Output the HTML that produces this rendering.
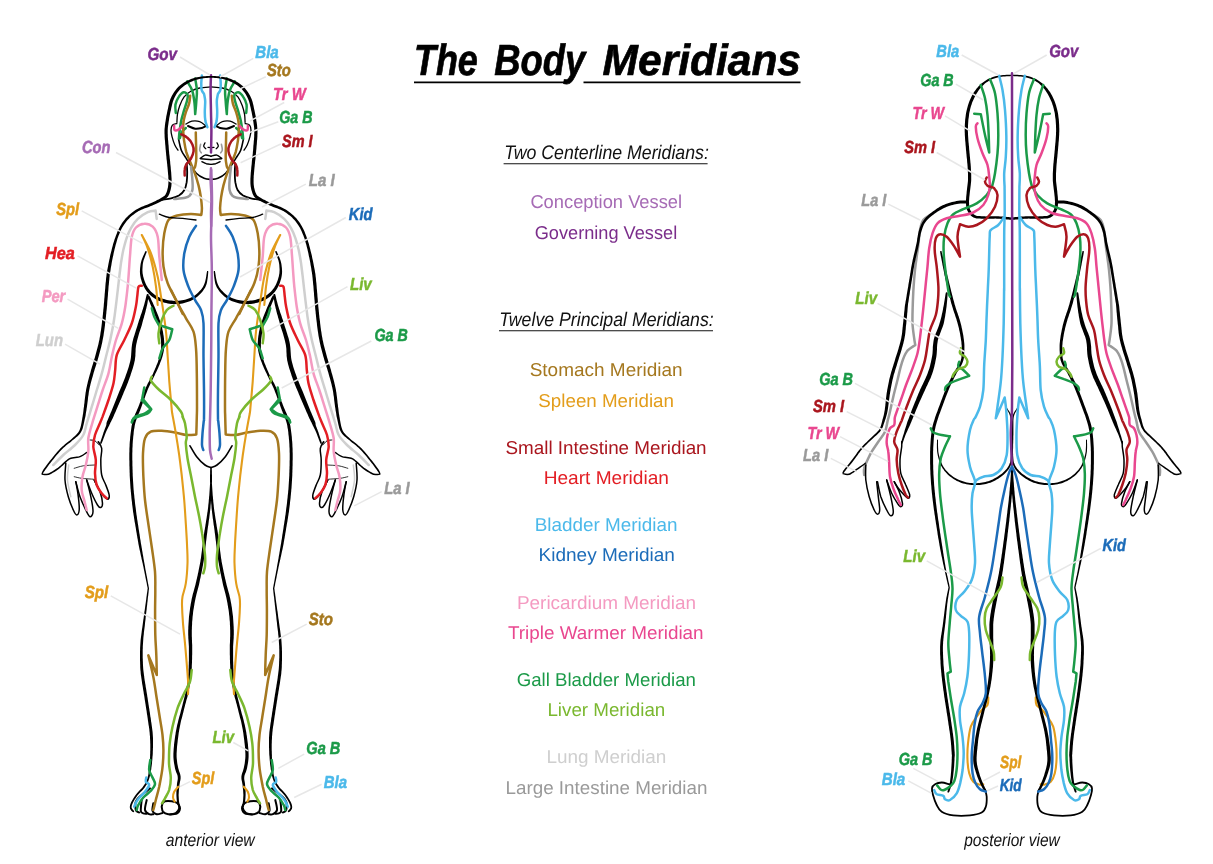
<!DOCTYPE html>
<html><head><meta charset="utf-8"><title>The Body Meridians</title>
<style>
html,body{margin:0;padding:0;background:#fff;}
svg{display:block;font-family:"Liberation Sans",sans-serif;text-rendering:geometricPrecision;will-change:transform;}
</style></head>
<body>
<svg width="1213" height="864" viewBox="0 0 1213 864">
<rect width="1213" height="864" fill="#fff"/>
<path d="M211.0 86.9C209.1 87.1 203.0 87.3 199.7 88.0C196.3 88.7 193.4 89.9 190.8 91.3C188.2 92.8 186.0 94.5 184.1 96.9C182.3 99.3 180.8 102.8 179.7 105.8C178.6 108.7 177.9 111.9 177.4 114.7C177.0 117.4 177.0 121.1 176.9 122.4" stroke="#000" stroke-width="1.3" fill="none" stroke-linecap="round" stroke-linejoin="round"/>
<path d="M211.0 86.9C212.9 87.1 219.0 87.3 222.3 88.0C225.7 88.7 228.6 89.9 231.2 91.3C233.8 92.8 236.0 94.5 237.9 96.9C239.7 99.3 241.2 102.8 242.3 105.8C243.4 108.7 244.1 111.9 244.6 114.7C245.0 117.4 245.0 121.1 245.1 122.4" stroke="#000" stroke-width="1.3" fill="none" stroke-linecap="round" stroke-linejoin="round"/>
<path d="M176.9 123.6C176.1 123.8 173.4 124.1 172.4 125.2C171.5 126.3 171.1 128.3 171.0 130.2C170.9 132.2 171.5 134.5 172.1 136.9C172.7 139.3 173.7 142.4 174.7 144.7C175.6 146.9 177.4 149.3 178.0 150.2" stroke="#000" stroke-width="1.3" fill="none" stroke-linecap="round" stroke-linejoin="round"/>
<path d="M245.1 123.6C245.9 123.8 248.6 124.1 249.6 125.2C250.5 126.3 250.9 128.3 251.0 130.2C251.1 132.2 250.5 134.5 249.9 136.9C249.3 139.3 248.3 142.4 247.3 144.7C246.4 146.9 244.6 149.3 244.0 150.2" stroke="#000" stroke-width="1.3" fill="none" stroke-linecap="round" stroke-linejoin="round"/>
<path d="M178.6 139.1C179.0 141.0 180.1 147.1 181.3 150.2C182.6 153.4 184.7 156.0 185.9 157.9C187.1 159.9 186.9 159.6 188.6 162.2C190.3 164.8 193.7 170.6 196.3 173.3C198.9 176.0 201.7 177.3 204.1 178.3C206.6 179.4 209.9 179.3 211.0 179.4" stroke="#000" stroke-width="1.6" fill="none" stroke-linecap="round" stroke-linejoin="round"/>
<path d="M243.4 139.1C243.0 141.0 241.9 147.1 240.7 150.2C239.4 153.4 237.3 156.0 236.1 157.9C234.9 159.9 235.1 159.6 233.4 162.2C231.7 164.8 228.3 170.6 225.7 173.3C223.1 176.0 220.3 177.3 217.9 178.3C215.4 179.4 212.1 179.3 211.0 179.4" stroke="#000" stroke-width="1.6" fill="none" stroke-linecap="round" stroke-linejoin="round"/>
<path d="M186.7 163.3C186.8 164.8 187.2 169.1 187.2 172.2C187.2 175.4 187.1 179.3 186.7 182.2C186.2 185.2 185.7 187.8 184.4 190.0C183.1 192.2 181.1 194.2 178.9 195.6C176.7 196.9 173.9 197.6 171.1 198.3C168.3 199.0 163.7 199.5 162.2 199.8" stroke="#000" stroke-width="1.8" fill="none" stroke-linecap="round" stroke-linejoin="round"/>
<path d="M235.3 163.3C235.2 164.8 234.8 169.1 234.8 172.2C234.8 175.4 234.9 179.3 235.3 182.2C235.8 185.2 236.3 187.8 237.6 190.0C238.9 192.2 240.9 194.2 243.1 195.6C245.3 196.9 248.1 197.6 250.9 198.3C253.7 199.0 258.3 199.5 259.8 199.8" stroke="#000" stroke-width="1.8" fill="none" stroke-linecap="round" stroke-linejoin="round"/>
<path d="M185.8 124.1C186.8 123.6 189.6 121.5 191.9 121.1C194.2 120.7 197.4 120.8 199.7 121.6C202.0 122.3 204.8 125.1 205.8 125.8" stroke="#000" stroke-width="1.2" fill="none" stroke-linecap="round" stroke-linejoin="round"/>
<path d="M236.2 124.1C235.2 123.6 232.4 121.5 230.1 121.1C227.8 120.7 224.6 120.8 222.3 121.6C220.0 122.3 217.2 125.1 216.2 125.8" stroke="#000" stroke-width="1.2" fill="none" stroke-linecap="round" stroke-linejoin="round"/>
<path d="M188.0 126.0C189.2 126.4 192.9 128.3 195.2 128.7C197.5 129.0 200.1 128.4 201.9 128.0C203.7 127.6 205.4 126.3 206.1 126.0" stroke="#000" stroke-width="2.0" fill="none" stroke-linecap="round" stroke-linejoin="round"/>
<path d="M234.0 126.0C232.8 126.4 229.1 128.3 226.8 128.7C224.5 129.0 221.9 128.4 220.1 128.0C218.3 127.6 216.6 126.3 215.9 126.0" stroke="#000" stroke-width="2.0" fill="none" stroke-linecap="round" stroke-linejoin="round"/>
<path d="M205.0 142.8C204.8 143.3 203.5 145.1 203.7 146.1C203.8 147.1 205.4 148.2 205.8 148.7" stroke="#000" stroke-width="1.3" fill="none" stroke-linecap="round" stroke-linejoin="round"/>
<path d="M217.0 142.8C217.2 143.3 218.5 145.1 218.3 146.1C218.2 147.1 216.6 148.2 216.2 148.7" stroke="#000" stroke-width="1.3" fill="none" stroke-linecap="round" stroke-linejoin="round"/>
<path d="M208.0 147.3L211.0 147.6" stroke="#000" stroke-width="1.3" fill="none" stroke-linecap="round" stroke-linejoin="round"/>
<path d="M214.0 147.3L211.0 147.6" stroke="#000" stroke-width="1.3" fill="none" stroke-linecap="round" stroke-linejoin="round"/>
<path d="M200.2 158.4C201.1 157.9 203.4 155.5 205.2 155.1C207.0 154.8 210.0 156.1 211.0 156.3" stroke="#000" stroke-width="1.4" fill="none" stroke-linecap="round" stroke-linejoin="round"/>
<path d="M221.8 158.4C220.9 157.9 218.6 155.5 216.8 155.1C215.0 154.8 212.0 156.1 211.0 156.3" stroke="#000" stroke-width="1.4" fill="none" stroke-linecap="round" stroke-linejoin="round"/>
<path d="M200.6 158.7C201.5 158.8 204.6 159.1 206.3 159.2C208.1 159.4 210.2 159.5 211.0 159.6" stroke="#000" stroke-width="1.4" fill="none" stroke-linecap="round" stroke-linejoin="round"/>
<path d="M221.4 158.7C220.5 158.8 217.4 159.1 215.7 159.2C213.9 159.4 211.8 159.5 211.0 159.6" stroke="#000" stroke-width="1.4" fill="none" stroke-linecap="round" stroke-linejoin="round"/>
<path d="M201.9 161.7C202.6 162.0 204.8 163.2 206.3 163.7C207.9 164.1 210.2 164.3 211.0 164.4" stroke="#000" stroke-width="1.4" fill="none" stroke-linecap="round" stroke-linejoin="round"/>
<path d="M220.1 161.7C219.4 162.0 217.2 163.2 215.7 163.7C214.1 164.1 211.8 164.3 211.0 164.4" stroke="#000" stroke-width="1.4" fill="none" stroke-linecap="round" stroke-linejoin="round"/>
<path d="M211.0 75.2C210.9 77.7 210.6 84.0 210.6 90.2C210.6 96.4 210.9 105.8 211.0 112.4C211.1 119.1 211.4 123.6 211.4 130.2C211.4 136.9 211.1 148.7 211.0 152.4" stroke="#7b2d8b" stroke-width="2.5" fill="none" stroke-linecap="round" stroke-linejoin="round"/>
<path d="M211.0 168.3C210.9 170.3 210.5 175.3 210.6 180.0C210.6 184.7 211.4 191.1 211.4 196.7C211.5 202.2 211.0 208.4 211.0 213.3C211.0 218.2 211.2 223.9 211.2 226.0" stroke="#a66bb5" stroke-width="2.5" fill="none" stroke-linecap="round" stroke-linejoin="round"/>
<path d="M201.9 75.6C201.8 76.7 201.4 80.1 201.3 82.4C201.3 84.8 201.1 87.7 201.6 89.7C202.0 91.6 203.7 93.4 204.1 94.1C204.3 95.3 205.1 98.3 205.2 101.3C205.3 104.4 204.7 109.1 204.8 112.4C204.8 115.7 205.0 118.7 205.4 121.1C205.9 123.6 207.1 126.2 207.4 127.2" stroke="#4bb9ea" stroke-width="2.5" fill="none" stroke-linecap="round" stroke-linejoin="round"/>
<path d="M220.1 75.6C220.2 76.7 220.6 80.1 220.7 82.4C220.7 84.8 220.9 87.7 220.4 89.7C220.0 91.6 218.3 93.4 217.9 94.1C217.7 95.3 216.9 98.3 216.8 101.3C216.7 104.4 217.3 109.1 217.2 112.4C217.2 115.7 217.0 118.7 216.6 121.1C216.1 123.6 214.9 126.2 214.6 127.2" stroke="#4bb9ea" stroke-width="2.5" fill="none" stroke-linecap="round" stroke-linejoin="round"/>
<path d="M187.2 81.3C188.0 82.8 190.9 86.9 192.1 90.2C193.3 93.6 193.8 97.4 194.3 101.3C194.9 105.3 195.1 112.0 195.2 114.1C195.4 112.0 196.1 105.3 196.3 101.3C196.6 97.4 197.1 94.0 196.9 90.2C196.7 86.4 195.5 80.5 195.2 78.6" stroke="#1b9a48" stroke-width="2.5" fill="none" stroke-linecap="round" stroke-linejoin="round"/>
<path d="M234.8 81.3C234.0 82.8 231.1 86.9 229.9 90.2C228.7 93.6 228.2 97.4 227.7 101.3C227.1 105.3 226.9 112.0 226.8 114.1C226.6 112.0 225.9 105.3 225.7 101.3C225.4 97.4 224.9 94.0 225.1 90.2C225.3 86.4 226.5 80.5 226.8 78.6" stroke="#1b9a48" stroke-width="2.5" fill="none" stroke-linecap="round" stroke-linejoin="round"/>
<path d="M175.8 113.0C175.7 111.6 175.0 107.3 175.4 104.7C175.9 102.0 177.2 99.2 178.6 97.1C179.9 95.0 182.0 92.5 183.6 92.2C185.1 91.9 187.1 93.7 187.7 95.2C188.2 96.7 187.5 98.8 186.9 101.3C186.3 103.8 185.0 107.1 184.1 110.2C183.2 113.4 182.1 116.9 181.3 120.2C180.6 123.6 180.1 127.2 179.7 130.2C179.3 133.3 179.0 137.2 178.9 138.6" stroke="#1b9a48" stroke-width="2.5" fill="none" stroke-linecap="round" stroke-linejoin="round"/>
<path d="M246.2 113.0C246.3 111.6 247.0 107.3 246.6 104.7C246.1 102.0 244.8 99.2 243.4 97.1C242.1 95.0 240.0 92.5 238.4 92.2C236.9 91.9 234.9 93.7 234.3 95.2C233.8 96.7 234.5 98.8 235.1 101.3C235.7 103.8 237.0 107.1 237.9 110.2C238.8 113.4 239.9 116.9 240.7 120.2C241.4 123.6 241.9 127.2 242.3 130.2C242.7 133.3 243.0 137.2 243.1 138.6" stroke="#1b9a48" stroke-width="2.5" fill="none" stroke-linecap="round" stroke-linejoin="round"/>
<path d="M185.8 128.0C185.2 128.6 183.1 129.9 182.1 131.6C181.1 133.2 180.3 136.9 179.9 138.0" stroke="#1b9a48" stroke-width="2.5" fill="none" stroke-linecap="round" stroke-linejoin="round"/>
<path d="M236.2 128.0C236.8 128.6 238.9 129.9 239.9 131.6C240.9 133.2 241.7 136.9 242.1 138.0" stroke="#1b9a48" stroke-width="2.5" fill="none" stroke-linecap="round" stroke-linejoin="round"/>
<path d="M190.2 95.8C190.0 97.1 189.9 100.8 189.1 103.6C188.4 106.3 186.7 109.5 185.8 112.4C184.9 115.4 184.0 118.4 183.6 121.3C183.1 124.3 183.1 127.1 183.2 130.2C183.3 133.3 183.5 136.4 184.0 140.1C184.6 143.7 185.2 148.3 186.3 152.2C187.5 156.1 189.3 159.6 190.8 163.3C192.3 167.0 193.9 170.7 195.2 174.4C196.5 178.1 197.6 181.9 198.6 185.6C199.5 189.3 200.2 193.0 200.8 196.7C201.3 200.4 201.8 204.7 201.9 207.8C202.0 210.8 201.4 213.8 201.3 215.0C199.6 214.8 194.7 213.8 190.7 213.9C186.7 214.0 181.0 214.5 177.3 215.5C173.6 216.5 170.7 217.0 168.5 220.0C166.3 223.0 165.3 228.3 164.3 233.3C163.4 238.3 162.8 244.4 162.7 250.0C162.5 255.6 162.7 261.1 163.5 266.7C164.3 272.2 165.6 277.8 167.7 283.3C169.8 288.9 173.5 294.9 176.0 300.0C178.5 305.1 181.6 311.7 182.7 314.0" stroke="#a5781f" stroke-width="2.5" fill="none" stroke-linecap="round" stroke-linejoin="round"/>
<path d="M231.8 95.8C232.0 97.1 232.1 100.8 232.9 103.6C233.6 106.3 235.3 109.5 236.2 112.4C237.1 115.4 238.0 118.4 238.4 121.3C238.9 124.3 238.9 127.1 238.8 130.2C238.7 133.3 238.5 136.4 238.0 140.1C237.4 143.7 236.8 148.3 235.7 152.2C234.5 156.1 232.7 159.6 231.2 163.3C229.7 167.0 228.1 170.7 226.8 174.4C225.5 178.1 224.4 181.9 223.4 185.6C222.5 189.3 221.8 193.0 221.2 196.7C220.7 200.4 220.2 204.7 220.1 207.8C220.0 210.8 220.6 213.8 220.7 215.0C222.4 214.8 227.3 213.8 231.3 213.9C235.3 214.0 241.0 214.5 244.7 215.5C248.4 216.5 251.3 217.0 253.5 220.0C255.7 223.0 256.7 228.3 257.7 233.3C258.6 238.3 259.2 244.4 259.3 250.0C259.5 255.6 259.3 261.1 258.5 266.7C257.7 272.2 256.4 277.8 254.3 283.3C252.2 288.9 248.5 294.9 246.0 300.0C243.5 305.1 240.4 311.7 239.3 314.0" stroke="#a5781f" stroke-width="2.5" fill="none" stroke-linecap="round" stroke-linejoin="round"/>
<path d="M195.8 132.4C195.8 134.7 196.0 141.7 196.1 145.8C196.2 149.9 196.3 154.3 196.3 156.9C196.3 159.4 196.3 159.4 196.1 161.1C195.8 162.8 195.5 165.8 195.0 167.2C194.5 168.6 193.1 169.1 192.8 169.4" stroke="#a5781f" stroke-width="2.5" fill="none" stroke-linecap="round" stroke-linejoin="round"/>
<path d="M226.2 132.4C226.2 134.7 226.0 141.7 225.9 145.8C225.8 149.9 225.7 154.3 225.7 156.9C225.7 159.4 225.7 159.4 225.9 161.1C226.2 162.8 226.5 165.8 227.0 167.2C227.5 168.6 228.9 169.1 229.2 169.4" stroke="#a5781f" stroke-width="2.5" fill="none" stroke-linecap="round" stroke-linejoin="round"/>
<path d="M181.3 134.4C182.4 135.0 185.6 136.1 187.4 137.8C189.3 139.4 191.4 142.2 192.4 144.4C193.5 146.7 193.8 148.7 193.6 151.1C193.3 153.5 192.0 156.7 190.8 158.9C189.6 161.1 187.4 162.6 186.3 164.4C185.3 166.3 184.9 168.1 184.7 170.0C184.4 171.9 184.7 174.6 184.7 175.6" stroke="#aa161e" stroke-width="2.5" fill="none" stroke-linecap="round" stroke-linejoin="round"/>
<path d="M240.7 134.4C239.6 135.0 236.4 136.1 234.6 137.8C232.7 139.4 230.6 142.2 229.6 144.4C228.5 146.7 228.2 148.7 228.4 151.1C228.7 153.5 230.0 156.7 231.2 158.9C232.4 161.1 234.6 162.6 235.7 164.4C236.7 166.3 237.1 168.1 237.3 170.0C237.6 171.9 237.3 174.6 237.3 175.6" stroke="#aa161e" stroke-width="2.5" fill="none" stroke-linecap="round" stroke-linejoin="round"/>
<path d="M174.1 125.8C174.2 126.5 173.9 129.6 174.7 130.2C175.4 130.9 177.3 130.4 178.6 129.7C179.9 128.9 181.8 126.4 182.4 125.8" stroke="#e9478f" stroke-width="2.5" fill="none" stroke-linecap="round" stroke-linejoin="round"/>
<path d="M247.9 125.8C247.8 126.5 248.1 129.6 247.3 130.2C246.6 130.9 244.7 130.4 243.4 129.7C242.1 128.9 240.2 126.4 239.6 125.8" stroke="#e9478f" stroke-width="2.5" fill="none" stroke-linecap="round" stroke-linejoin="round"/>
<path d="M200.6 144.4C200.4 145.4 199.5 148.6 199.7 150.0C199.8 151.4 201.1 152.3 201.3 152.8" stroke="#9a9a9a" stroke-width="1.6" fill="none" stroke-linecap="round" stroke-linejoin="round"/>
<path d="M221.4 144.4C221.6 145.4 222.5 148.6 222.3 150.0C222.2 151.4 220.9 152.3 220.7 152.8" stroke="#9a9a9a" stroke-width="1.6" fill="none" stroke-linecap="round" stroke-linejoin="round"/>
<path d="M191.0 166.7C191.2 168.9 192.2 176.1 192.4 180.0C192.7 183.9 192.9 187.4 192.4 190.0C192.0 192.6 190.9 194.3 189.7 195.6C188.5 196.9 187.8 197.2 185.2 197.8C182.6 198.4 176.0 198.9 174.1 199.1" stroke="#9a9a9a" stroke-width="2.5" fill="none" stroke-linecap="round" stroke-linejoin="round"/>
<path d="M231.0 166.7C230.8 168.9 229.8 176.1 229.6 180.0C229.3 183.9 229.1 187.4 229.6 190.0C230.0 192.6 231.1 194.3 232.3 195.6C233.5 196.9 234.2 197.2 236.8 197.8C239.4 198.4 246.0 198.9 247.9 199.1" stroke="#9a9a9a" stroke-width="2.5" fill="none" stroke-linecap="round" stroke-linejoin="round"/>
<path d="M211.0 76.1L210.0 76.1L208.6 76.1L207.0 76.1L205.2 76.2L203.4 76.3L201.7 76.5L200.2 76.7L198.7 76.9L197.2 77.2L195.6 77.6L194.1 78.0L192.6 78.5L191.0 79.1L189.5 79.7L187.9 80.4L186.3 81.2L184.8 82.0L183.3 83.0L181.9 83.9L180.6 85.0L179.3 86.1L178.0 87.3L176.8 88.5L175.7 89.9L174.7 91.2L173.7 92.7L172.8 94.2L171.9 95.8L171.1 97.4L170.4 99.1L169.9 100.6L169.4 102.1L169.0 103.7L168.6 105.3L168.3 106.8L168.0 108.4L167.6 109.9L167.3 111.5L167.0 113.0L166.7 114.6L166.3 116.2L166.1 117.8L165.8 119.4L165.6 120.9L165.3 122.5L165.1 123.9L164.9 125.4L164.8 126.9L164.6 128.5L164.5 130.3L164.5 132.2L164.5 133.6L164.6 135.0L164.6 136.4L164.7 138.0L164.8 139.5L165.0 141.1L165.1 142.7L165.2 144.3L165.4 145.9L165.5 147.5L165.6 149.0L165.8 150.6L165.9 152.1L166.1 153.7L166.2 155.3L166.4 156.8L166.5 158.4L166.7 159.9L166.9 161.4L167.0 162.9L167.2 164.3L167.3 165.7L167.5 167.6L167.7 169.4L167.8 171.1L168.0 172.9L168.1 174.5L168.3 176.1L168.3 177.5L168.4 178.9L168.4 181.0L168.4 182.8L168.3 184.4L168.1 185.9L167.9 187.5L167.5 189.1L167.1 190.7L166.6 192.2L166.0 193.6L165.4 194.7L164.6 195.7L163.8 196.3L162.7 197.1L161.0 198.0L159.9 198.7L158.6 199.4L157.1 200.1L155.6 200.9L153.9 201.7L152.3 202.5L150.6 203.2L149.3 203.8L147.8 204.4L146.4 205.0L144.8 205.6L143.3 206.2L141.7 206.8L140.2 207.5L138.8 208.2L137.4 208.9L135.9 209.8L134.5 210.7L133.1 211.7L131.8 212.7L130.6 213.7L129.4 214.8L128.2 215.8L127.1 216.9L125.9 218.1L124.8 219.4L123.8 220.7L122.8 222.0L121.9 223.3L121.1 224.7L120.3 226.0L119.5 227.4L118.7 228.9L118.1 230.3L117.4 231.8L116.9 233.2L116.3 234.7L115.7 236.2L115.2 237.8L114.6 239.3L114.1 240.9L113.6 242.5L113.1 244.1L112.7 245.8L112.2 247.4L111.8 248.9L111.5 250.4L111.1 252.0L110.7 253.5L110.3 255.1L110.0 256.6L109.7 258.2L109.3 259.7L109.0 261.2L108.7 262.8L108.4 264.3L108.1 265.9L107.8 267.4L107.5 269.0L107.2 270.5L107.0 272.0L106.7 273.5L106.5 274.9L106.4 276.2L106.2 277.6L106.0 279.2L105.9 281.0L105.6 283.2L105.5 284.4L105.4 285.8L105.3 287.2L105.2 288.7L105.0 290.3L104.9 292.0L104.7 293.7L104.6 295.4L104.5 297.1L104.3 298.8L104.2 300.4L104.1 302.1L103.9 303.6L103.8 305.1L103.7 306.5L103.5 308.2L103.3 309.9L103.2 311.5L103.0 313.0L102.9 314.5L102.7 315.9L102.6 317.4L102.4 318.8L102.2 320.2L102.0 321.6L101.9 323.1L101.7 324.6L101.5 326.2L101.3 327.7L101.1 329.2L100.9 330.7L100.6 332.2L100.4 333.7L100.2 335.2L99.9 336.7L99.6 338.2L99.4 339.7L99.0 341.2L98.7 342.7L98.4 344.2L98.0 345.7L97.6 347.2L97.2 348.7L96.8 350.2L96.4 351.7L96.0 353.2L95.6 354.7L95.2 356.2L94.8 357.7L94.3 359.2L93.9 360.7L93.4 362.2L93.0 363.7L92.5 365.3L92.0 366.8L91.6 368.3L91.1 369.8L90.7 371.4L90.3 372.9L89.8 374.4L89.4 375.9L89.0 377.5L88.6 379.0L88.2 380.5L87.8 382.0L87.5 383.6L87.1 385.1L86.8 386.6L86.4 388.2L86.1 389.7L85.9 391.3L85.6 392.8L85.4 394.4L85.2 396.0L85.0 397.6L84.8 399.2L84.6 400.7L84.5 402.2L84.3 403.7L84.1 405.1L84.0 406.5L83.7 408.3L83.5 410.1L83.3 411.7L83.1 413.4L82.8 414.9L82.6 416.5L82.3 418.0L82.1 419.6L81.8 421.1L81.5 422.7L81.2 424.3L80.9 425.8L80.5 427.2L80.1 428.6L79.6 429.9L79.1 431.1L78.2 432.4L77.3 433.6L76.2 434.8L75.0 435.9L73.7 437.0L72.4 438.2L71.1 439.4L69.9 440.4L68.8 441.3L67.5 442.3L66.2 443.3L65.0 444.3L63.7 445.4L62.4 446.5L61.1 447.7L60.0 448.8L59.0 449.9L58.0 451.1L56.9 452.3L55.9 453.5L54.8 454.8L53.8 456.0L52.8 457.2L51.9 458.4L51.0 459.5L49.9 460.8L48.8 462.2L47.8 463.6L46.7 465.0L45.8 466.2L44.9 467.5L44.1 468.6L43.4 469.5L42.3 471.6L41.7 473.0L41.4 473.9L42.6 474.4L43.0 473.6L43.6 472.3L44.9 470.5L45.5 469.5L46.3 468.4L47.2 467.3L48.1 466.0L49.1 464.6L50.2 463.3L51.2 461.9L52.3 460.5L53.2 459.4L54.2 458.3L55.1 457.1L56.1 455.8L57.2 454.6L58.2 453.4L59.2 452.2L60.3 451.1L61.3 450.0L62.3 448.9L63.5 447.8L64.8 446.7L66.0 445.6L67.3 444.6L68.6 443.6L69.8 442.7L71.0 441.7L72.2 440.6L73.6 439.5L74.9 438.4L76.2 437.3L77.6 436.2L78.8 435.0L79.9 433.7L80.9 432.2L81.7 430.8L82.3 429.4L82.8 427.9L83.2 426.3L83.6 424.8L83.9 423.2L84.3 421.6L84.6 420.1L84.9 418.5L85.3 417.0L85.6 415.4L85.8 413.8L86.1 412.1L86.4 410.5L86.6 408.7L86.9 406.9L87.1 405.5L87.3 404.1L87.5 402.6L87.7 401.1L87.9 399.5L88.0 398.0L88.2 396.4L88.5 394.9L88.7 393.3L88.9 391.8L89.2 390.3L89.5 388.8L89.8 387.3L90.2 385.8L90.5 384.3L90.9 382.8L91.3 381.3L91.7 379.8L92.1 378.3L92.6 376.8L93.0 375.3L93.4 373.8L93.8 372.3L94.3 370.8L94.7 369.3L95.2 367.8L95.7 366.3L96.2 364.7L96.6 363.2L97.1 361.7L97.6 360.2L98.0 358.6L98.5 357.1L98.9 355.6L99.3 354.1L99.7 352.6L100.1 351.0L100.5 349.5L100.9 348.0L101.3 346.5L101.6 344.9L102.0 343.4L102.3 341.9L102.6 340.3L102.9 338.8L103.2 337.3L103.5 335.7L103.7 334.2L103.9 332.7L104.2 331.1L104.4 329.6L104.6 328.1L104.8 326.6L105.0 325.1L105.1 323.5L105.3 322.0L105.5 320.6L105.7 319.1L105.8 317.7L106.0 316.3L106.1 314.8L106.3 313.4L106.4 311.8L106.6 310.2L106.8 308.6L106.9 306.8L107.1 305.4L107.2 303.9L107.3 302.3L107.4 300.7L107.6 299.0L107.7 297.4L107.9 295.6L108.0 293.9L108.1 292.2L108.3 290.6L108.4 289.0L108.5 287.5L108.6 286.1L108.8 284.7L108.9 283.5L109.1 281.3L109.3 279.5L109.4 278.0L109.6 276.6L109.7 275.3L109.9 274.0L110.1 272.5L110.4 271.0L110.6 269.5L110.8 268.0L111.1 266.5L111.4 264.9L111.6 263.4L111.9 261.8L112.2 260.3L112.5 258.8L112.8 257.2L113.2 255.7L113.5 254.1L113.8 252.6L114.2 251.1L114.5 249.6L114.9 248.1L115.3 246.5L115.7 244.8L116.2 243.2L116.6 241.7L117.1 240.1L117.5 238.6L118.1 237.1L118.6 235.6L119.2 234.2L119.8 232.7L120.4 231.3L121.0 230.0L121.7 228.6L122.4 227.3L123.2 226.0L124.0 224.7L124.9 223.4L125.8 222.2L126.7 221.0L127.8 219.8L128.9 218.7L129.9 217.6L131.0 216.6L132.2 215.6L133.4 214.7L134.6 213.7L135.9 212.8L137.2 211.9L138.6 211.1L139.9 210.4L141.3 209.8L142.7 209.2L144.2 208.6L145.8 208.0L147.3 207.5L148.8 206.9L150.3 206.3L151.7 205.8L153.4 205.0L155.1 204.2L156.8 203.5L158.4 202.7L159.9 202.0L161.3 201.3L162.5 200.6L164.2 199.7L165.6 198.8L166.8 197.8L168.0 196.4L168.8 195.0L169.5 193.4L170.1 191.6L170.6 189.9L171.0 188.1L171.3 186.4L171.5 184.6L171.6 182.9L171.6 181.0L171.6 178.8L171.5 177.4L171.4 175.8L171.3 174.2L171.2 172.6L171.0 170.8L170.8 169.1L170.7 167.3L170.5 165.4L170.3 164.0L170.2 162.6L170.1 161.1L169.9 159.6L169.7 158.0L169.6 156.5L169.4 154.9L169.2 153.4L169.1 151.8L168.9 150.3L168.8 148.8L168.7 147.2L168.6 145.6L168.4 144.1L168.3 142.5L168.2 140.9L168.0 139.3L167.9 137.8L167.8 136.3L167.8 134.8L167.7 133.5L167.7 132.2L167.7 130.4L167.8 128.8L167.9 127.2L168.1 125.8L168.3 124.4L168.5 122.9L168.7 121.4L169.0 119.9L169.2 118.3L169.5 116.8L169.8 115.2L170.1 113.7L170.4 112.1L170.8 110.6L171.1 109.0L171.4 107.5L171.8 105.9L172.1 104.4L172.5 103.0L172.9 101.6L173.4 100.2L174.0 98.7L174.7 97.2L175.5 95.7L176.3 94.3L177.1 93.0L178.1 91.7L179.1 90.5L180.1 89.3L181.2 88.2L182.4 87.2L183.6 86.2L184.9 85.3L186.2 84.4L187.6 83.6L189.0 82.8L190.5 82.1L192.0 81.4L193.4 80.8L194.8 80.3L196.3 79.8L197.7 79.4L199.1 79.0L200.6 78.7L202.0 78.4L203.6 78.2L205.3 78.0L207.0 77.9L208.7 77.8L210.0 77.8L211.0 77.7ZM210.2 76.9a0.80 0.80 0 1 0 1.60 0a0.80 0.80 0 1 0 -1.60 0ZM41.4 474.2a0.60 0.60 0 1 0 1.20 0a0.60 0.60 0 1 0 -1.20 0ZM41.9 474.8L43.0 474.9L44.5 475.2L46.4 475.3L48.6 474.9L49.9 474.4L51.4 473.7L52.9 472.8L54.4 471.9L56.0 470.9L57.4 469.9L58.8 469.0L60.3 467.8L61.6 466.6L62.9 465.4L64.1 464.2L65.3 463.2L66.3 462.2L67.6 461.1L68.7 460.3L69.7 459.6L71.1 459.0L72.3 458.7L73.8 458.5L75.4 458.3L77.1 458.1L78.7 457.8L80.3 457.3L81.9 456.6L83.6 455.6L85.0 454.6L86.2 453.7L87.1 453.1L86.3 451.9L85.4 452.5L84.2 453.4L82.8 454.4L81.3 455.3L79.7 456.0L78.4 456.4L76.9 456.6L75.2 456.8L73.6 457.0L72.0 457.3L70.6 457.6L69.0 458.3L67.8 459.1L66.7 460.0L65.3 461.1L64.2 462.0L63.1 463.1L61.9 464.3L60.6 465.5L59.3 466.6L57.9 467.7L56.6 468.6L55.1 469.6L53.6 470.5L52.1 471.4L50.6 472.2L49.3 472.9L48.1 473.4L46.3 473.8L44.6 473.8L43.1 473.7L42.1 473.6ZM41.4 474.2a0.60 0.60 0 1 0 1.20 0a0.60 0.60 0 1 0 -1.20 0ZM86.0 452.5a0.70 0.70 0 1 0 1.40 0a0.70 0.70 0 1 0 -1.40 0ZM211.0 77.7L212.0 77.8L213.3 77.8L215.0 77.9L216.7 78.0L218.4 78.2L220.0 78.4L221.4 78.7L222.9 79.0L224.3 79.4L225.7 79.8L227.2 80.3L228.6 80.8L230.0 81.4L231.5 82.1L233.0 82.8L234.4 83.6L235.8 84.4L237.1 85.3L238.4 86.2L239.6 87.2L240.8 88.2L241.9 89.3L242.9 90.5L243.9 91.7L244.9 93.0L245.7 94.3L246.5 95.7L247.3 97.2L248.0 98.7L248.6 100.2L249.1 101.6L249.5 103.0L249.9 104.4L250.2 105.9L250.6 107.5L250.9 109.0L251.2 110.6L251.6 112.1L251.9 113.7L252.2 115.2L252.5 116.8L252.8 118.3L253.0 119.9L253.3 121.4L253.5 122.9L253.7 124.4L253.9 125.8L254.1 127.2L254.2 128.8L254.3 130.4L254.3 132.2L254.3 133.5L254.2 134.8L254.2 136.3L254.1 137.8L254.0 139.3L253.8 140.9L253.7 142.5L253.6 144.1L253.4 145.6L253.3 147.2L253.2 148.8L253.1 150.3L252.9 151.8L252.8 153.4L252.6 154.9L252.4 156.5L252.3 158.0L252.1 159.6L251.9 161.1L251.8 162.6L251.7 164.0L251.5 165.4L251.3 167.3L251.2 169.1L251.0 170.8L250.8 172.6L250.7 174.2L250.6 175.8L250.5 177.4L250.4 178.8L250.4 181.0L250.4 182.9L250.5 184.6L250.7 186.4L251.0 188.1L251.4 189.9L251.9 191.6L252.5 193.4L253.2 195.0L254.0 196.4L255.2 197.8L256.4 198.8L257.8 199.7L259.5 200.6L260.7 201.3L262.1 202.0L263.6 202.7L265.2 203.5L266.9 204.2L268.6 205.0L270.3 205.8L271.7 206.3L273.2 206.9L274.7 207.5L276.2 208.0L277.8 208.6L279.3 209.2L280.7 209.8L282.1 210.4L283.4 211.1L284.8 211.9L286.1 212.8L287.4 213.7L288.6 214.7L289.8 215.6L291.0 216.6L292.1 217.6L293.1 218.7L294.2 219.8L295.3 221.0L296.2 222.2L297.1 223.4L298.0 224.7L298.8 226.0L299.6 227.3L300.3 228.6L301.0 230.0L301.6 231.3L302.2 232.7L302.8 234.2L303.4 235.6L303.9 237.1L304.5 238.6L304.9 240.1L305.4 241.7L305.8 243.2L306.3 244.8L306.7 246.5L307.1 248.1L307.5 249.6L307.8 251.1L308.2 252.6L308.5 254.1L308.8 255.7L309.2 257.2L309.5 258.8L309.8 260.3L310.1 261.8L310.4 263.4L310.6 264.9L310.9 266.5L311.2 268.0L311.4 269.5L311.6 271.0L311.9 272.5L312.1 274.0L312.3 275.3L312.4 276.6L312.6 278.0L312.7 279.5L312.9 281.3L313.1 283.5L313.2 284.7L313.4 286.1L313.5 287.5L313.6 289.0L313.7 290.6L313.9 292.2L314.0 293.9L314.1 295.6L314.3 297.4L314.4 299.0L314.6 300.7L314.7 302.3L314.8 303.9L314.9 305.4L315.1 306.8L315.2 308.6L315.4 310.2L315.6 311.8L315.7 313.4L315.9 314.8L316.0 316.3L316.2 317.7L316.3 319.1L316.5 320.6L316.7 322.0L316.9 323.5L317.0 325.1L317.2 326.6L317.4 328.1L317.6 329.6L317.8 331.1L318.1 332.7L318.3 334.2L318.5 335.7L318.8 337.3L319.1 338.8L319.4 340.3L319.7 341.9L320.0 343.4L320.4 344.9L320.7 346.5L321.1 348.0L321.5 349.5L321.9 351.0L322.3 352.6L322.7 354.1L323.1 355.6L323.5 357.1L324.0 358.6L324.4 360.2L324.9 361.7L325.4 363.2L325.8 364.7L326.3 366.3L326.8 367.8L327.3 369.3L327.7 370.8L328.2 372.3L328.6 373.8L329.0 375.3L329.4 376.8L329.9 378.3L330.3 379.8L330.7 381.3L331.1 382.8L331.5 384.3L331.8 385.8L332.2 387.3L332.5 388.8L332.8 390.3L333.1 391.8L333.3 393.3L333.5 394.9L333.8 396.4L334.0 398.0L334.1 399.5L334.3 401.1L334.5 402.6L334.7 404.1L334.9 405.5L335.1 406.9L335.4 408.7L335.6 410.5L335.9 412.1L336.2 413.8L336.4 415.4L336.7 417.0L337.1 418.5L337.4 420.1L337.7 421.6L338.1 423.2L338.4 424.8L338.8 426.3L339.2 427.9L339.7 429.4L340.3 430.8L341.1 432.2L342.1 433.7L343.2 435.0L344.4 436.2L345.8 437.3L347.1 438.4L348.4 439.5L349.8 440.6L351.0 441.7L352.2 442.7L353.4 443.6L354.7 444.6L356.0 445.6L357.2 446.7L358.5 447.8L359.7 448.9L360.7 450.0L361.7 451.1L362.8 452.2L363.8 453.4L364.8 454.6L365.9 455.8L366.9 457.1L367.8 458.3L368.8 459.4L369.7 460.5L370.8 461.9L371.8 463.3L372.9 464.6L373.9 466.0L374.8 467.3L375.7 468.4L376.5 469.5L377.1 470.5L378.4 472.3L379.0 473.6L379.4 474.4L380.6 473.9L380.3 473.0L379.7 471.6L378.6 469.5L377.9 468.6L377.1 467.5L376.2 466.2L375.3 465.0L374.2 463.6L373.2 462.2L372.1 460.8L371.0 459.5L370.1 458.4L369.2 457.2L368.2 456.0L367.2 454.8L366.1 453.5L365.1 452.3L364.0 451.1L363.0 449.9L362.0 448.8L360.9 447.7L359.6 446.5L358.3 445.4L357.0 444.3L355.8 443.3L354.5 442.3L353.2 441.3L352.1 440.4L350.9 439.4L349.6 438.2L348.3 437.0L347.0 435.9L345.8 434.8L344.7 433.6L343.8 432.4L342.9 431.1L342.4 429.9L341.9 428.6L341.5 427.2L341.1 425.8L340.8 424.3L340.5 422.7L340.2 421.1L339.9 419.6L339.7 418.0L339.4 416.5L339.2 414.9L338.9 413.4L338.7 411.7L338.5 410.1L338.3 408.3L338.0 406.5L337.9 405.1L337.7 403.7L337.5 402.2L337.4 400.7L337.2 399.2L337.0 397.6L336.8 396.0L336.6 394.4L336.4 392.8L336.1 391.3L335.9 389.7L335.6 388.2L335.2 386.6L334.9 385.1L334.5 383.6L334.2 382.0L333.8 380.5L333.4 379.0L333.0 377.5L332.6 375.9L332.2 374.4L331.7 372.9L331.3 371.4L330.9 369.8L330.4 368.3L330.0 366.8L329.5 365.3L329.0 363.7L328.6 362.2L328.1 360.7L327.7 359.2L327.2 357.7L326.8 356.2L326.4 354.7L326.0 353.2L325.6 351.7L325.2 350.2L324.8 348.7L324.4 347.2L324.0 345.7L323.6 344.2L323.3 342.7L323.0 341.2L322.6 339.7L322.4 338.2L322.1 336.7L321.8 335.2L321.6 333.7L321.4 332.2L321.1 330.7L320.9 329.2L320.7 327.7L320.5 326.2L320.3 324.6L320.1 323.1L320.0 321.6L319.8 320.2L319.6 318.8L319.4 317.4L319.3 315.9L319.1 314.5L319.0 313.0L318.8 311.5L318.7 309.9L318.5 308.2L318.3 306.5L318.2 305.1L318.1 303.6L317.9 302.1L317.8 300.4L317.7 298.8L317.5 297.1L317.4 295.4L317.3 293.7L317.1 292.0L317.0 290.3L316.8 288.7L316.7 287.2L316.6 285.8L316.5 284.4L316.4 283.2L316.1 281.0L316.0 279.2L315.8 277.6L315.6 276.2L315.5 274.9L315.3 273.5L315.0 272.0L314.8 270.5L314.5 269.0L314.2 267.4L313.9 265.9L313.6 264.3L313.3 262.8L313.0 261.2L312.7 259.7L312.3 258.2L312.0 256.6L311.7 255.1L311.3 253.5L310.9 252.0L310.5 250.4L310.2 248.9L309.8 247.4L309.3 245.8L308.9 244.1L308.4 242.5L307.9 240.9L307.4 239.3L306.8 237.8L306.3 236.2L305.7 234.7L305.1 233.2L304.6 231.8L303.9 230.3L303.3 228.9L302.5 227.4L301.7 226.0L300.9 224.7L300.1 223.3L299.2 222.0L298.2 220.7L297.2 219.4L296.1 218.1L294.9 216.9L293.8 215.8L292.6 214.8L291.4 213.7L290.2 212.7L288.9 211.7L287.5 210.7L286.1 209.8L284.6 208.9L283.2 208.2L281.8 207.5L280.3 206.8L278.7 206.2L277.2 205.6L275.6 205.0L274.2 204.4L272.7 203.8L271.4 203.2L269.7 202.5L268.1 201.7L266.4 200.9L264.9 200.1L263.4 199.4L262.1 198.7L261.0 198.0L259.3 197.1L258.2 196.3L257.4 195.7L256.6 194.7L256.0 193.6L255.4 192.2L254.9 190.7L254.5 189.1L254.1 187.5L253.9 185.9L253.7 184.4L253.6 182.8L253.6 181.0L253.6 178.9L253.7 177.5L253.7 176.1L253.9 174.5L254.0 172.9L254.2 171.1L254.3 169.4L254.5 167.6L254.7 165.7L254.8 164.3L255.0 162.9L255.1 161.4L255.3 159.9L255.5 158.4L255.6 156.8L255.8 155.3L255.9 153.7L256.1 152.1L256.2 150.6L256.4 149.0L256.5 147.5L256.6 145.9L256.8 144.3L256.9 142.7L257.0 141.1L257.2 139.5L257.3 138.0L257.4 136.4L257.4 135.0L257.5 133.6L257.5 132.2L257.5 130.3L257.4 128.5L257.2 126.9L257.1 125.4L256.9 123.9L256.7 122.5L256.4 120.9L256.2 119.4L255.9 117.8L255.7 116.2L255.3 114.6L255.0 113.0L254.7 111.5L254.4 109.9L254.0 108.4L253.7 106.8L253.4 105.3L253.0 103.7L252.6 102.1L252.1 100.6L251.6 99.1L250.9 97.4L250.1 95.8L249.2 94.2L248.3 92.7L247.3 91.2L246.3 89.9L245.2 88.5L244.0 87.3L242.7 86.1L241.4 85.0L240.1 83.9L238.7 83.0L237.2 82.0L235.7 81.2L234.1 80.4L232.5 79.7L231.0 79.1L229.4 78.5L227.9 78.0L226.4 77.6L224.8 77.2L223.3 76.9L221.8 76.7L220.3 76.5L218.6 76.3L216.8 76.2L215.0 76.1L213.4 76.1L212.0 76.1L211.0 76.1ZM210.2 76.9a0.80 0.80 0 1 0 1.60 0a0.80 0.80 0 1 0 -1.60 0ZM379.4 474.2a0.60 0.60 0 1 0 1.20 0a0.60 0.60 0 1 0 -1.20 0ZM379.9 473.6L378.9 473.7L377.4 473.8L375.7 473.8L373.9 473.4L372.7 472.9L371.4 472.2L369.9 471.4L368.4 470.5L366.9 469.6L365.4 468.6L364.1 467.7L362.7 466.6L361.4 465.5L360.1 464.3L358.9 463.1L357.8 462.0L356.7 461.1L355.3 460.0L354.2 459.1L353.0 458.3L351.4 457.6L350.0 457.3L348.4 457.0L346.8 456.8L345.1 456.6L343.6 456.4L342.3 456.0L340.7 455.3L339.2 454.4L337.8 453.4L336.6 452.5L335.7 451.9L334.9 453.1L335.8 453.7L337.0 454.6L338.4 455.6L340.1 456.6L341.7 457.3L343.3 457.8L344.9 458.1L346.6 458.3L348.2 458.5L349.7 458.7L350.9 459.0L352.3 459.6L353.3 460.3L354.4 461.1L355.7 462.2L356.7 463.2L357.9 464.2L359.1 465.4L360.4 466.6L361.7 467.8L363.2 469.0L364.6 469.9L366.0 470.9L367.6 471.9L369.1 472.8L370.6 473.7L372.1 474.4L373.4 474.9L375.6 475.3L377.5 475.2L379.0 474.9L380.1 474.8ZM379.4 474.2a0.60 0.60 0 1 0 1.20 0a0.60 0.60 0 1 0 -1.20 0ZM334.6 452.5a0.70 0.70 0 1 0 1.40 0a0.70 0.70 0 1 0 -1.40 0Z" fill="#000"/>
<path d="M65.8 463.3C65.7 466.1 64.6 474.4 65.0 480.0C65.4 485.6 66.9 491.7 68.3 496.7C69.7 501.7 71.9 506.9 73.3 510.0C74.7 513.1 75.7 515.0 76.7 515.0C77.6 515.0 78.9 513.1 79.2 510.0C79.4 506.9 78.9 501.4 78.3 496.7C77.8 491.9 76.3 484.2 75.8 481.7" stroke="#000" stroke-width="1.5" fill="none" stroke-linecap="round" stroke-linejoin="round"/>
<path d="M356.2 463.3C356.3 466.1 357.4 474.4 357.0 480.0C356.6 485.6 355.1 491.7 353.7 496.7C352.3 501.7 350.1 506.9 348.7 510.0C347.3 513.1 346.3 515.0 345.3 515.0C344.4 515.0 343.1 513.1 342.8 510.0C342.6 506.9 343.1 501.4 343.7 496.7C344.2 491.9 345.7 484.2 346.2 481.7" stroke="#000" stroke-width="1.5" fill="none" stroke-linecap="round" stroke-linejoin="round"/>
<path d="M75.8 481.7C76.5 484.2 78.3 491.9 80.0 496.7C81.7 501.4 84.2 506.7 85.8 510.0C87.5 513.3 88.8 516.4 90.0 516.7C91.2 516.9 92.9 515.0 93.0 511.7C93.1 508.3 91.9 501.9 90.8 496.7C89.8 491.4 87.4 482.8 86.7 480.0" stroke="#000" stroke-width="1.5" fill="none" stroke-linecap="round" stroke-linejoin="round"/>
<path d="M346.2 481.7C345.5 484.2 343.7 491.9 342.0 496.7C340.3 501.4 337.8 506.7 336.2 510.0C334.5 513.3 333.2 516.4 332.0 516.7C330.8 516.9 329.1 515.0 329.0 511.7C328.9 508.3 330.1 501.9 331.2 496.7C332.2 491.4 334.6 482.8 335.3 480.0" stroke="#000" stroke-width="1.5" fill="none" stroke-linecap="round" stroke-linejoin="round"/>
<path d="M86.7 480.0C87.5 482.2 89.9 489.2 91.7 493.3C93.5 497.5 96.0 502.6 97.5 505.0C99.0 507.4 100.0 507.8 100.8 507.5C101.7 507.2 102.6 506.0 102.5 503.3C102.4 500.7 101.4 495.6 100.0 491.7C98.6 487.8 95.1 481.9 94.2 480.0" stroke="#000" stroke-width="1.5" fill="none" stroke-linecap="round" stroke-linejoin="round"/>
<path d="M335.3 480.0C334.5 482.2 332.1 489.2 330.3 493.3C328.5 497.5 326.0 502.6 324.5 505.0C323.0 507.4 322.0 507.8 321.2 507.5C320.3 507.2 319.4 506.0 319.5 503.3C319.6 500.7 320.6 495.6 322.0 491.7C323.4 487.8 326.9 481.9 327.8 480.0" stroke="#000" stroke-width="1.5" fill="none" stroke-linecap="round" stroke-linejoin="round"/>
<path d="M94.2 480.0C94.9 481.4 96.7 485.6 98.3 488.3C100.0 491.1 102.6 494.9 104.2 496.7C105.8 498.5 107.2 499.4 108.0 499.2C108.8 498.9 109.5 497.4 109.2 495.0C108.8 492.6 107.1 488.3 105.8 485.0C104.6 481.7 102.5 479.2 101.7 475.0C100.8 470.8 100.8 464.4 100.8 460.0C100.8 455.6 102.1 451.4 101.7 448.3C101.2 445.3 98.9 442.8 98.3 441.7" stroke="#000" stroke-width="1.5" fill="none" stroke-linecap="round" stroke-linejoin="round"/>
<path d="M327.8 480.0C327.1 481.4 325.3 485.6 323.7 488.3C322.0 491.1 319.4 494.9 317.8 496.7C316.2 498.5 314.8 499.4 314.0 499.2C313.2 498.9 312.5 497.4 312.8 495.0C313.2 492.6 314.9 488.3 316.2 485.0C317.4 481.7 319.5 479.2 320.3 475.0C321.2 470.8 321.2 464.4 321.2 460.0C321.2 455.6 319.9 451.4 320.3 448.3C320.8 445.3 323.1 442.8 323.7 441.7" stroke="#000" stroke-width="1.5" fill="none" stroke-linecap="round" stroke-linejoin="round"/>
<path d="M90.0 440.0C90.8 440.1 93.5 440.0 95.0 440.8C96.5 441.7 98.5 444.3 99.2 445.0" stroke="#000" stroke-width="1.0" fill="none" stroke-linecap="round" stroke-linejoin="round"/>
<path d="M332.0 440.0C331.2 440.1 328.5 440.0 327.0 440.8C325.5 441.7 323.5 444.3 322.8 445.0" stroke="#000" stroke-width="1.0" fill="none" stroke-linecap="round" stroke-linejoin="round"/>
<path d="M74.2 468.3C75.7 467.9 79.9 466.4 83.3 465.8C86.8 465.3 93.1 465.1 95.0 465.0" stroke="#000" stroke-width="0.8" fill="none" stroke-linecap="round" stroke-linejoin="round"/>
<path d="M347.8 468.3C346.3 467.9 342.1 466.4 338.7 465.8C335.2 465.3 328.9 465.1 327.0 465.0" stroke="#000" stroke-width="0.8" fill="none" stroke-linecap="round" stroke-linejoin="round"/>
<path d="M74.2 476.7C75.4 476.9 78.5 477.9 81.7 478.3C84.9 478.8 91.4 479.0 93.3 479.2" stroke="#000" stroke-width="0.8" fill="none" stroke-linecap="round" stroke-linejoin="round"/>
<path d="M347.8 476.7C346.6 476.9 343.5 477.9 340.3 478.3C337.1 478.8 330.6 479.0 328.7 479.2" stroke="#000" stroke-width="0.8" fill="none" stroke-linecap="round" stroke-linejoin="round"/>
<path d="M146.7 294.8L146.4 295.8L146.1 297.1L145.7 298.7L145.3 300.4L144.8 302.3L144.3 304.3L143.7 306.3L143.3 307.6L142.9 308.9L142.4 310.3L142.0 311.7L141.5 313.2L140.9 314.7L140.4 316.3L139.9 317.9L139.3 319.5L138.8 321.1L138.3 322.8L137.8 324.2L137.4 325.7L136.9 327.2L136.4 328.7L135.9 330.3L135.4 331.9L134.9 333.5L134.4 335.2L133.9 336.8L133.4 338.3L133.0 339.9L132.6 341.4L132.3 342.9L132.0 344.7L131.8 346.3L131.6 347.9L131.5 349.5L131.4 351.0L131.3 352.5L131.2 354.0L131.1 355.4L131.0 356.8L130.8 358.2L130.6 359.6L130.3 361.0L129.9 362.5L129.5 364.0L129.1 365.5L128.7 366.9L128.2 368.4L127.7 369.9L127.2 371.4L126.7 372.9L126.1 374.4L125.6 375.9L125.1 377.4L124.5 378.9L124.0 380.3L123.4 381.8L122.8 383.2L122.2 384.7L121.6 386.2L120.9 387.7L120.3 389.2L119.6 390.8L118.9 392.5L118.4 393.8L117.8 395.3L117.2 396.7L116.6 398.3L116.0 399.8L115.3 401.4L114.7 403.0L114.1 404.5L113.5 406.0L112.9 407.5L112.3 408.9L111.8 410.2L111.3 411.4L110.8 412.5L109.9 414.8L109.0 416.8L108.3 418.4L107.7 419.9L107.2 421.1L106.7 422.3L106.4 423.8L106.4 424.6L106.1 425.7L105.5 427.3L104.8 429.1L104.0 431.3L103.5 432.6L103.0 434.2L102.4 435.9L101.9 437.6L101.3 439.3L100.8 440.8L100.4 442.1L100.1 443.1L101.5 443.6L101.9 442.7L102.4 441.4L103.0 439.9L103.6 438.2L104.3 436.5L104.9 434.8L105.5 433.3L106.0 432.1L106.9 430.0L107.8 428.3L108.5 426.8L109.2 425.5L109.6 424.6L110.1 423.5L110.5 422.6L111.1 421.4L111.8 420.0L112.6 418.4L113.5 416.4L114.5 414.1L115.0 413.0L115.6 411.8L116.1 410.5L116.7 409.1L117.4 407.6L118.0 406.1L118.7 404.6L119.3 403.0L120.0 401.5L120.6 399.9L121.3 398.4L121.9 397.0L122.5 395.5L123.1 394.2L123.7 392.6L124.4 391.0L125.0 389.4L125.7 387.9L126.3 386.4L126.9 384.9L127.5 383.4L128.1 381.9L128.6 380.4L129.2 378.9L129.7 377.4L130.3 375.9L130.8 374.3L131.3 372.8L131.8 371.3L132.3 369.7L132.8 368.2L133.2 366.7L133.7 365.1L134.1 363.5L134.4 362.0L134.8 360.4L135.0 358.8L135.2 357.2L135.4 355.7L135.4 354.2L135.5 352.7L135.6 351.2L135.6 349.8L135.7 348.3L135.9 346.8L136.1 345.3L136.4 343.7L136.7 342.4L137.0 340.9L137.4 339.4L137.8 337.9L138.3 336.3L138.7 334.7L139.2 333.1L139.7 331.5L140.2 330.0L140.7 328.4L141.2 326.9L141.7 325.4L142.1 323.9L142.5 322.2L143.0 320.6L143.4 319.0L143.9 317.4L144.3 315.8L144.8 314.2L145.2 312.7L145.6 311.2L145.9 309.8L146.3 308.4L146.6 307.0L147.1 305.0L147.5 302.9L147.8 301.0L148.1 299.2L148.3 297.6L148.5 296.2L148.6 295.2ZM146.7 295.0a1.00 1.00 0 1 0 2.00 0a1.00 1.00 0 1 0 -2.00 0ZM100.1 443.3a0.75 0.75 0 1 0 1.50 0a0.75 0.75 0 1 0 -1.50 0ZM273.4 295.2L273.5 296.2L273.7 297.6L273.9 299.2L274.2 301.0L274.5 302.9L274.9 305.0L275.4 307.0L275.7 308.4L276.1 309.8L276.4 311.2L276.8 312.7L277.2 314.2L277.7 315.8L278.1 317.4L278.6 319.0L279.0 320.6L279.5 322.2L279.9 323.9L280.3 325.4L280.8 326.9L281.3 328.4L281.8 330.0L282.3 331.5L282.8 333.1L283.3 334.7L283.7 336.3L284.2 337.9L284.6 339.4L285.0 340.9L285.3 342.4L285.6 343.7L285.9 345.3L286.1 346.8L286.3 348.3L286.4 349.8L286.4 351.2L286.5 352.7L286.6 354.2L286.6 355.7L286.8 357.2L287.0 358.8L287.2 360.4L287.6 362.0L287.9 363.5L288.3 365.1L288.8 366.7L289.2 368.2L289.7 369.7L290.2 371.3L290.7 372.8L291.2 374.3L291.7 375.9L292.3 377.4L292.8 378.9L293.4 380.4L293.9 381.9L294.5 383.4L295.1 384.9L295.7 386.4L296.3 387.9L297.0 389.4L297.6 391.0L298.3 392.6L298.9 394.2L299.5 395.5L300.1 397.0L300.7 398.4L301.4 399.9L302.0 401.5L302.7 403.0L303.3 404.6L304.0 406.1L304.6 407.6L305.3 409.1L305.9 410.5L306.4 411.8L307.0 413.0L307.5 414.1L308.5 416.4L309.4 418.4L310.2 420.0L310.9 421.4L311.5 422.6L311.9 423.5L312.4 424.6L312.8 425.5L313.5 426.8L314.2 428.3L315.1 430.0L316.0 432.1L316.5 433.3L317.1 434.8L317.7 436.5L318.4 438.2L319.0 439.9L319.6 441.4L320.1 442.7L320.5 443.6L321.9 443.1L321.6 442.1L321.2 440.8L320.7 439.3L320.1 437.6L319.6 435.9L319.0 434.2L318.5 432.6L318.0 431.3L317.2 429.1L316.5 427.3L315.9 425.7L315.6 424.6L315.6 423.8L315.3 422.3L314.8 421.1L314.3 419.9L313.7 418.4L313.0 416.8L312.1 414.8L311.2 412.5L310.7 411.4L310.2 410.2L309.7 408.9L309.1 407.5L308.5 406.0L307.9 404.5L307.3 403.0L306.7 401.4L306.0 399.8L305.4 398.3L304.8 396.7L304.2 395.3L303.6 393.8L303.1 392.5L302.4 390.8L301.7 389.2L301.1 387.7L300.4 386.2L299.8 384.7L299.2 383.2L298.6 381.8L298.0 380.3L297.5 378.9L296.9 377.4L296.4 375.9L295.9 374.4L295.3 372.9L294.8 371.4L294.3 369.9L293.8 368.4L293.3 366.9L292.9 365.5L292.5 364.0L292.1 362.5L291.7 361.0L291.4 359.6L291.2 358.2L291.0 356.8L290.9 355.4L290.8 354.0L290.7 352.5L290.6 351.0L290.5 349.5L290.4 347.9L290.2 346.3L290.0 344.7L289.7 342.9L289.4 341.4L289.0 339.9L288.6 338.3L288.1 336.8L287.6 335.2L287.1 333.5L286.6 331.9L286.1 330.3L285.6 328.7L285.1 327.2L284.6 325.7L284.2 324.2L283.7 322.8L283.2 321.1L282.7 319.5L282.1 317.9L281.6 316.3L281.1 314.7L280.5 313.2L280.0 311.7L279.6 310.3L279.1 308.9L278.7 307.6L278.3 306.3L277.7 304.3L277.2 302.3L276.7 300.4L276.3 298.7L275.9 297.1L275.6 295.8L275.3 294.8ZM273.3 295.0a1.00 1.00 0 1 0 2.00 0a1.00 1.00 0 1 0 -2.00 0ZM320.4 443.3a0.75 0.75 0 1 0 1.50 0a0.75 0.75 0 1 0 -1.50 0Z" fill="#000"/>
<path d="M147.4 297.2L147.7 298.1L148.2 299.2L148.8 300.5L149.5 302.0L150.2 303.7L150.9 305.4L151.6 307.1L152.4 308.8L153.0 310.5L153.5 311.9L154.1 313.4L154.6 314.8L155.2 316.3L155.8 317.9L156.3 319.4L156.8 321.0L157.3 322.5L157.8 324.0L158.2 325.6L158.6 327.1L159.0 328.6L159.3 330.1L159.6 331.6L159.9 333.2L160.2 334.7L160.4 336.2L160.6 337.7L160.8 339.2L160.9 340.6L161.0 342.0L161.1 343.4L161.1 345.1L161.1 346.8L161.1 348.3L160.9 349.8L160.8 351.3L160.5 352.9L160.1 354.5L159.7 356.3L159.3 357.7L158.9 359.1L158.3 360.6L157.8 362.2L157.2 363.7L156.5 365.3L155.9 366.9L155.2 368.5L154.6 370.0L153.9 371.5L153.3 372.9L152.6 374.5L151.8 376.0L151.1 377.4L150.3 378.9L149.5 380.3L148.8 381.7L148.0 383.1L147.3 384.6L146.5 386.2L145.9 387.6L145.2 389.2L144.6 390.7L144.0 392.3L143.4 393.9L142.8 395.5L142.2 397.0L141.6 398.5L141.1 399.9L140.6 401.2L139.8 403.0L139.2 404.7L138.5 406.4L137.9 407.9L137.3 409.3L136.8 410.5L136.4 411.5L135.8 412.7L135.2 414.0L134.9 415.1L134.4 416.3L133.9 417.7L133.3 419.2L132.8 420.9L132.3 422.8L131.9 424.7L131.6 426.0L131.4 427.4L131.2 428.9L131.0 430.4L130.8 432.0L130.6 433.6L130.4 435.2L130.2 436.8L130.1 438.4L130.0 440.0L129.8 441.6L129.7 443.0L129.6 444.5L129.6 445.9L129.5 447.3L129.4 448.7L129.4 450.2L129.4 451.6L129.3 453.2L129.3 454.8L129.3 456.5L129.3 458.3L129.3 459.7L129.4 461.1L129.4 462.5L129.4 464.0L129.4 465.6L129.5 467.1L129.5 468.7L129.6 470.4L129.6 472.0L129.7 473.6L129.7 475.3L129.8 477.0L129.9 478.6L130.0 480.2L130.1 481.8L130.2 483.4L130.3 485.0L130.4 486.6L130.5 488.2L130.7 489.8L130.8 491.4L131.0 493.0L131.1 494.6L131.3 496.2L131.4 497.8L131.6 499.4L131.8 500.9L132.0 502.5L132.1 504.0L132.3 505.5L132.5 507.0L132.7 508.5L132.9 510.2L133.1 511.9L133.4 513.5L133.6 515.1L133.9 516.7L134.1 518.3L134.4 519.9L134.6 521.5L134.9 523.0L135.2 524.5L135.4 526.0L135.7 527.4L135.9 528.8L136.1 530.2L136.4 531.9L136.7 533.5L136.9 535.0L137.2 536.5L137.4 537.9L137.7 539.3L137.9 540.8L138.2 542.2L138.4 543.7L138.7 545.2L139.0 546.8L139.3 548.3L139.6 549.7L140.0 551.2L140.3 552.7L140.6 554.2L140.9 555.8L141.3 557.3L141.6 558.9L142.0 560.4L142.3 562.0L142.7 563.6L143.0 565.2L143.4 566.8L143.7 568.4L144.0 570.0L144.4 571.7L144.7 573.5L145.1 575.3L145.4 577.1L145.8 578.9L146.1 580.6L146.5 582.3L146.8 583.8L147.0 585.2L147.3 586.5L147.5 587.6L147.7 588.5L149.0 588.2L148.8 587.3L148.6 586.2L148.4 585.0L148.1 583.5L147.8 582.0L147.5 580.3L147.2 578.6L146.9 576.8L146.5 575.0L146.2 573.2L145.9 571.4L145.5 569.7L145.2 568.1L145.0 566.5L144.7 564.9L144.4 563.3L144.1 561.7L143.8 560.1L143.5 558.5L143.3 556.9L143.0 555.3L142.7 553.8L142.5 552.3L142.2 550.8L142.0 549.3L141.7 547.8L141.5 546.4L141.2 544.8L140.9 543.2L140.7 541.8L140.5 540.3L140.2 538.9L140.0 537.5L139.8 536.1L139.6 534.6L139.3 533.1L139.1 531.5L138.8 529.8L138.6 528.4L138.4 527.0L138.2 525.5L137.9 524.0L137.7 522.5L137.5 521.0L137.2 519.5L137.0 517.9L136.8 516.3L136.5 514.7L136.3 513.1L136.1 511.4L135.9 509.8L135.7 508.1L135.5 506.7L135.3 505.2L135.1 503.7L134.9 502.1L134.8 500.6L134.6 499.0L134.4 497.5L134.3 495.9L134.1 494.3L133.9 492.7L133.8 491.1L133.6 489.5L133.5 487.9L133.4 486.4L133.3 484.8L133.2 483.2L133.1 481.7L133.0 480.1L132.9 478.5L132.8 476.8L132.7 475.2L132.7 473.5L132.6 471.9L132.6 470.3L132.5 468.7L132.5 467.1L132.4 465.5L132.4 464.0L132.4 462.5L132.4 461.0L132.3 459.7L132.3 458.3L132.3 456.5L132.3 454.8L132.3 453.2L132.4 451.7L132.4 450.2L132.4 448.8L132.5 447.4L132.6 446.1L132.6 444.7L132.7 443.3L132.8 441.8L132.9 440.3L133.1 438.7L133.2 437.1L133.4 435.5L133.6 433.9L133.7 432.3L133.9 430.8L134.1 429.3L134.4 427.9L134.6 426.5L134.8 425.3L135.2 423.5L135.7 421.8L136.2 420.2L136.7 418.7L137.2 417.3L137.7 416.1L138.0 415.1L138.5 414.0L139.2 412.7L139.6 411.6L140.1 410.4L140.6 408.9L141.2 407.4L141.8 405.7L142.4 404.0L143.1 402.2L143.6 400.8L144.1 399.4L144.7 397.9L145.2 396.4L145.8 394.8L146.4 393.2L147.0 391.7L147.6 390.1L148.2 388.6L148.8 387.2L149.5 385.7L150.2 384.2L150.9 382.8L151.6 381.4L152.3 379.9L153.1 378.5L153.8 377.0L154.6 375.4L155.3 373.8L156.0 372.4L156.7 370.9L157.4 369.4L158.1 367.9L158.8 366.3L159.5 364.7L160.1 363.1L160.7 361.5L161.3 360.0L161.8 358.5L162.3 357.0L162.8 355.2L163.2 353.5L163.6 351.8L163.9 350.2L164.1 348.6L164.2 346.9L164.3 345.1L164.3 343.3L164.2 341.9L164.1 340.4L164.0 338.9L163.8 337.3L163.6 335.8L163.3 334.2L163.1 332.6L162.8 331.0L162.4 329.4L162.1 327.8L161.7 326.3L161.3 324.7L160.8 323.1L160.3 321.6L159.7 320.0L159.2 318.4L158.6 316.8L158.0 315.3L157.4 313.8L156.8 312.3L156.2 310.9L155.7 309.5L155.0 307.8L154.2 306.0L153.4 304.3L152.7 302.6L151.9 300.9L151.2 299.5L150.6 298.1L150.0 297.0L149.6 296.2ZM147.2 296.7a1.25 1.25 0 1 0 2.50 0a1.25 1.25 0 1 0 -2.50 0ZM147.7 588.3a0.65 0.65 0 1 0 1.30 0a0.65 0.65 0 1 0 -1.30 0ZM147.7 588.3L147.5 589.2L147.4 590.5L147.2 592.0L146.9 593.7L146.7 595.5L146.4 597.5L146.2 599.5L145.9 601.6L145.7 602.9L145.5 604.3L145.3 605.7L145.1 607.2L144.9 608.7L144.7 610.2L144.4 611.8L144.2 613.4L144.0 615.1L143.8 616.7L143.6 618.3L143.3 619.9L143.1 621.5L142.9 623.0L142.7 624.6L142.5 626.1L142.3 627.6L142.0 629.2L141.8 630.8L141.6 632.4L141.4 633.9L141.2 635.5L141.0 637.1L140.8 638.6L140.6 640.2L140.5 641.7L140.4 643.3L140.3 644.9L140.2 646.5L140.1 648.2L140.1 649.8L140.0 651.4L140.0 653.0L140.0 654.6L140.0 656.2L140.0 657.7L140.0 659.2L140.0 660.6L140.1 662.0L140.1 663.4L140.2 665.3L140.2 667.0L140.3 668.6L140.4 670.1L140.6 671.6L140.7 673.2L140.9 674.9L141.2 676.8L141.4 678.2L141.6 679.6L141.8 681.0L142.0 682.5L142.2 684.0L142.5 685.6L142.8 687.2L143.0 688.8L143.3 690.4L143.6 692.0L143.8 693.7L144.1 695.3L144.4 696.9L144.6 698.4L144.8 700.0L145.1 701.5L145.3 703.1L145.6 704.7L145.8 706.3L146.1 707.9L146.3 709.5L146.6 711.1L146.8 712.7L147.0 714.2L147.3 715.7L147.5 717.2L147.7 718.5L147.9 720.3L148.2 721.9L148.4 723.5L148.6 725.0L148.9 726.5L149.1 727.9L149.3 729.3L149.4 730.8L149.6 732.2L149.7 733.6L149.8 735.1L150.0 736.6L150.0 738.1L150.1 739.6L150.2 741.1L150.2 742.6L150.3 744.2L150.3 745.7L150.3 747.2L150.3 748.7L150.3 750.1L150.2 751.6L150.2 753.2L150.1 754.9L150.1 756.5L150.0 758.2L149.9 759.8L149.8 761.4L149.6 763.0L149.5 764.5L149.4 765.9L149.2 767.3L149.1 769.1L148.9 770.8L148.6 772.4L148.4 773.9L148.2 775.3L147.8 776.7L147.5 778.1L147.0 779.6L146.4 780.9L145.8 782.3L145.1 783.5L144.3 784.8L143.4 786.1L142.6 787.3L141.5 788.4L140.4 789.6L139.2 790.8L138.1 792.0L137.0 793.2L136.0 794.5L134.9 795.9L133.9 797.4L133.0 798.9L132.1 800.4L131.4 801.7L130.8 803.0L130.1 805.1L129.8 806.9L130.0 808.7L131.3 810.7L132.7 812.0L133.9 810.7L132.7 809.6L131.7 808.0L131.6 807.0L131.8 805.6L132.5 803.7L133.0 802.5L133.7 801.2L134.5 799.8L135.4 798.4L136.4 796.9L137.4 795.5L138.3 794.4L139.4 793.2L140.5 792.1L141.7 790.9L142.9 789.7L143.9 788.4L144.9 787.2L145.8 785.8L146.7 784.4L147.4 783.1L148.1 781.7L148.6 780.2L149.2 778.6L149.6 777.2L150.0 775.8L150.4 774.3L150.7 772.7L150.9 771.1L151.2 769.4L151.4 767.6L151.6 766.2L151.8 764.7L152.0 763.2L152.1 761.6L152.3 760.0L152.4 758.3L152.5 756.7L152.7 755.0L152.8 753.3L152.8 751.7L152.9 750.2L152.9 748.7L153.0 747.2L153.0 745.7L153.0 744.1L153.0 742.6L153.0 741.1L153.0 739.5L153.0 738.0L152.9 736.4L152.8 734.9L152.7 733.4L152.6 731.9L152.4 730.4L152.2 729.0L152.0 727.5L151.8 726.0L151.6 724.5L151.4 723.0L151.1 721.4L150.9 719.8L150.7 718.1L150.4 716.7L150.2 715.3L150.0 713.8L149.8 712.2L149.5 710.7L149.3 709.1L149.0 707.5L148.8 705.9L148.5 704.3L148.3 702.7L148.0 701.1L147.8 699.5L147.6 697.9L147.3 696.4L147.1 694.8L146.8 693.2L146.5 691.6L146.3 689.9L146.0 688.3L145.7 686.7L145.5 685.1L145.2 683.5L145.0 682.0L144.7 680.5L144.5 679.1L144.3 677.8L144.2 676.4L143.9 674.5L143.7 672.8L143.5 671.3L143.3 669.8L143.2 668.4L143.1 666.9L143.0 665.2L142.9 663.3L142.9 662.0L142.8 660.6L142.8 659.2L142.7 657.7L142.7 656.2L142.7 654.6L142.7 653.1L142.7 651.5L142.7 649.8L142.8 648.2L142.8 646.6L142.9 645.0L143.0 643.4L143.1 641.9L143.2 640.4L143.3 638.9L143.4 637.4L143.6 635.8L143.8 634.2L143.9 632.6L144.1 631.1L144.3 629.5L144.5 627.9L144.7 626.4L144.9 624.8L145.0 623.3L145.2 621.8L145.4 620.2L145.6 618.6L145.7 616.9L145.9 615.3L146.1 613.7L146.3 612.1L146.5 610.5L146.7 608.9L146.8 607.4L147.0 605.9L147.2 604.5L147.3 603.1L147.5 601.8L147.7 599.7L147.9 597.6L148.2 595.7L148.4 593.8L148.6 592.2L148.7 590.7L148.9 589.4L149.0 588.4ZM147.7 588.3a0.65 0.65 0 1 0 1.30 0a0.65 0.65 0 1 0 -1.30 0ZM132.4 811.3a0.90 0.90 0 1 0 1.80 0a0.90 0.90 0 1 0 -1.80 0ZM272.4 296.2L272.0 297.0L271.4 298.1L270.8 299.5L270.1 300.9L269.3 302.6L268.6 304.3L267.8 306.0L267.0 307.8L266.3 309.5L265.8 310.9L265.2 312.3L264.6 313.8L264.0 315.3L263.4 316.8L262.8 318.4L262.3 320.0L261.7 321.6L261.2 323.1L260.7 324.7L260.3 326.3L259.9 327.8L259.6 329.4L259.2 331.0L258.9 332.6L258.7 334.2L258.4 335.8L258.2 337.3L258.0 338.9L257.9 340.4L257.8 341.9L257.7 343.3L257.7 345.1L257.8 346.9L257.9 348.6L258.1 350.2L258.4 351.8L258.8 353.5L259.2 355.2L259.7 357.0L260.2 358.5L260.7 360.0L261.3 361.5L261.9 363.1L262.5 364.7L263.2 366.3L263.9 367.9L264.6 369.4L265.3 370.9L266.0 372.4L266.7 373.8L267.4 375.4L268.2 377.0L268.9 378.5L269.7 379.9L270.4 381.4L271.1 382.8L271.8 384.2L272.5 385.7L273.2 387.2L273.8 388.6L274.4 390.1L275.0 391.7L275.6 393.2L276.2 394.8L276.8 396.4L277.3 397.9L277.9 399.4L278.4 400.8L278.9 402.2L279.6 404.0L280.2 405.7L280.8 407.4L281.4 408.9L281.9 410.4L282.4 411.6L282.8 412.7L283.5 414.0L284.0 415.1L284.3 416.1L284.8 417.3L285.3 418.7L285.8 420.2L286.3 421.8L286.8 423.5L287.2 425.3L287.4 426.5L287.6 427.9L287.9 429.3L288.1 430.8L288.3 432.3L288.4 433.9L288.6 435.5L288.8 437.1L288.9 438.7L289.1 440.3L289.2 441.8L289.3 443.3L289.4 444.7L289.4 446.1L289.5 447.4L289.6 448.8L289.6 450.2L289.6 451.7L289.7 453.2L289.7 454.8L289.7 456.5L289.7 458.3L289.7 459.7L289.6 461.0L289.6 462.5L289.6 464.0L289.6 465.5L289.5 467.1L289.5 468.7L289.4 470.3L289.4 471.9L289.3 473.5L289.3 475.2L289.2 476.8L289.1 478.5L289.0 480.1L288.9 481.7L288.8 483.2L288.7 484.8L288.6 486.4L288.5 487.9L288.4 489.5L288.2 491.1L288.1 492.7L287.9 494.3L287.7 495.9L287.6 497.5L287.4 499.0L287.2 500.6L287.1 502.1L286.9 503.7L286.7 505.2L286.5 506.7L286.3 508.1L286.1 509.8L285.9 511.4L285.7 513.1L285.5 514.7L285.2 516.3L285.0 517.9L284.8 519.5L284.5 521.0L284.3 522.5L284.1 524.0L283.8 525.5L283.6 527.0L283.4 528.4L283.2 529.8L282.9 531.5L282.7 533.1L282.4 534.6L282.2 536.1L282.0 537.5L281.8 538.9L281.5 540.3L281.3 541.8L281.1 543.2L280.8 544.8L280.5 546.4L280.3 547.8L280.0 549.3L279.8 550.8L279.5 552.3L279.3 553.8L279.0 555.3L278.7 556.9L278.5 558.5L278.2 560.1L277.9 561.7L277.6 563.3L277.3 564.9L277.0 566.5L276.8 568.1L276.5 569.7L276.1 571.4L275.8 573.2L275.5 575.0L275.1 576.8L274.8 578.6L274.5 580.3L274.2 582.0L273.9 583.5L273.6 585.0L273.4 586.2L273.2 587.3L273.0 588.2L274.3 588.5L274.5 587.6L274.7 586.5L275.0 585.2L275.2 583.8L275.5 582.3L275.9 580.6L276.2 578.9L276.6 577.1L276.9 575.3L277.3 573.5L277.6 571.7L278.0 570.0L278.3 568.4L278.6 566.8L279.0 565.2L279.3 563.6L279.7 562.0L280.0 560.4L280.4 558.9L280.7 557.3L281.1 555.8L281.4 554.2L281.7 552.7L282.0 551.2L282.4 549.7L282.7 548.3L283.0 546.8L283.3 545.2L283.6 543.7L283.8 542.2L284.1 540.8L284.3 539.3L284.6 537.9L284.8 536.5L285.1 535.0L285.3 533.5L285.6 531.9L285.9 530.2L286.1 528.8L286.3 527.4L286.6 526.0L286.8 524.5L287.1 523.0L287.4 521.5L287.6 519.9L287.9 518.3L288.1 516.7L288.4 515.1L288.6 513.5L288.9 511.9L289.1 510.2L289.3 508.5L289.5 507.0L289.7 505.5L289.9 504.0L290.0 502.5L290.2 500.9L290.4 499.4L290.6 497.8L290.7 496.2L290.9 494.6L291.0 493.0L291.2 491.4L291.3 489.8L291.5 488.2L291.6 486.6L291.7 485.0L291.8 483.4L291.9 481.8L292.0 480.2L292.1 478.6L292.2 477.0L292.3 475.3L292.3 473.6L292.4 472.0L292.4 470.4L292.5 468.7L292.5 467.1L292.6 465.6L292.6 464.0L292.6 462.5L292.6 461.1L292.7 459.7L292.7 458.3L292.7 456.5L292.7 454.8L292.7 453.2L292.6 451.6L292.6 450.2L292.6 448.7L292.5 447.3L292.4 445.9L292.4 444.5L292.3 443.0L292.2 441.6L292.0 440.0L291.9 438.4L291.8 436.8L291.6 435.2L291.4 433.6L291.2 432.0L291.0 430.4L290.8 428.9L290.6 427.4L290.4 426.0L290.1 424.7L289.7 422.8L289.2 420.9L288.7 419.2L288.1 417.7L287.6 416.3L287.1 415.1L286.8 414.0L286.2 412.7L285.6 411.5L285.2 410.5L284.7 409.3L284.1 407.9L283.5 406.4L282.8 404.7L282.2 403.0L281.4 401.2L280.9 399.9L280.4 398.5L279.8 397.0L279.2 395.5L278.6 393.9L278.0 392.3L277.4 390.7L276.8 389.2L276.1 387.6L275.5 386.2L274.7 384.6L274.0 383.1L273.2 381.7L272.5 380.3L271.7 378.9L270.9 377.4L270.2 376.0L269.4 374.5L268.7 372.9L268.1 371.5L267.4 370.0L266.8 368.5L266.1 366.9L265.5 365.3L264.8 363.7L264.2 362.2L263.7 360.6L263.1 359.1L262.7 357.7L262.3 356.3L261.9 354.5L261.5 352.9L261.2 351.3L261.1 349.8L260.9 348.3L260.9 346.8L260.9 345.1L260.9 343.4L261.0 342.0L261.1 340.6L261.2 339.2L261.4 337.7L261.6 336.2L261.8 334.7L262.1 333.2L262.4 331.6L262.7 330.1L263.0 328.6L263.4 327.1L263.8 325.6L264.2 324.0L264.7 322.5L265.2 321.0L265.7 319.4L266.2 317.9L266.8 316.3L267.4 314.8L267.9 313.4L268.5 311.9L269.0 310.5L269.6 308.8L270.4 307.1L271.1 305.4L271.8 303.7L272.5 302.0L273.2 300.5L273.8 299.2L274.3 298.1L274.6 297.2ZM272.2 296.7a1.25 1.25 0 1 0 2.50 0a1.25 1.25 0 1 0 -2.50 0ZM273.0 588.3a0.65 0.65 0 1 0 1.30 0a0.65 0.65 0 1 0 -1.30 0ZM273.0 588.4L273.1 589.4L273.3 590.7L273.4 592.2L273.6 593.8L273.8 595.7L274.1 597.6L274.3 599.7L274.5 601.8L274.7 603.1L274.8 604.5L275.0 605.9L275.2 607.4L275.3 608.9L275.5 610.5L275.7 612.1L275.9 613.7L276.1 615.3L276.3 616.9L276.4 618.6L276.6 620.2L276.8 621.8L277.0 623.3L277.1 624.8L277.3 626.4L277.5 627.9L277.7 629.5L277.9 631.1L278.1 632.6L278.2 634.2L278.4 635.8L278.6 637.4L278.7 638.9L278.8 640.4L278.9 641.9L279.0 643.4L279.1 645.0L279.2 646.6L279.2 648.2L279.3 649.8L279.3 651.5L279.3 653.1L279.3 654.6L279.3 656.2L279.3 657.7L279.2 659.2L279.2 660.6L279.1 662.0L279.1 663.3L279.0 665.2L278.9 666.9L278.8 668.4L278.7 669.8L278.5 671.3L278.3 672.8L278.1 674.5L277.8 676.4L277.7 677.8L277.5 679.1L277.3 680.5L277.0 682.0L276.8 683.5L276.5 685.1L276.3 686.7L276.0 688.3L275.7 689.9L275.5 691.6L275.2 693.2L274.9 694.8L274.7 696.4L274.4 697.9L274.2 699.5L274.0 701.1L273.7 702.7L273.5 704.3L273.2 705.9L273.0 707.5L272.7 709.1L272.5 710.7L272.2 712.2L272.0 713.8L271.8 715.3L271.6 716.7L271.3 718.1L271.1 719.8L270.9 721.4L270.6 723.0L270.4 724.5L270.2 726.0L270.0 727.5L269.8 729.0L269.6 730.4L269.4 731.9L269.3 733.4L269.2 734.9L269.1 736.4L269.0 738.0L269.0 739.5L269.0 741.1L269.0 742.6L269.0 744.1L269.0 745.7L269.0 747.2L269.1 748.7L269.1 750.2L269.2 751.7L269.2 753.3L269.3 755.0L269.5 756.7L269.6 758.3L269.7 760.0L269.9 761.6L270.0 763.2L270.2 764.7L270.4 766.2L270.6 767.6L270.8 769.4L271.1 771.1L271.3 772.7L271.6 774.3L272.0 775.8L272.4 777.2L272.8 778.6L273.4 780.2L273.9 781.7L274.6 783.1L275.3 784.4L276.2 785.8L277.1 787.2L278.1 788.4L279.1 789.7L280.3 790.9L281.5 792.1L282.6 793.2L283.7 794.4L284.6 795.5L285.6 796.9L286.6 798.4L287.5 799.8L288.3 801.2L289.0 802.5L289.5 803.7L290.2 805.6L290.4 807.0L290.3 808.0L289.3 809.6L288.1 810.7L289.3 812.0L290.7 810.7L292.0 808.7L292.2 806.9L291.9 805.1L291.2 803.0L290.6 801.7L289.9 800.4L289.0 798.9L288.1 797.4L287.1 795.9L286.0 794.5L285.0 793.2L283.9 792.0L282.8 790.8L281.6 789.6L280.5 788.4L279.4 787.3L278.6 786.1L277.7 784.8L276.9 783.5L276.2 782.3L275.6 780.9L275.0 779.6L274.5 778.1L274.2 776.7L273.8 775.3L273.6 773.9L273.4 772.4L273.1 770.8L272.9 769.1L272.8 767.3L272.6 765.9L272.5 764.5L272.4 763.0L272.2 761.4L272.1 759.8L272.0 758.2L271.9 756.5L271.9 754.9L271.8 753.2L271.8 751.6L271.7 750.1L271.7 748.7L271.7 747.2L271.7 745.7L271.7 744.2L271.8 742.6L271.8 741.1L271.9 739.6L272.0 738.1L272.0 736.6L272.2 735.1L272.3 733.6L272.4 732.2L272.6 730.8L272.7 729.3L272.9 727.9L273.1 726.5L273.4 725.0L273.6 723.5L273.8 721.9L274.1 720.3L274.3 718.5L274.5 717.2L274.7 715.7L275.0 714.2L275.2 712.7L275.4 711.1L275.7 709.5L275.9 707.9L276.2 706.3L276.4 704.7L276.7 703.1L276.9 701.5L277.2 700.0L277.4 698.4L277.6 696.9L277.9 695.3L278.2 693.7L278.4 692.0L278.7 690.4L279.0 688.8L279.2 687.2L279.5 685.6L279.8 684.0L280.0 682.5L280.2 681.0L280.4 679.6L280.6 678.2L280.8 676.8L281.1 674.9L281.3 673.2L281.4 671.6L281.6 670.1L281.7 668.6L281.8 667.0L281.8 665.3L281.9 663.4L281.9 662.0L282.0 660.6L282.0 659.2L282.0 657.7L282.0 656.2L282.0 654.6L282.0 653.0L282.0 651.4L281.9 649.8L281.9 648.2L281.8 646.5L281.7 644.9L281.6 643.3L281.5 641.7L281.4 640.2L281.2 638.6L281.0 637.1L280.8 635.5L280.6 633.9L280.4 632.4L280.2 630.8L280.0 629.2L279.7 627.6L279.5 626.1L279.3 624.6L279.1 623.0L278.9 621.5L278.7 619.9L278.4 618.3L278.2 616.7L278.0 615.1L277.8 613.4L277.6 611.8L277.3 610.2L277.1 608.7L276.9 607.2L276.7 605.7L276.5 604.3L276.3 602.9L276.1 601.6L275.8 599.5L275.6 597.5L275.3 595.5L275.1 593.7L274.8 592.0L274.6 590.5L274.5 589.2L274.3 588.3ZM273.0 588.3a0.65 0.65 0 1 0 1.30 0a0.65 0.65 0 1 0 -1.30 0ZM287.8 811.3a0.90 0.90 0 1 0 1.80 0a0.90 0.90 0 1 0 -1.80 0Z" fill="#000"/>
<path d="M145.3 251.4L144.9 252.3L144.4 253.4L143.8 254.8L143.1 256.3L142.4 258.0L141.7 259.7L141.2 261.5L140.8 263.1L140.5 264.8L140.3 266.4L140.1 268.1L140.0 269.9L139.9 271.6L140.0 273.4L140.2 275.2L140.5 277.0L140.8 278.5L141.3 280.1L141.8 281.7L142.4 283.4L143.0 285.0L143.8 286.5L144.6 288.1L145.5 289.5L146.5 290.9L147.5 292.2L148.7 293.5L149.9 294.7L151.2 295.9L152.5 297.0L154.0 298.0L155.5 299.0L157.0 299.9L158.7 300.7L160.1 301.3L161.5 301.8L163.0 302.3L164.6 302.7L166.2 303.1L167.8 303.4L169.5 303.7L171.1 303.9L172.8 304.1L174.4 304.2L176.0 304.1L177.6 304.1L179.3 303.9L180.9 303.7L182.5 303.4L184.2 303.0L185.8 302.6L187.4 302.1L189.0 301.6L190.5 301.0L191.9 300.3L193.3 299.5L194.8 298.6L196.2 297.6L197.6 296.5L198.9 295.3L200.2 294.0L201.4 292.7L202.5 291.4L203.5 290.0L204.5 288.6L205.3 287.2L206.0 285.6L206.6 283.9L207.0 282.2L207.3 280.4L207.6 278.6L207.8 276.9L208.0 275.3L208.1 273.9L208.2 272.7L208.3 271.8L207.0 271.6L206.8 272.5L206.6 273.7L206.4 275.1L206.2 276.6L205.9 278.3L205.5 280.0L205.1 281.7L204.6 283.3L204.0 284.8L203.4 286.1L202.6 287.4L201.7 288.7L200.7 289.9L199.6 291.1L198.5 292.3L197.2 293.4L196.0 294.5L194.7 295.5L193.3 296.4L192.0 297.1L190.7 297.8L189.4 298.3L188.0 298.8L186.5 299.3L185.0 299.7L183.5 300.0L182.0 300.3L180.5 300.5L178.9 300.7L177.4 300.8L176.0 300.9L174.5 300.9L173.0 300.8L171.5 300.6L170.0 300.5L168.4 300.2L166.9 299.9L165.4 299.5L164.0 299.1L162.6 298.7L161.3 298.2L160.0 297.7L158.5 297.0L157.1 296.2L155.8 295.4L154.4 294.4L153.2 293.5L152.0 292.4L150.9 291.4L149.8 290.2L148.9 289.1L148.0 287.9L147.2 286.6L146.4 285.2L145.7 283.8L145.1 282.3L144.5 280.8L144.0 279.3L143.6 277.8L143.2 276.4L142.9 274.8L142.6 273.2L142.5 271.5L142.4 269.9L142.5 268.3L142.6 266.7L142.7 265.1L142.9 263.5L143.2 262.0L143.6 260.3L144.2 258.7L144.8 257.0L145.4 255.5L145.9 254.0L146.4 252.9L146.7 251.9ZM145.2 251.7a0.75 0.75 0 1 0 1.50 0a0.75 0.75 0 1 0 -1.50 0ZM207.0 271.7a0.65 0.65 0 1 0 1.30 0a0.65 0.65 0 1 0 -1.30 0ZM275.3 251.9L275.6 252.9L276.1 254.0L276.6 255.5L277.2 257.0L277.8 258.7L278.4 260.3L278.8 262.0L279.1 263.5L279.3 265.1L279.4 266.7L279.5 268.3L279.6 269.9L279.5 271.5L279.4 273.2L279.1 274.8L278.8 276.4L278.4 277.8L278.0 279.3L277.5 280.8L276.9 282.3L276.3 283.8L275.6 285.2L274.8 286.6L274.0 287.9L273.1 289.1L272.2 290.2L271.1 291.4L270.0 292.4L268.8 293.5L267.6 294.4L266.2 295.4L264.9 296.2L263.5 297.0L262.0 297.7L260.7 298.2L259.4 298.7L258.0 299.1L256.6 299.5L255.1 299.9L253.6 300.2L252.0 300.5L250.5 300.6L249.0 300.8L247.5 300.9L246.0 300.9L244.6 300.8L243.1 300.7L241.5 300.5L240.0 300.3L238.5 300.0L237.0 299.7L235.5 299.3L234.0 298.8L232.6 298.3L231.3 297.8L230.0 297.1L228.7 296.4L227.3 295.5L226.0 294.5L224.8 293.4L223.5 292.3L222.4 291.1L221.3 289.9L220.3 288.7L219.4 287.4L218.6 286.1L218.0 284.8L217.4 283.3L216.9 281.7L216.5 280.0L216.1 278.3L215.8 276.6L215.6 275.1L215.4 273.7L215.2 272.5L215.0 271.6L213.7 271.8L213.8 272.7L213.9 273.9L214.0 275.3L214.2 276.9L214.4 278.6L214.7 280.4L215.0 282.2L215.4 283.9L216.0 285.6L216.7 287.2L217.5 288.6L218.5 290.0L219.5 291.4L220.6 292.7L221.8 294.0L223.1 295.3L224.4 296.5L225.8 297.6L227.2 298.6L228.7 299.5L230.1 300.3L231.5 301.0L233.0 301.6L234.6 302.1L236.2 302.6L237.8 303.0L239.5 303.4L241.1 303.7L242.7 303.9L244.4 304.1L246.0 304.1L247.6 304.2L249.2 304.1L250.9 303.9L252.5 303.7L254.2 303.4L255.8 303.1L257.4 302.7L259.0 302.3L260.5 301.8L261.9 301.3L263.3 300.7L265.0 299.9L266.5 299.0L268.0 298.0L269.5 297.0L270.8 295.9L272.1 294.7L273.3 293.5L274.5 292.2L275.5 290.9L276.5 289.5L277.4 288.1L278.2 286.5L279.0 285.0L279.6 283.4L280.2 281.7L280.7 280.1L281.2 278.5L281.5 277.0L281.8 275.2L282.0 273.4L282.1 271.6L282.0 269.9L281.9 268.1L281.7 266.4L281.5 264.8L281.2 263.1L280.8 261.5L280.3 259.7L279.6 258.0L278.9 256.3L278.2 254.8L277.6 253.4L277.1 252.3L276.7 251.4ZM275.2 251.7a0.75 0.75 0 1 0 1.50 0a0.75 0.75 0 1 0 -1.50 0ZM213.7 271.7a0.65 0.65 0 1 0 1.30 0a0.65 0.65 0 1 0 -1.30 0Z" fill="#000"/>
<path d="M159.3 214.2C161.0 214.7 165.4 216.8 169.3 217.5C173.2 218.2 178.2 217.9 182.7 218.3C187.1 218.8 193.8 219.7 196.0 220.0" stroke="#000" stroke-width="1.3" fill="none" stroke-linecap="round" stroke-linejoin="round"/>
<path d="M262.7 214.2C261.0 214.7 256.6 216.8 252.7 217.5C248.8 218.2 243.8 217.9 239.3 218.3C234.9 218.8 228.2 219.7 226.0 220.0" stroke="#000" stroke-width="1.3" fill="none" stroke-linecap="round" stroke-linejoin="round"/>
<path d="M190.0 445.8C191.1 447.6 194.2 453.5 196.7 456.7C199.2 459.9 202.6 463.2 205.0 465.0C207.4 466.8 210.0 467.1 211.0 467.5" stroke="#000" stroke-width="1.6" fill="none" stroke-linecap="round" stroke-linejoin="round"/>
<path d="M232.0 445.8C230.9 447.6 227.8 453.5 225.3 456.7C222.8 459.9 219.4 463.2 217.0 465.0C214.6 466.8 212.0 467.1 211.0 467.5" stroke="#000" stroke-width="1.6" fill="none" stroke-linecap="round" stroke-linejoin="round"/>
<path d="M210.3 467.5L210.2 468.4L210.2 469.5L210.3 470.8L210.3 472.3L210.3 473.9L210.3 475.6L210.3 477.4L210.2 479.3L210.2 481.3L210.1 483.3L210.0 484.6L209.9 486.0L209.8 487.4L209.7 488.9L209.6 490.4L209.5 492.0L209.4 493.6L209.3 495.2L209.1 496.8L209.0 498.5L208.8 500.1L208.7 501.8L208.5 503.4L208.3 505.0L208.2 506.6L208.0 508.2L207.8 509.8L207.6 511.4L207.3 513.0L207.1 514.7L206.8 516.4L206.6 518.0L206.3 519.7L206.0 521.4L205.8 523.0L205.5 524.6L205.3 526.2L205.0 527.7L204.8 529.2L204.5 530.6L204.3 531.9L204.1 533.2L203.8 535.4L203.6 537.2L203.4 538.9L203.2 540.3L203.0 541.7L202.8 543.2L202.6 544.7L202.4 546.4L202.2 547.8L202.0 549.2L201.9 550.7L201.7 552.1L201.5 553.6L201.3 555.1L201.1 556.7L200.9 558.2L200.6 559.8L200.4 561.4L200.1 563.1L199.8 564.5L199.5 566.0L199.2 567.5L198.9 569.0L198.6 570.6L198.3 572.2L197.9 573.8L197.6 575.4L197.2 577.0L196.9 578.5L196.5 580.0L196.2 581.5L195.8 583.0L195.5 584.6L195.1 586.1L194.6 587.7L194.2 589.2L193.8 590.7L193.4 592.2L193.0 593.6L192.6 595.1L192.3 596.6L191.9 598.1L191.6 599.6L191.3 601.2L191.0 602.7L190.7 604.2L190.5 605.8L190.2 607.3L190.0 608.8L189.8 610.4L189.6 611.9L189.4 613.4L189.2 615.0L189.0 616.5L188.9 618.0L188.8 619.6L188.7 621.1L188.6 622.6L188.5 624.1L188.4 625.7L188.3 627.2L188.3 628.7L188.2 630.3L188.2 631.8L188.2 633.3L188.2 634.8L188.3 636.3L188.3 637.8L188.4 639.2L188.5 640.6L188.6 642.1L188.7 643.5L188.8 645.1L188.9 646.6L188.9 648.3L188.9 650.0L188.9 651.4L188.9 652.8L188.9 654.3L188.9 655.9L188.9 657.5L188.9 659.1L188.9 660.7L188.8 662.4L188.8 664.0L188.7 665.7L188.7 667.3L188.6 668.8L188.5 670.3L188.5 671.8L188.4 673.1L188.2 674.9L188.1 676.5L187.9 678.0L187.8 679.5L187.6 680.9L187.4 682.3L187.2 683.7L187.0 685.1L186.7 686.6L186.4 688.1L186.1 689.7L185.8 691.1L185.5 692.6L185.2 694.1L184.8 695.7L184.4 697.3L184.0 698.9L183.6 700.5L183.2 702.1L182.8 703.6L182.4 705.2L182.0 706.7L181.6 708.2L181.2 709.7L180.8 711.3L180.4 712.9L180.0 714.4L179.5 716.0L179.1 717.5L178.7 718.9L178.3 720.4L178.0 721.9L177.6 723.4L177.2 724.9L176.9 726.4L176.6 727.9L176.3 729.5L176.0 731.1L175.7 732.6L175.5 734.2L175.2 735.8L175.0 737.3L174.8 738.8L174.6 740.3L174.4 741.8L174.2 743.2L174.0 745.0L173.9 746.8L173.7 748.5L173.6 750.2L173.5 751.9L173.4 753.5L173.4 755.1L173.4 756.7L173.5 758.6L173.7 760.4L173.9 762.2L174.2 763.9L174.5 765.6L174.8 767.2L175.1 768.7L175.7 770.7L176.3 772.4L177.0 774.0L177.5 775.4L177.7 776.8L177.8 778.2L177.7 779.7L177.4 781.3L177.1 783.0L176.9 784.8L176.8 786.5L176.7 788.1L176.5 789.9L176.4 791.6L176.4 793.4L176.4 795.0L176.5 796.9L176.6 798.7L176.8 800.4L177.1 802.1L177.4 803.6L178.1 805.6L178.8 807.1L179.0 808.3L178.7 809.8L178.1 811.4L177.0 812.6L175.9 813.0L174.4 813.3L172.6 813.5L171.0 813.6L169.9 813.8L170.1 815.6L171.2 815.4L172.8 815.3L174.6 815.1L176.5 814.7L178.0 814.1L179.6 812.5L180.6 810.4L181.0 808.4L180.7 806.5L179.9 804.9L179.3 803.1L179.1 801.7L178.9 800.2L178.8 798.5L178.7 796.8L178.6 795.0L178.7 793.4L178.8 791.8L178.9 790.1L179.1 788.4L179.3 786.7L179.4 785.1L179.7 783.4L180.0 781.8L180.4 780.1L180.6 778.4L180.6 776.5L180.3 774.7L179.8 773.0L179.2 771.4L178.7 769.8L178.2 768.0L177.9 766.5L177.6 765.0L177.3 763.4L177.1 761.7L176.9 760.0L176.7 758.3L176.6 756.6L176.6 755.1L176.6 753.6L176.7 752.0L176.8 750.4L176.9 748.8L177.0 747.1L177.2 745.3L177.4 743.5L177.6 742.1L177.7 740.7L177.9 739.2L178.1 737.7L178.3 736.2L178.5 734.7L178.7 733.1L179.0 731.5L179.2 730.0L179.5 728.5L179.8 727.0L180.1 725.5L180.4 724.0L180.7 722.5L181.0 721.1L181.4 719.6L181.8 718.2L182.2 716.7L182.6 715.1L183.0 713.6L183.4 712.0L183.8 710.3L184.1 708.9L184.5 707.4L184.9 705.9L185.3 704.3L185.8 702.7L186.2 701.1L186.6 699.5L187.1 697.9L187.5 696.4L187.8 694.8L188.2 693.2L188.6 691.7L188.9 690.3L189.2 688.6L189.5 687.1L189.8 685.6L190.0 684.2L190.3 682.7L190.5 681.3L190.7 679.9L190.9 678.3L191.0 676.8L191.2 675.1L191.4 673.4L191.5 672.0L191.6 670.5L191.7 669.0L191.8 667.4L191.8 665.8L191.9 664.1L192.0 662.5L192.0 660.8L192.1 659.2L192.1 657.5L192.1 655.9L192.2 654.4L192.2 652.8L192.2 651.4L192.2 650.0L192.2 648.2L192.2 646.5L192.2 644.9L192.1 643.4L192.0 641.9L192.0 640.4L191.9 639.0L191.9 637.6L191.8 636.2L191.8 634.8L191.8 633.3L191.8 631.8L191.8 630.3L191.9 628.8L191.9 627.3L192.0 625.8L192.1 624.3L192.1 622.8L192.2 621.3L192.4 619.8L192.5 618.3L192.6 616.8L192.8 615.3L193.0 613.8L193.1 612.3L193.3 610.8L193.5 609.4L193.8 607.9L194.0 606.4L194.3 604.9L194.5 603.4L194.8 601.9L195.1 600.4L195.4 598.9L195.7 597.4L196.1 596.0L196.4 594.5L196.8 593.1L197.2 591.6L197.6 590.1L198.0 588.6L198.4 587.0L198.8 585.4L199.2 583.7L199.5 582.3L199.8 580.8L200.1 579.2L200.5 577.7L200.8 576.1L201.1 574.5L201.5 572.9L201.8 571.3L202.1 569.7L202.4 568.1L202.7 566.6L203.0 565.1L203.2 563.6L203.5 561.9L203.8 560.3L204.0 558.7L204.2 557.1L204.4 555.5L204.6 554.0L204.8 552.5L205.0 551.0L205.1 549.6L205.3 548.2L205.5 546.8L205.7 545.1L205.9 543.5L206.0 542.1L206.2 540.7L206.4 539.2L206.6 537.6L206.8 535.8L207.1 533.6L207.3 532.3L207.4 531.0L207.6 529.6L207.8 528.1L208.0 526.6L208.3 525.0L208.5 523.4L208.7 521.8L208.9 520.1L209.2 518.4L209.4 516.7L209.6 515.0L209.8 513.4L210.0 511.7L210.2 510.1L210.4 508.5L210.5 506.9L210.6 505.3L210.8 503.6L210.9 502.0L211.0 500.3L211.1 498.6L211.3 497.0L211.4 495.3L211.4 493.7L211.5 492.1L211.6 490.5L211.7 489.0L211.7 487.5L211.8 486.1L211.9 484.7L211.9 483.4L212.0 481.3L212.0 479.3L212.0 477.4L212.0 475.6L211.9 473.8L211.9 472.2L211.9 470.8L211.8 469.5L211.8 468.4L211.7 467.5ZM210.2 467.5a0.75 0.75 0 1 0 1.50 0a0.75 0.75 0 1 0 -1.50 0ZM169.1 814.7a0.90 0.90 0 1 0 1.80 0a0.90 0.90 0 1 0 -1.80 0ZM210.3 467.5L210.2 468.4L210.2 469.5L210.1 470.8L210.1 472.2L210.1 473.8L210.0 475.6L210.0 477.4L210.0 479.3L210.0 481.3L210.1 483.4L210.1 484.7L210.2 486.1L210.3 487.5L210.3 489.0L210.4 490.5L210.5 492.1L210.6 493.7L210.6 495.3L210.7 497.0L210.9 498.6L211.0 500.3L211.1 502.0L211.2 503.6L211.4 505.3L211.5 506.9L211.6 508.5L211.8 510.1L212.0 511.7L212.2 513.4L212.4 515.0L212.6 516.7L212.8 518.4L213.1 520.1L213.3 521.8L213.5 523.4L213.7 525.0L214.0 526.6L214.2 528.1L214.4 529.6L214.6 531.0L214.7 532.3L214.9 533.6L215.2 535.8L215.4 537.6L215.6 539.2L215.8 540.7L216.0 542.1L216.1 543.5L216.3 545.1L216.5 546.8L216.7 548.2L216.9 549.6L217.0 551.0L217.2 552.5L217.4 554.0L217.6 555.5L217.8 557.1L218.0 558.7L218.2 560.3L218.5 561.9L218.8 563.6L219.0 565.1L219.3 566.6L219.6 568.1L219.9 569.7L220.2 571.3L220.5 572.9L220.9 574.5L221.2 576.1L221.5 577.7L221.9 579.2L222.2 580.8L222.5 582.3L222.8 583.7L223.2 585.4L223.6 587.0L224.0 588.6L224.4 590.1L224.8 591.6L225.2 593.1L225.6 594.5L225.9 596.0L226.3 597.4L226.6 598.9L226.9 600.4L227.2 601.9L227.5 603.4L227.7 604.9L228.0 606.4L228.2 607.9L228.5 609.4L228.7 610.8L228.9 612.3L229.0 613.8L229.2 615.3L229.4 616.8L229.5 618.3L229.6 619.8L229.8 621.3L229.9 622.8L229.9 624.3L230.0 625.8L230.1 627.3L230.1 628.8L230.2 630.3L230.2 631.8L230.2 633.3L230.2 634.8L230.2 636.2L230.1 637.6L230.1 639.0L230.0 640.4L230.0 641.9L229.9 643.4L229.8 644.9L229.8 646.5L229.8 648.2L229.8 650.0L229.8 651.4L229.8 652.8L229.8 654.4L229.9 655.9L229.9 657.5L229.9 659.2L230.0 660.8L230.0 662.5L230.1 664.1L230.2 665.8L230.2 667.4L230.3 669.0L230.4 670.5L230.5 672.0L230.6 673.4L230.8 675.1L231.0 676.8L231.1 678.3L231.3 679.9L231.5 681.3L231.7 682.7L232.0 684.2L232.2 685.6L232.5 687.1L232.8 688.6L233.1 690.3L233.4 691.7L233.8 693.2L234.2 694.8L234.5 696.4L234.9 697.9L235.4 699.5L235.8 701.1L236.2 702.7L236.7 704.3L237.1 705.9L237.5 707.4L237.9 708.9L238.2 710.3L238.6 712.0L239.0 713.6L239.4 715.1L239.8 716.7L240.2 718.2L240.6 719.6L241.0 721.1L241.3 722.5L241.6 724.0L241.9 725.5L242.2 727.0L242.5 728.5L242.8 730.0L243.0 731.5L243.3 733.1L243.5 734.7L243.7 736.2L243.9 737.7L244.1 739.2L244.3 740.7L244.4 742.1L244.6 743.5L244.8 745.3L245.0 747.1L245.1 748.8L245.2 750.4L245.3 752.0L245.4 753.6L245.4 755.1L245.4 756.6L245.3 758.3L245.1 760.0L244.9 761.7L244.7 763.4L244.4 765.0L244.1 766.5L243.8 768.0L243.3 769.8L242.8 771.4L242.2 773.0L241.7 774.7L241.4 776.5L241.4 778.4L241.6 780.1L242.0 781.8L242.3 783.4L242.6 785.1L242.7 786.7L242.9 788.4L243.1 790.1L243.2 791.8L243.3 793.4L243.4 795.0L243.3 796.8L243.2 798.5L243.1 800.2L242.9 801.7L242.7 803.1L242.1 804.9L241.3 806.5L241.0 808.4L241.4 810.4L242.4 812.5L244.0 814.1L245.5 814.7L247.4 815.1L249.2 815.3L250.8 815.4L251.9 815.6L252.1 813.8L251.0 813.6L249.4 813.5L247.6 813.3L246.1 813.0L245.0 812.6L243.9 811.4L243.3 809.8L243.0 808.3L243.2 807.1L243.9 805.6L244.6 803.6L244.9 802.1L245.2 800.4L245.4 798.7L245.5 796.9L245.6 795.0L245.6 793.4L245.6 791.6L245.5 789.9L245.3 788.1L245.2 786.5L245.1 784.8L244.9 783.0L244.6 781.3L244.3 779.7L244.2 778.2L244.3 776.8L244.5 775.4L245.0 774.0L245.7 772.4L246.3 770.7L246.9 768.7L247.2 767.2L247.5 765.6L247.8 763.9L248.1 762.2L248.3 760.4L248.5 758.6L248.6 756.7L248.6 755.1L248.6 753.5L248.5 751.9L248.4 750.2L248.3 748.5L248.1 746.8L248.0 745.0L247.8 743.2L247.6 741.8L247.4 740.3L247.2 738.8L247.0 737.3L246.8 735.8L246.5 734.2L246.3 732.6L246.0 731.1L245.7 729.5L245.4 727.9L245.1 726.4L244.8 724.9L244.4 723.4L244.0 721.9L243.7 720.4L243.3 718.9L242.9 717.5L242.5 716.0L242.0 714.4L241.6 712.9L241.2 711.3L240.8 709.7L240.4 708.2L240.0 706.7L239.6 705.2L239.2 703.6L238.8 702.1L238.4 700.5L238.0 698.9L237.6 697.3L237.2 695.7L236.8 694.1L236.5 692.6L236.2 691.1L235.9 689.7L235.6 688.1L235.3 686.6L235.0 685.1L234.8 683.7L234.6 682.3L234.4 680.9L234.2 679.5L234.1 678.0L233.9 676.5L233.8 674.9L233.6 673.1L233.5 671.8L233.5 670.3L233.4 668.8L233.3 667.3L233.3 665.7L233.2 664.0L233.2 662.4L233.1 660.7L233.1 659.1L233.1 657.5L233.1 655.9L233.1 654.3L233.1 652.8L233.1 651.4L233.1 650.0L233.1 648.3L233.1 646.6L233.2 645.1L233.3 643.5L233.4 642.1L233.5 640.6L233.6 639.2L233.7 637.8L233.7 636.3L233.8 634.8L233.8 633.3L233.8 631.8L233.8 630.3L233.7 628.7L233.7 627.2L233.6 625.7L233.5 624.1L233.4 622.6L233.3 621.1L233.2 619.6L233.1 618.0L233.0 616.5L232.8 615.0L232.6 613.4L232.4 611.9L232.2 610.4L232.0 608.8L231.8 607.3L231.5 605.8L231.3 604.2L231.0 602.7L230.7 601.2L230.4 599.6L230.1 598.1L229.7 596.6L229.4 595.1L229.0 593.6L228.6 592.2L228.2 590.7L227.8 589.2L227.4 587.7L226.9 586.1L226.5 584.6L226.2 583.0L225.8 581.5L225.5 580.0L225.1 578.5L224.8 577.0L224.4 575.4L224.1 573.8L223.7 572.2L223.4 570.6L223.1 569.0L222.8 567.5L222.5 566.0L222.2 564.5L221.9 563.1L221.6 561.4L221.4 559.8L221.1 558.2L220.9 556.7L220.7 555.1L220.5 553.6L220.3 552.1L220.1 550.7L220.0 549.2L219.8 547.8L219.6 546.4L219.4 544.7L219.2 543.2L219.0 541.7L218.8 540.3L218.6 538.9L218.4 537.2L218.2 535.4L217.9 533.2L217.7 531.9L217.5 530.6L217.2 529.2L217.0 527.7L216.7 526.2L216.5 524.6L216.2 523.0L216.0 521.4L215.7 519.7L215.4 518.0L215.2 516.4L214.9 514.7L214.7 513.0L214.4 511.4L214.2 509.8L214.0 508.2L213.8 506.6L213.7 505.0L213.5 503.4L213.3 501.8L213.2 500.1L213.0 498.5L212.9 496.8L212.7 495.2L212.6 493.6L212.5 492.0L212.4 490.4L212.3 488.9L212.2 487.4L212.1 486.0L212.0 484.6L211.9 483.3L211.8 481.3L211.8 479.3L211.7 477.4L211.7 475.6L211.7 473.9L211.7 472.3L211.7 470.8L211.8 469.5L211.8 468.4L211.7 467.5ZM210.2 467.5a0.75 0.75 0 1 0 1.50 0a0.75 0.75 0 1 0 -1.50 0ZM251.1 814.7a0.90 0.90 0 1 0 1.80 0a0.90 0.90 0 1 0 -1.80 0Z" fill="#000"/>
<path d="M162.5 803.3C162.9 803.0 163.5 801.7 165.0 801.3C166.5 801.0 169.6 801.0 171.7 801.3C173.8 801.7 176.2 802.2 177.5 803.3C178.8 804.5 179.4 806.7 179.2 808.3C178.9 809.9 177.6 812.0 175.8 813.0C174.0 814.0 170.5 814.4 168.3 814.2C166.2 813.9 164.1 812.9 163.0 811.7C161.9 810.4 161.9 807.5 161.7 806.7Z" stroke="#000" stroke-width="2.0" fill="none" stroke-linecap="round" stroke-linejoin="round"/>
<path d="M259.5 803.3C259.1 803.0 258.5 801.7 257.0 801.3C255.5 801.0 252.4 801.0 250.3 801.3C248.2 801.7 245.8 802.2 244.5 803.3C243.2 804.5 242.6 806.7 242.8 808.3C243.1 809.9 244.4 812.0 246.2 813.0C248.0 814.0 251.5 814.4 253.7 814.2C255.8 813.9 257.9 812.9 259.0 811.7C260.1 810.4 260.1 807.5 260.3 806.7Z" stroke="#000" stroke-width="2.0" fill="none" stroke-linecap="round" stroke-linejoin="round"/>
<path d="M150.0 788.3C147.8 790.3 139.0 796.4 136.7 800.0C134.3 803.6 135.4 807.9 135.8 810.0C136.2 812.1 138.6 812.1 139.2 812.5" stroke="#000" stroke-width="2.0" fill="none" stroke-linecap="round" stroke-linejoin="round"/>
<path d="M272.0 788.3C274.2 790.3 283.0 796.4 285.3 800.0C287.7 803.6 286.6 807.9 286.2 810.0C285.7 812.1 283.4 812.1 282.8 812.5" stroke="#000" stroke-width="2.0" fill="none" stroke-linecap="round" stroke-linejoin="round"/>
<path d="M141.7 800.0C141.5 801.8 140.6 808.6 140.8 810.8C141.1 813.1 142.4 812.9 143.3 813.3C144.3 813.8 146.1 813.6 146.7 813.7" stroke="#000" stroke-width="2.0" fill="none" stroke-linecap="round" stroke-linejoin="round"/>
<path d="M280.3 800.0C280.5 801.8 281.4 808.6 281.2 810.8C280.9 813.1 279.6 812.9 278.7 813.3C277.7 813.8 275.9 813.6 275.3 813.7" stroke="#000" stroke-width="2.0" fill="none" stroke-linecap="round" stroke-linejoin="round"/>
<path d="M146.7 800.0C146.4 801.7 144.6 807.6 145.0 810.0C145.4 812.4 147.8 813.5 149.2 814.2C150.6 814.9 152.6 814.2 153.3 814.2" stroke="#000" stroke-width="2.0" fill="none" stroke-linecap="round" stroke-linejoin="round"/>
<path d="M275.3 800.0C275.6 801.7 277.4 807.6 277.0 810.0C276.6 812.4 274.2 813.5 272.8 814.2C271.4 814.9 269.4 814.2 268.7 814.2" stroke="#000" stroke-width="2.0" fill="none" stroke-linecap="round" stroke-linejoin="round"/>
<path d="M153.3 803.3C153.2 804.6 151.9 809.0 152.5 810.8C153.1 812.6 155.0 813.8 156.7 814.2C158.3 814.5 161.5 813.2 162.5 813.0" stroke="#000" stroke-width="2.0" fill="none" stroke-linecap="round" stroke-linejoin="round"/>
<path d="M268.7 803.3C268.8 804.6 270.1 809.0 269.5 810.8C268.9 812.6 267.0 813.8 265.3 814.2C263.7 814.5 260.5 813.2 259.5 813.0" stroke="#000" stroke-width="2.0" fill="none" stroke-linecap="round" stroke-linejoin="round"/>
<path d="M211.3 170.0C211.4 175.6 212.1 192.2 212.0 203.3C211.9 214.4 211.0 225.6 211.0 236.7C211.0 247.8 211.8 257.1 211.8 270.0C211.9 282.9 211.5 302.3 211.4 314.0C211.3 325.7 211.4 327.3 211.3 340.0C211.2 352.7 210.9 377.2 210.7 390.0C210.5 402.8 210.3 409.4 210.1 416.7C209.9 423.9 209.7 427.8 209.7 433.3C209.7 438.9 209.7 445.8 210.0 450.0C210.3 454.2 211.4 457.2 211.7 458.7" stroke="#a66bb5" stroke-width="2.5" fill="none" stroke-linecap="round" stroke-linejoin="round"/>
<path d="M196.0 225.8C194.9 227.6 191.3 232.1 189.3 236.7C187.4 241.2 185.3 247.8 184.3 253.3C183.4 258.9 182.9 264.5 183.5 270.0C184.1 275.5 186.3 281.1 188.2 286.1C190.1 291.1 192.9 296.1 195.1 300.1C197.2 304.0 199.6 306.1 201.0 310.0C202.4 313.9 203.1 315.6 203.5 323.3C203.9 331.1 203.4 345.6 203.5 356.7C203.6 367.8 203.9 379.8 204.0 390.0C204.1 400.2 204.1 412.5 204.0 417.8C204.0 423.0 204.0 418.8 203.7 421.4C203.5 424.0 202.8 429.4 202.5 433.3C202.2 437.3 201.9 442.2 202.0 445.0C202.1 447.8 203.1 449.2 203.3 450.0" stroke="#1c6cb9" stroke-width="2.5" fill="none" stroke-linecap="round" stroke-linejoin="round"/>
<path d="M226.0 225.8C227.1 227.6 230.7 232.1 232.7 236.7C234.6 241.2 236.7 247.8 237.7 253.3C238.6 258.9 239.1 264.5 238.5 270.0C237.9 275.5 235.7 281.1 233.8 286.1C231.9 291.1 229.1 296.1 226.9 300.1C224.8 304.0 222.4 306.1 221.0 310.0C219.6 313.9 218.9 315.6 218.5 323.3C218.1 331.1 218.6 345.6 218.5 356.7C218.4 367.8 218.1 379.8 218.0 390.0C217.9 400.2 217.9 412.5 218.0 417.8C218.0 423.0 218.0 418.8 218.3 421.4C218.5 424.0 219.2 429.4 219.5 433.3C219.8 437.3 220.1 442.2 220.0 445.0C219.9 447.8 218.9 449.2 218.7 450.0" stroke="#1c6cb9" stroke-width="2.5" fill="none" stroke-linecap="round" stroke-linejoin="round"/>
<path d="M171.0 290.0C172.1 292.2 175.2 298.6 177.7 303.3C180.2 308.1 183.4 313.6 186.0 318.3C188.6 323.1 191.8 326.7 193.5 331.7C195.2 336.7 195.4 341.4 196.0 348.3C196.6 355.3 196.7 363.6 196.8 373.3C197.0 383.1 197.0 399.4 197.0 406.7C197.0 413.9 196.9 412.0 196.8 416.7C196.7 421.3 196.4 431.5 196.3 434.5C194.7 434.6 190.2 435.3 186.7 435.0C183.1 434.7 179.2 433.2 175.0 432.5C170.8 431.8 165.7 431.0 161.7 430.8C157.6 430.7 153.6 430.4 150.8 431.7C148.1 432.9 146.3 434.7 145.0 438.3C143.7 441.9 143.3 447.2 143.0 453.3C142.7 459.4 143.0 467.2 143.3 475.0C143.7 482.8 144.1 491.7 145.0 500.0C145.9 508.3 147.3 516.6 148.5 525.0C149.7 533.3 151.1 542.3 152.2 550.0C153.3 557.8 154.5 565.3 155.0 571.7C155.5 578.0 155.3 581.9 155.3 588.3C155.4 594.7 155.1 602.2 155.1 610.0C155.1 617.8 155.1 627.5 155.3 635.0C155.5 642.5 156.1 648.3 156.3 655.0C156.6 661.7 156.7 671.7 156.8 675.0L148.3 655.3C149.2 658.9 151.9 669.5 153.3 676.7C154.7 683.8 155.6 691.4 156.7 698.3C157.8 705.3 159.0 712.2 159.9 718.3C160.9 724.5 161.9 729.4 162.5 735.0C163.1 740.6 163.5 746.0 163.4 751.7C163.4 757.4 163.0 763.2 162.3 769.1C161.6 774.9 160.2 781.5 159.2 786.7C158.1 791.8 156.8 796.1 155.8 800.0C154.9 803.9 153.8 808.3 153.3 810.0" stroke="#a5781f" stroke-width="2.5" fill="none" stroke-linecap="round" stroke-linejoin="round"/>
<path d="M251.0 290.0C249.9 292.2 246.8 298.6 244.3 303.3C241.8 308.1 238.6 313.6 236.0 318.3C233.4 323.1 230.2 326.7 228.5 331.7C226.8 336.7 226.6 341.4 226.0 348.3C225.4 355.3 225.3 363.6 225.2 373.3C225.0 383.1 225.0 399.4 225.0 406.7C225.0 413.9 225.1 412.0 225.2 416.7C225.3 421.3 225.6 431.5 225.7 434.5C227.3 434.6 231.8 435.3 235.3 435.0C238.9 434.7 242.8 433.2 247.0 432.5C251.2 431.8 256.3 431.0 260.3 430.8C264.4 430.7 268.4 430.4 271.2 431.7C273.9 432.9 275.7 434.7 277.0 438.3C278.3 441.9 278.7 447.2 279.0 453.3C279.3 459.4 279.0 467.2 278.7 475.0C278.3 482.8 277.9 491.7 277.0 500.0C276.1 508.3 274.7 516.6 273.5 525.0C272.3 533.3 270.9 542.3 269.8 550.0C268.7 557.8 267.5 565.3 267.0 571.7C266.5 578.0 266.7 581.9 266.7 588.3C266.6 594.7 266.9 602.2 266.9 610.0C266.9 617.8 266.9 627.5 266.7 635.0C266.5 642.5 265.9 648.3 265.7 655.0C265.4 661.7 265.2 671.7 265.2 675.0L273.7 655.3C272.8 658.9 270.1 669.5 268.7 676.7C267.3 683.8 266.4 691.4 265.3 698.3C264.2 705.3 263.0 712.2 262.1 718.3C261.1 724.5 260.1 729.4 259.5 735.0C258.9 740.6 258.5 746.0 258.6 751.7C258.6 757.4 259.0 763.2 259.7 769.1C260.4 774.9 261.8 781.5 262.8 786.7C263.9 791.8 265.2 796.1 266.2 800.0C267.1 803.9 268.2 808.3 268.7 810.0" stroke="#a5781f" stroke-width="2.5" fill="none" stroke-linecap="round" stroke-linejoin="round"/>
<path d="M157.7 305.0C157.4 301.9 156.8 293.1 156.0 286.7C155.2 280.3 154.1 273.1 152.7 266.7C151.3 260.3 149.5 253.6 147.7 248.3C145.9 243.1 142.8 237.2 141.8 235.0C143.4 238.1 148.4 246.4 151.0 253.3C153.6 260.3 156.0 269.4 157.7 276.7C159.3 283.9 160.2 291.7 161.0 296.7C161.8 301.7 161.7 300.9 162.6 306.7C163.4 312.5 165.1 323.3 166.0 331.7C166.9 340.0 167.1 348.3 167.7 356.7C168.2 365.0 168.7 373.3 169.3 381.7C170.0 390.0 171.0 401.4 171.5 406.7C172.0 411.9 171.5 408.8 172.2 413.3C173.0 417.7 174.7 426.4 175.8 433.3C177.0 440.3 178.2 448.1 179.2 455.0C180.1 461.9 180.8 467.5 181.7 475.0C182.5 482.5 183.5 491.7 184.2 500.0C184.9 508.3 185.4 517.2 185.9 525.0C186.4 532.8 186.9 540.3 187.1 546.7C187.4 553.1 187.7 557.2 187.5 563.3C187.3 569.4 186.7 577.8 185.8 583.3C185.0 588.9 183.1 593.1 182.5 596.7C181.9 600.3 181.9 600.6 182.0 605.0C182.1 609.4 182.5 616.9 183.0 623.3C183.5 629.7 184.4 636.7 185.0 643.3C185.6 650.0 186.3 658.3 186.7 663.3C187.1 668.3 187.2 669.7 187.5 673.3C187.7 676.9 188.2 681.5 188.3 685.0C188.4 688.5 188.1 692.6 188.0 694.2" stroke="#e39d1b" stroke-width="2.1" fill="none" stroke-linecap="round" stroke-linejoin="round"/>
<path d="M264.3 305.0C264.6 301.9 265.2 293.1 266.0 286.7C266.8 280.3 267.9 273.1 269.3 266.7C270.7 260.3 272.5 253.6 274.3 248.3C276.1 243.1 279.2 237.2 280.2 235.0C278.6 238.1 273.6 246.4 271.0 253.3C268.4 260.3 266.0 269.4 264.3 276.7C262.7 283.9 261.8 291.7 261.0 296.7C260.2 301.7 260.3 300.9 259.4 306.7C258.6 312.5 256.9 323.3 256.0 331.7C255.1 340.0 254.9 348.3 254.3 356.7C253.8 365.0 253.3 373.3 252.7 381.7C252.0 390.0 251.0 401.4 250.5 406.7C250.0 411.9 250.5 408.8 249.8 413.3C249.0 417.7 247.3 426.4 246.2 433.3C245.0 440.3 243.8 448.1 242.8 455.0C241.9 461.9 241.2 467.5 240.3 475.0C239.5 482.5 238.5 491.7 237.8 500.0C237.1 508.3 236.6 517.2 236.1 525.0C235.6 532.8 235.1 540.3 234.9 546.7C234.6 553.1 234.3 557.2 234.5 563.3C234.7 569.4 235.3 577.8 236.2 583.3C237.0 588.9 238.9 593.1 239.5 596.7C240.1 600.3 240.1 600.6 240.0 605.0C239.9 609.4 239.5 616.9 239.0 623.3C238.5 629.7 237.6 636.7 237.0 643.3C236.4 650.0 235.7 658.3 235.3 663.3C234.9 668.3 234.8 669.7 234.5 673.3C234.3 676.9 233.8 681.5 233.7 685.0C233.6 688.5 233.9 692.6 234.0 694.2" stroke="#e39d1b" stroke-width="2.1" fill="none" stroke-linecap="round" stroke-linejoin="round"/>
<path d="M178.3 786.7C177.6 787.5 175.1 789.9 174.2 791.7C173.3 793.5 172.9 795.8 173.0 797.5C173.1 799.2 174.4 801.0 174.7 801.7" stroke="#e39d1b" stroke-width="2.1" fill="none" stroke-linecap="round" stroke-linejoin="round"/>
<path d="M243.7 786.7C244.4 787.5 246.9 789.9 247.8 791.7C248.7 793.5 249.1 795.8 249.0 797.5C248.9 799.2 247.6 801.0 247.3 801.7" stroke="#e39d1b" stroke-width="2.1" fill="none" stroke-linecap="round" stroke-linejoin="round"/>
<path d="M161.8 280.0C161.4 276.1 160.0 263.9 159.3 256.7C158.6 249.4 158.8 241.7 157.7 236.7C156.6 231.7 154.9 228.8 152.7 226.7C150.4 224.5 147.1 223.5 144.3 223.7C141.6 223.8 138.1 225.3 136.0 227.5C133.9 229.7 132.8 232.4 131.8 236.7C130.9 241.0 130.6 247.8 130.2 253.3C129.7 258.9 129.4 264.4 129.0 270.0C128.6 275.6 128.3 280.6 127.7 286.7C127.0 292.8 126.2 300.4 125.3 306.5C124.3 312.7 123.4 317.8 121.8 323.3C120.3 328.9 117.7 334.4 116.0 340.0C114.3 345.6 113.1 351.1 111.8 356.7C110.6 362.2 110.0 367.8 108.5 373.3C107.0 378.9 104.5 384.5 102.7 390.0C100.8 395.5 99.2 401.0 97.4 406.6C95.7 412.2 93.7 418.2 92.2 423.5C90.6 428.8 89.0 433.6 88.3 438.3C87.7 443.0 88.8 447.2 88.3 451.7C87.9 456.1 86.8 460.8 85.8 465.0C84.9 469.2 83.2 472.5 82.5 476.7C81.8 480.8 81.4 486.1 81.7 490.0C81.9 493.9 83.3 496.7 84.2 500.0C85.0 503.3 86.2 508.3 86.7 510.0" stroke="#f49ac1" stroke-width="2.5" fill="none" stroke-linecap="round" stroke-linejoin="round"/>
<path d="M260.2 280.0C260.6 276.1 262.0 263.9 262.7 256.7C263.4 249.4 263.2 241.7 264.3 236.7C265.4 231.7 267.1 228.8 269.3 226.7C271.6 224.5 274.9 223.5 277.7 223.7C280.4 223.8 283.9 225.3 286.0 227.5C288.1 229.7 289.2 232.4 290.2 236.7C291.1 241.0 291.4 247.8 291.8 253.3C292.3 258.9 292.6 264.4 293.0 270.0C293.4 275.6 293.7 280.6 294.3 286.7C295.0 292.8 295.8 300.4 296.7 306.5C297.7 312.7 298.6 317.8 300.2 323.3C301.7 328.9 304.3 334.4 306.0 340.0C307.7 345.6 308.9 351.1 310.2 356.7C311.4 362.2 312.0 367.8 313.5 373.3C315.0 378.9 317.5 384.5 319.3 390.0C321.2 395.5 322.8 401.0 324.6 406.6C326.3 412.2 328.3 418.2 329.8 423.5C331.4 428.8 333.0 433.6 333.7 438.3C334.3 443.0 333.2 447.2 333.7 451.7C334.1 456.1 335.2 460.8 336.2 465.0C337.1 469.2 338.8 472.5 339.5 476.7C340.2 480.8 340.6 486.1 340.3 490.0C340.1 493.9 338.7 496.7 337.8 500.0C337.0 503.3 335.8 508.3 335.3 510.0" stroke="#f49ac1" stroke-width="2.5" fill="none" stroke-linecap="round" stroke-linejoin="round"/>
<path d="M141.8 285.8C141.3 286.0 139.3 284.9 138.5 286.7C137.7 288.5 137.7 293.4 137.2 296.7C136.8 300.0 136.8 302.1 135.9 306.5C135.0 311.0 133.8 317.8 131.8 323.3C129.9 328.9 126.8 334.7 124.3 340.0C121.8 345.3 118.4 350.0 116.8 355.0C115.3 360.0 115.7 365.3 115.2 370.0C114.6 374.7 114.6 378.3 113.5 383.3C112.4 388.3 110.3 394.5 108.5 400.0C106.7 405.5 104.0 412.7 102.6 416.6C101.1 420.5 101.2 420.2 99.9 423.3C98.7 426.4 96.1 431.1 95.0 435.0C93.9 438.9 93.2 442.5 93.3 446.7C93.5 450.8 95.6 455.6 95.8 460.0C96.1 464.4 94.9 469.2 95.0 473.3C95.1 477.5 95.6 481.7 96.7 485.0C97.8 488.3 100.0 491.1 101.7 493.3C103.3 495.6 105.8 497.5 106.7 498.3" stroke="#e31e24" stroke-width="2.5" fill="none" stroke-linecap="round" stroke-linejoin="round"/>
<path d="M280.2 285.8C280.7 286.0 282.7 284.9 283.5 286.7C284.3 288.5 284.3 293.4 284.8 296.7C285.2 300.0 285.2 302.1 286.1 306.5C287.0 311.0 288.2 317.8 290.2 323.3C292.1 328.9 295.2 334.7 297.7 340.0C300.2 345.3 303.6 350.0 305.2 355.0C306.7 360.0 306.3 365.3 306.8 370.0C307.4 374.7 307.4 378.3 308.5 383.3C309.6 388.3 311.7 394.5 313.5 400.0C315.3 405.5 318.0 412.7 319.4 416.6C320.9 420.5 320.8 420.2 322.1 423.3C323.3 426.4 325.9 431.1 327.0 435.0C328.1 438.9 328.8 442.5 328.7 446.7C328.5 450.8 326.4 455.6 326.2 460.0C325.9 464.4 327.1 469.2 327.0 473.3C326.9 477.5 326.4 481.7 325.3 485.0C324.2 488.3 322.0 491.1 320.3 493.3C318.7 495.6 316.2 497.5 315.3 498.3" stroke="#e31e24" stroke-width="2.5" fill="none" stroke-linecap="round" stroke-linejoin="round"/>
<path d="M156.7 218.9L155.6 210.6C154.3 210.8 150.7 210.8 147.8 212.2C144.8 213.6 140.6 216.3 137.8 218.9C135.0 221.5 133.0 224.6 131.1 227.8C129.3 230.9 128.0 234.1 126.7 237.8C125.4 241.5 124.3 245.9 123.3 250.0C122.4 254.1 121.8 258.0 121.1 262.2C120.5 266.5 120.0 271.1 119.4 275.6C118.9 280.0 118.5 283.7 117.9 288.9C117.3 294.1 116.5 300.9 115.8 306.6C115.1 312.4 114.4 317.8 113.5 323.3C112.6 328.9 111.4 334.4 110.2 340.0C108.9 345.6 107.4 351.1 106.0 356.7C104.6 362.2 103.4 367.8 101.8 373.3C100.3 378.9 98.5 384.4 96.8 390.0C95.2 395.6 93.5 401.1 91.8 406.7C90.1 412.2 88.2 418.6 86.7 423.4C85.3 428.1 85.3 431.4 83.3 435.0C81.4 438.6 78.3 441.7 75.0 445.0C71.7 448.3 66.9 451.7 63.3 455.0C59.7 458.3 55.0 463.3 53.3 465.0" stroke="#cfcfcf" stroke-width="2.5" fill="none" stroke-linecap="round" stroke-linejoin="round"/>
<path d="M265.3 218.9L266.4 210.6C267.7 210.8 271.3 210.8 274.2 212.2C277.2 213.6 281.4 216.3 284.2 218.9C287.0 221.5 289.0 224.6 290.9 227.8C292.7 230.9 294.0 234.1 295.3 237.8C296.6 241.5 297.7 245.9 298.7 250.0C299.6 254.1 300.2 258.0 300.9 262.2C301.5 266.5 302.0 271.1 302.6 275.6C303.1 280.0 303.5 283.7 304.1 288.9C304.7 294.1 305.5 300.9 306.2 306.6C306.9 312.4 307.6 317.8 308.5 323.3C309.4 328.9 310.6 334.4 311.8 340.0C313.1 345.6 314.6 351.1 316.0 356.7C317.4 362.2 318.6 367.8 320.2 373.3C321.7 378.9 323.5 384.4 325.2 390.0C326.8 395.6 328.5 401.1 330.2 406.7C331.9 412.2 333.8 418.6 335.3 423.4C336.7 428.1 336.7 431.4 338.7 435.0C340.6 438.6 343.7 441.7 347.0 445.0C350.3 448.3 355.1 451.7 358.7 455.0C362.3 458.3 367.0 463.3 368.7 465.0" stroke="#cfcfcf" stroke-width="2.5" fill="none" stroke-linecap="round" stroke-linejoin="round"/>
<path d="M68.7 465.0C68.5 467.5 67.1 474.7 67.5 480.0C67.9 485.3 70.3 493.9 70.8 496.7" stroke="#cfcfcf" stroke-width="1.5" fill="none" stroke-linecap="round" stroke-linejoin="round"/>
<path d="M353.3 465.0C353.5 467.5 354.9 474.7 354.5 480.0C354.1 485.3 351.7 493.9 351.2 496.7" stroke="#cfcfcf" stroke-width="1.5" fill="none" stroke-linecap="round" stroke-linejoin="round"/>
<path d="M151.8 308.3C152.2 309.7 153.2 313.9 154.3 316.7C155.5 319.4 158.1 323.6 158.8 325.0L172.3 329.2C171.8 331.0 170.9 336.8 169.3 340.0C167.7 343.2 164.3 345.3 162.7 348.3C161.0 351.4 159.9 356.7 159.3 358.3" stroke="#1b9a48" stroke-width="2.5" fill="none" stroke-linecap="round" stroke-linejoin="round"/>
<path d="M270.2 308.3C269.8 309.7 268.8 313.9 267.7 316.7C266.5 319.4 263.9 323.6 263.2 325.0L249.7 329.2C250.2 331.0 251.1 336.8 252.7 340.0C254.3 343.2 257.7 345.3 259.3 348.3C261.0 351.4 262.1 356.7 262.7 358.3" stroke="#1b9a48" stroke-width="2.5" fill="none" stroke-linecap="round" stroke-linejoin="round"/>
<path d="M144.3 387.5L142.3 398.3L151.3 409.2C150.7 409.9 150.5 411.8 147.7 413.3C144.8 414.9 137.0 416.8 134.3 418.3C131.7 419.9 132.2 421.8 131.8 422.5" stroke="#1b9a48" stroke-width="2.5" fill="none" stroke-linecap="round" stroke-linejoin="round"/>
<path d="M277.7 387.5L279.7 398.3L270.7 409.2C271.3 409.9 271.5 411.8 274.3 413.3C277.2 414.9 285.0 416.8 287.7 418.3C290.3 419.9 289.7 421.8 290.2 422.5" stroke="#1b9a48" stroke-width="2.5" fill="none" stroke-linecap="round" stroke-linejoin="round"/>
<path d="M141.7 400.0L150.8 409.2C149.9 409.9 147.6 412.1 145.0 413.3C142.4 414.6 137.2 415.3 135.0 416.7C132.8 418.1 132.5 420.8 132.0 421.7" stroke="#1b9a48" stroke-width="2.5" fill="none" stroke-linecap="round" stroke-linejoin="round"/>
<path d="M280.3 400.0L271.2 409.2C272.1 409.9 274.4 412.1 277.0 413.3C279.6 414.6 284.8 415.3 287.0 416.7C289.2 418.1 289.5 420.8 290.0 421.7" stroke="#1b9a48" stroke-width="2.5" fill="none" stroke-linecap="round" stroke-linejoin="round"/>
<path d="M173.5 305.8C172.4 306.5 168.8 307.6 166.8 310.0C164.9 312.4 163.2 316.1 161.8 320.0C160.4 323.9 158.9 329.4 158.5 333.3C158.1 337.2 159.2 341.7 159.3 343.3" stroke="#7ab82f" stroke-width="2.5" fill="none" stroke-linecap="round" stroke-linejoin="round"/>
<path d="M248.5 305.8C249.6 306.5 253.2 307.6 255.2 310.0C257.1 312.4 258.8 316.1 260.2 320.0C261.6 323.9 263.1 329.4 263.5 333.3C263.9 337.2 262.8 341.7 262.7 343.3" stroke="#7ab82f" stroke-width="2.5" fill="none" stroke-linecap="round" stroke-linejoin="round"/>
<path d="M151.8 376.7C151.7 377.4 149.8 378.6 151.0 380.8C152.2 383.1 156.0 386.8 159.3 390.0C162.7 393.2 167.4 396.4 171.0 400.0C174.6 403.6 179.0 408.8 181.0 411.7C183.0 414.5 182.6 416.3 182.9 417.1C183.1 417.9 182.2 415.6 182.5 416.7C182.9 417.7 184.3 420.0 185.0 423.3C185.7 426.7 186.5 433.3 186.7 436.7C186.8 440.0 185.7 439.7 185.8 443.3C186.0 446.9 186.7 453.1 187.5 458.3C188.3 463.6 189.6 468.6 190.8 475.0C192.1 481.4 193.6 489.7 195.0 496.7C196.4 503.6 198.0 510.5 199.2 516.7C200.4 522.8 201.4 528.9 202.1 533.4C202.9 537.8 203.0 539.7 203.5 543.3C204.0 546.9 204.7 551.1 205.0 555.0C205.3 558.9 205.3 563.6 205.0 566.7C204.7 569.7 203.6 572.2 203.3 573.3" stroke="#7ab82f" stroke-width="2.5" fill="none" stroke-linecap="round" stroke-linejoin="round"/>
<path d="M270.2 376.7C270.3 377.4 272.2 378.6 271.0 380.8C269.8 383.1 266.0 386.8 262.7 390.0C259.3 393.2 254.6 396.4 251.0 400.0C247.4 403.6 243.0 408.8 241.0 411.7C239.0 414.5 239.4 416.3 239.1 417.1C238.9 417.9 239.8 415.6 239.5 416.7C239.1 417.7 237.7 420.0 237.0 423.3C236.3 426.7 235.5 433.3 235.3 436.7C235.2 440.0 236.3 439.7 236.2 443.3C236.0 446.9 235.3 453.1 234.5 458.3C233.7 463.6 232.4 468.6 231.2 475.0C229.9 481.4 228.4 489.7 227.0 496.7C225.6 503.6 224.0 510.5 222.8 516.7C221.6 522.8 220.6 528.9 219.9 533.4C219.1 537.8 219.0 539.7 218.5 543.3C218.0 546.9 217.3 551.1 217.0 555.0C216.7 558.9 216.7 563.6 217.0 566.7C217.3 569.7 218.4 572.2 218.7 573.3" stroke="#7ab82f" stroke-width="2.5" fill="none" stroke-linecap="round" stroke-linejoin="round"/>
<path d="M191.7 670.0C191.4 671.9 191.2 677.8 190.0 681.7C188.8 685.6 186.3 688.9 184.2 693.3C182.1 697.8 179.4 702.8 177.5 708.3C175.6 713.9 173.8 720.8 172.5 726.7C171.2 732.5 170.3 737.8 169.7 743.3C169.1 748.9 169.0 756.1 169.0 760.0C168.9 763.9 169.0 763.6 169.3 766.7C169.6 769.7 170.9 774.4 170.8 778.3C170.8 782.2 170.1 786.7 169.2 790.0C168.2 793.3 166.2 796.1 165.0 798.3C163.8 800.6 162.5 802.5 162.0 803.3" stroke="#7ab82f" stroke-width="2.5" fill="none" stroke-linecap="round" stroke-linejoin="round"/>
<path d="M230.3 670.0C230.6 671.9 230.8 677.8 232.0 681.7C233.2 685.6 235.7 688.9 237.8 693.3C239.9 697.8 242.6 702.8 244.5 708.3C246.4 713.9 248.2 720.8 249.5 726.7C250.8 732.5 251.7 737.8 252.3 743.3C252.9 748.9 253.0 756.1 253.0 760.0C253.1 763.9 253.0 763.6 252.7 766.7C252.4 769.7 251.1 774.4 251.2 778.3C251.2 782.2 251.9 786.7 252.8 790.0C253.8 793.3 255.8 796.1 257.0 798.3C258.2 800.6 259.5 802.5 260.0 803.3" stroke="#7ab82f" stroke-width="2.5" fill="none" stroke-linecap="round" stroke-linejoin="round"/>
<path d="M150.3 760.0C150.1 761.7 148.8 767.1 149.2 770.0C149.5 772.9 151.5 775.1 152.5 777.5C153.5 779.9 155.3 781.9 155.0 784.2C154.7 786.4 152.8 788.6 150.8 790.8C148.9 793.1 145.4 795.1 143.3 797.5C141.2 799.9 139.4 802.9 138.3 805.0C137.2 807.1 136.9 809.2 136.7 810.0" stroke="#1b9a48" stroke-width="2.5" fill="none" stroke-linecap="round" stroke-linejoin="round"/>
<path d="M271.7 760.0C271.9 761.7 273.2 767.1 272.8 770.0C272.5 772.9 270.5 775.1 269.5 777.5C268.5 779.9 266.7 781.9 267.0 784.2C267.3 786.4 269.2 788.6 271.2 790.8C273.1 793.1 276.6 795.1 278.7 797.5C280.7 799.9 282.6 802.9 283.7 805.0C284.8 807.1 285.1 809.2 285.3 810.0" stroke="#1b9a48" stroke-width="2.5" fill="none" stroke-linecap="round" stroke-linejoin="round"/>
<path d="M146.3 777.5C146.2 778.2 145.4 780.4 145.8 781.7C146.3 782.9 149.3 783.3 149.2 785.0C149.0 786.7 146.9 789.2 145.0 791.7C143.1 794.2 139.3 797.5 137.5 800.0C135.7 802.5 134.7 805.6 134.2 806.7" stroke="#4bb9ea" stroke-width="2.5" fill="none" stroke-linecap="round" stroke-linejoin="round"/>
<path d="M275.7 777.5C275.7 778.2 276.6 780.4 276.2 781.7C275.7 782.9 272.7 783.3 272.8 785.0C273.0 786.7 275.1 789.2 277.0 791.7C278.9 794.2 282.7 797.5 284.5 800.0C286.3 802.5 287.3 805.6 287.8 806.7" stroke="#4bb9ea" stroke-width="2.5" fill="none" stroke-linecap="round" stroke-linejoin="round"/>
<path d="M930.0 215.0C928.9 215.8 925.0 217.5 923.3 220.0C921.7 222.5 920.8 225.8 920.0 230.0C919.2 234.2 918.9 240.6 918.3 245.0C917.8 249.4 917.2 252.5 916.7 256.7C916.1 260.8 915.5 265.0 915.0 270.0C914.5 275.0 914.0 280.6 913.6 286.7C913.2 292.8 912.9 300.6 912.7 306.7C912.5 312.8 912.3 318.1 912.5 323.3C912.7 328.6 913.7 334.7 914.2 338.3C914.6 341.9 915.1 343.9 915.3 345.0C913.9 346.1 908.9 348.6 906.7 351.7C904.4 354.7 903.2 358.6 901.7 363.3C900.1 368.1 898.9 374.4 897.5 380.0C896.1 385.6 894.6 391.1 893.3 396.7C892.0 402.2 890.5 409.3 889.6 413.2C888.7 417.1 888.6 417.0 887.8 420.1C887.0 423.2 886.6 428.1 885.0 431.7C883.4 435.3 880.6 438.3 878.3 441.7C876.1 445.0 873.5 448.6 871.7 451.7C869.9 454.7 868.8 457.2 867.5 460.0C866.2 462.8 864.7 465.8 864.2 468.3C863.6 470.8 864.2 473.9 864.2 475.0" stroke="#9a9a9a" stroke-width="2.5" fill="none" stroke-linecap="round" stroke-linejoin="round"/>
<path d="M1094.0 215.0C1095.1 215.8 1099.0 217.5 1100.7 220.0C1102.3 222.5 1103.2 225.8 1104.0 230.0C1104.8 234.2 1105.1 240.6 1105.7 245.0C1106.2 249.4 1106.8 252.5 1107.3 256.7C1107.9 260.8 1108.5 265.0 1109.0 270.0C1109.5 275.0 1110.0 280.6 1110.4 286.7C1110.8 292.8 1111.1 300.6 1111.3 306.7C1111.5 312.8 1111.7 318.1 1111.5 323.3C1111.3 328.6 1110.3 334.7 1109.8 338.3C1109.4 341.9 1108.9 343.9 1108.7 345.0C1110.1 346.1 1115.1 348.6 1117.3 351.7C1119.6 354.7 1120.8 358.6 1122.3 363.3C1123.9 368.1 1125.1 374.4 1126.5 380.0C1127.9 385.6 1129.4 391.1 1130.7 396.7C1132.0 402.2 1133.5 409.3 1134.4 413.2C1135.3 417.1 1135.4 417.0 1136.2 420.1C1137.0 423.2 1137.4 428.1 1139.0 431.7C1140.6 435.3 1143.4 438.3 1145.7 441.7C1147.9 445.0 1150.5 448.6 1152.3 451.7C1154.1 454.7 1155.2 457.2 1156.5 460.0C1157.8 462.8 1159.3 465.8 1159.8 468.3C1160.4 470.8 1159.8 473.9 1159.8 475.0" stroke="#9a9a9a" stroke-width="2.5" fill="none" stroke-linecap="round" stroke-linejoin="round"/>
<path d="M988.3 697.5C988.2 698.8 988.6 702.9 987.5 705.0C986.4 707.1 983.5 708.1 981.7 710.0C979.9 711.9 978.5 713.9 976.7 716.7C974.9 719.4 972.3 722.2 970.8 726.7C969.4 731.1 968.6 737.8 968.0 743.3C967.4 748.9 967.3 755.0 967.5 760.0C967.7 765.0 968.2 769.7 969.2 773.3C970.1 776.9 971.5 779.8 973.3 781.7C975.1 783.6 978.3 784.2 980.0 784.7C981.7 785.1 982.8 784.2 983.3 784.2" stroke="#e39d1b" stroke-width="2.1" fill="none" stroke-linecap="round" stroke-linejoin="round"/>
<path d="M1035.7 697.5C1035.8 698.8 1035.4 702.9 1036.5 705.0C1037.6 707.1 1040.5 708.1 1042.3 710.0C1044.1 711.9 1045.5 713.9 1047.3 716.7C1049.1 719.4 1051.7 722.2 1053.2 726.7C1054.6 731.1 1055.4 737.8 1056.0 743.3C1056.6 748.9 1056.7 755.0 1056.5 760.0C1056.3 765.0 1055.8 769.7 1054.8 773.3C1053.9 776.9 1052.5 779.8 1050.7 781.7C1048.9 783.6 1045.7 784.2 1044.0 784.7C1042.3 785.1 1041.2 784.2 1040.7 784.2" stroke="#e39d1b" stroke-width="2.1" fill="none" stroke-linecap="round" stroke-linejoin="round"/>
<path d="M1012.0 74.6L1011.0 74.7L1009.8 74.7L1008.3 74.8L1006.6 74.8L1004.8 74.9L1003.1 75.0L1001.4 75.2L999.9 75.4L998.0 75.7L996.3 76.1L994.5 76.5L992.9 77.1L991.2 77.7L989.6 78.4L988.0 79.1L986.5 80.0L985.0 80.9L983.6 81.9L982.2 83.0L980.8 84.1L979.7 85.2L978.6 86.3L977.6 87.4L976.6 88.6L975.6 89.9L974.6 91.2L973.7 92.6L972.9 94.0L972.0 95.5L971.3 97.1L970.5 98.7L969.8 100.3L969.1 102.0L968.5 103.7L968.0 105.2L967.6 106.7L967.2 108.2L966.8 109.8L966.4 111.4L966.1 113.0L965.8 114.7L965.6 116.5L965.4 117.9L965.2 119.3L965.1 120.8L965.0 122.3L964.9 123.8L964.8 125.4L964.8 126.9L964.7 128.5L964.7 130.1L964.7 131.7L964.8 133.2L964.8 134.6L964.9 136.1L965.0 137.6L965.1 139.2L965.2 140.7L965.4 142.2L965.5 143.8L965.6 145.3L965.8 146.9L965.9 148.5L966.0 150.0L966.2 151.5L966.3 153.1L966.5 154.7L966.6 156.3L966.8 157.9L967.0 159.5L967.1 161.0L967.2 162.5L967.4 164.0L967.5 165.4L967.6 166.8L967.7 168.7L967.8 170.5L967.9 172.2L968.0 173.8L968.0 175.3L968.0 176.9L968.0 178.4L968.0 179.9L967.9 181.6L967.7 183.3L967.5 185.0L967.3 186.6L967.1 188.3L966.9 189.9L966.7 191.5L966.6 193.3L966.4 195.0L966.2 196.7L966.1 198.4L966.0 200.1L966.0 201.7L966.0 203.5L966.1 205.3L966.3 207.1L966.7 208.9L967.3 210.6L968.2 212.2L969.2 213.8L970.5 215.2L971.9 216.5L973.5 217.5L975.0 218.1L976.5 218.4L978.1 218.6L979.7 218.6L981.4 218.7L983.3 218.7L984.6 218.7L986.0 218.8L987.5 218.7L989.0 218.7L990.6 218.7L992.2 218.7L993.8 218.7L995.3 218.6L996.8 218.7L998.3 218.7L999.9 218.8L1001.6 218.9L1003.4 219.0L1005.1 219.2L1006.8 219.4L1008.4 219.5L1009.8 219.7L1011.0 219.8L1011.9 219.9L1012.1 217.5L1011.2 217.4L1010.0 217.3L1008.6 217.1L1007.1 217.0L1005.4 216.8L1003.6 216.6L1001.8 216.5L1000.1 216.4L998.4 216.3L996.9 216.3L995.3 216.2L993.7 216.3L992.1 216.3L990.5 216.3L989.0 216.3L987.4 216.3L986.0 216.4L984.6 216.3L983.4 216.3L981.5 216.2L979.8 216.1L978.3 216.0L977.0 215.9L975.8 215.6L974.8 215.1L973.6 214.3L972.5 213.3L971.5 212.1L970.7 210.7L970.0 209.4L969.6 208.1L969.3 206.7L969.1 205.1L969.1 203.4L969.0 201.7L969.1 200.2L969.2 198.6L969.3 197.0L969.5 195.4L969.7 193.6L969.9 191.8L970.1 190.3L970.3 188.7L970.5 187.1L970.7 185.4L970.9 183.6L971.1 181.8L971.2 180.0L971.2 178.4L971.2 176.9L971.2 175.3L971.2 173.7L971.1 172.0L971.0 170.3L970.9 168.5L970.8 166.6L970.7 165.2L970.6 163.7L970.4 162.3L970.3 160.7L970.1 159.1L970.0 157.6L969.8 156.0L969.7 154.4L969.5 152.8L969.4 151.2L969.2 149.7L969.1 148.2L969.0 146.6L968.8 145.0L968.7 143.5L968.5 141.9L968.4 140.4L968.3 138.9L968.2 137.4L968.1 136.0L968.0 134.5L968.0 133.1L967.9 131.6L967.9 130.1L967.9 128.5L968.0 127.0L968.0 125.5L968.1 124.0L968.2 122.5L968.3 121.1L968.4 119.6L968.6 118.2L968.8 116.9L969.0 115.2L969.2 113.6L969.5 112.0L969.9 110.5L970.2 109.0L970.6 107.5L971.0 106.1L971.5 104.7L972.0 103.0L972.6 101.5L973.3 99.9L974.0 98.4L974.7 96.9L975.5 95.5L976.3 94.1L977.1 92.8L977.9 91.5L978.7 90.3L979.6 89.1L980.5 88.0L981.5 86.9L982.5 85.9L983.7 84.7L984.9 83.6L986.2 82.6L987.6 81.7L989.0 80.8L990.4 80.0L991.9 79.3L993.4 78.7L995.0 78.2L996.7 77.7L998.4 77.3L1000.1 77.0L1001.6 76.7L1003.2 76.6L1004.9 76.4L1006.7 76.3L1008.3 76.2L1009.8 76.2L1011.1 76.1L1012.0 76.0ZM1011.3 75.3a0.70 0.70 0 1 0 1.40 0a0.70 0.70 0 1 0 -1.40 0ZM1010.8 218.7a1.20 1.20 0 1 0 2.40 0a1.20 1.20 0 1 0 -2.40 0ZM1012.0 76.0L1012.9 76.1L1014.2 76.2L1015.7 76.2L1017.3 76.3L1019.1 76.4L1020.8 76.6L1022.4 76.7L1023.9 77.0L1025.6 77.3L1027.3 77.7L1029.0 78.2L1030.6 78.7L1032.1 79.3L1033.6 80.0L1035.0 80.8L1036.4 81.7L1037.8 82.6L1039.1 83.6L1040.3 84.7L1041.5 85.9L1042.5 86.9L1043.5 88.0L1044.4 89.1L1045.3 90.3L1046.1 91.5L1046.9 92.8L1047.7 94.1L1048.5 95.5L1049.3 96.9L1050.0 98.4L1050.7 99.9L1051.4 101.5L1052.0 103.0L1052.5 104.7L1053.0 106.1L1053.4 107.5L1053.8 109.0L1054.1 110.5L1054.5 112.0L1054.8 113.6L1055.0 115.2L1055.2 116.9L1055.4 118.2L1055.6 119.6L1055.7 121.1L1055.8 122.5L1055.9 124.0L1056.0 125.5L1056.0 127.0L1056.1 128.5L1056.1 130.1L1056.1 131.6L1056.0 133.1L1056.0 134.5L1055.9 136.0L1055.8 137.4L1055.7 138.9L1055.6 140.4L1055.5 141.9L1055.3 143.5L1055.2 145.0L1055.0 146.6L1054.9 148.2L1054.8 149.7L1054.6 151.2L1054.5 152.8L1054.3 154.4L1054.2 156.0L1054.0 157.6L1053.9 159.1L1053.7 160.7L1053.6 162.3L1053.4 163.7L1053.3 165.2L1053.2 166.6L1053.1 168.5L1053.0 170.3L1052.9 172.0L1052.8 173.7L1052.8 175.3L1052.8 176.9L1052.8 178.4L1052.8 180.0L1052.9 181.8L1053.1 183.6L1053.3 185.4L1053.5 187.1L1053.7 188.7L1053.9 190.3L1054.1 191.8L1054.3 193.6L1054.5 195.4L1054.7 197.0L1054.8 198.6L1054.9 200.2L1055.0 201.7L1054.9 203.4L1054.9 205.1L1054.7 206.7L1054.4 208.1L1054.0 209.4L1053.3 210.7L1052.5 212.1L1051.5 213.3L1050.4 214.3L1049.2 215.1L1048.2 215.6L1047.0 215.9L1045.7 216.0L1044.2 216.1L1042.5 216.2L1040.6 216.3L1039.4 216.3L1038.0 216.4L1036.6 216.3L1035.0 216.3L1033.5 216.3L1031.9 216.3L1030.3 216.3L1028.7 216.2L1027.1 216.3L1025.6 216.3L1023.9 216.4L1022.2 216.5L1020.4 216.6L1018.6 216.8L1016.9 217.0L1015.4 217.1L1014.0 217.3L1012.8 217.4L1011.9 217.5L1012.1 219.9L1013.0 219.8L1014.2 219.7L1015.6 219.5L1017.2 219.4L1018.9 219.2L1020.6 219.0L1022.4 218.9L1024.1 218.8L1025.7 218.7L1027.2 218.7L1028.7 218.6L1030.2 218.7L1031.8 218.7L1033.4 218.7L1035.0 218.7L1036.5 218.7L1038.0 218.8L1039.4 218.7L1040.7 218.7L1042.6 218.7L1044.3 218.6L1045.9 218.6L1047.5 218.4L1049.0 218.1L1050.5 217.5L1052.1 216.5L1053.5 215.2L1054.8 213.8L1055.8 212.2L1056.7 210.6L1057.3 208.9L1057.7 207.1L1057.9 205.3L1058.0 203.5L1058.0 201.7L1058.0 200.1L1057.9 198.4L1057.8 196.7L1057.6 195.0L1057.4 193.3L1057.3 191.5L1057.1 189.9L1056.9 188.3L1056.7 186.6L1056.5 185.0L1056.3 183.3L1056.1 181.6L1056.0 179.9L1056.0 178.4L1056.0 176.9L1056.0 175.3L1056.0 173.8L1056.1 172.2L1056.2 170.5L1056.3 168.7L1056.4 166.8L1056.5 165.4L1056.6 164.0L1056.8 162.5L1056.9 161.0L1057.0 159.5L1057.2 157.9L1057.4 156.3L1057.5 154.7L1057.7 153.1L1057.8 151.5L1058.0 150.0L1058.1 148.5L1058.2 146.9L1058.4 145.3L1058.5 143.8L1058.6 142.2L1058.8 140.7L1058.9 139.2L1059.0 137.6L1059.1 136.1L1059.2 134.6L1059.2 133.2L1059.3 131.7L1059.3 130.1L1059.3 128.5L1059.2 126.9L1059.2 125.4L1059.1 123.8L1059.0 122.3L1058.9 120.8L1058.8 119.3L1058.6 117.9L1058.4 116.5L1058.2 114.7L1057.9 113.0L1057.6 111.4L1057.2 109.8L1056.8 108.2L1056.4 106.7L1056.0 105.2L1055.5 103.7L1054.9 102.0L1054.2 100.3L1053.5 98.7L1052.7 97.1L1052.0 95.5L1051.1 94.0L1050.3 92.6L1049.4 91.2L1048.4 89.9L1047.4 88.6L1046.4 87.4L1045.4 86.3L1044.3 85.2L1043.2 84.1L1041.8 83.0L1040.4 81.9L1039.0 80.9L1037.5 80.0L1036.0 79.1L1034.4 78.4L1032.8 77.7L1031.1 77.1L1029.5 76.5L1027.7 76.1L1026.0 75.7L1024.1 75.4L1022.6 75.2L1020.9 75.0L1019.2 74.9L1017.4 74.8L1015.7 74.8L1014.2 74.7L1013.0 74.7L1012.0 74.6ZM1011.3 75.3a0.70 0.70 0 1 0 1.40 0a0.70 0.70 0 1 0 -1.40 0ZM1010.8 218.7a1.20 1.20 0 1 0 2.40 0a1.20 1.20 0 1 0 -2.40 0Z" fill="#000"/>
<path d="M967.5 200.6L966.5 200.6L965.3 200.6L963.7 200.6L962.0 200.6L960.2 200.6L958.3 200.8L956.4 201.1L955.0 201.4L953.5 201.7L952.0 202.1L950.4 202.5L948.8 203.0L947.3 203.5L945.7 204.1L944.2 204.7L942.7 205.3L941.3 206.0L939.8 206.8L938.4 207.7L937.0 208.5L935.7 209.5L934.4 210.4L933.1 211.3L931.9 212.2L930.8 213.1L929.5 214.1L928.2 215.2L927.1 216.3L926.0 217.3L924.9 218.5L924.0 219.7L923.1 220.9L922.3 222.3L921.5 223.7L920.9 225.1L920.3 226.6L919.7 228.1L919.2 229.7L918.7 231.3L918.4 232.7L918.1 234.0L917.8 235.4L917.6 236.9L917.3 238.3L917.1 239.9L916.9 241.4L916.6 243.0L916.2 244.7L915.9 246.1L915.6 247.5L915.3 248.9L914.9 250.4L914.6 251.9L914.2 253.4L913.8 255.0L913.5 256.6L913.1 258.2L912.7 259.8L912.4 261.5L912.1 263.1L911.8 264.6L911.5 266.1L911.2 267.6L911.0 269.1L910.7 270.7L910.5 272.2L910.2 273.8L910.0 275.4L909.7 276.9L909.5 278.5L909.2 280.0L909.0 281.6L908.7 283.1L908.4 284.7L908.2 286.4L907.9 288.1L907.6 289.8L907.3 291.6L907.0 293.3L906.7 295.0L906.5 296.6L906.2 298.2L906.0 299.6L905.7 301.0L905.5 302.1L905.4 303.1L905.0 305.0L904.8 306.5L904.7 307.5L904.6 308.7L904.5 310.1L904.3 311.6L904.1 313.2L904.0 314.9L903.8 316.6L903.6 318.3L903.4 320.0L903.3 321.6L903.1 323.2L902.9 324.7L902.8 326.2L902.6 327.6L902.5 329.1L902.3 330.6L902.2 332.0L902.0 333.5L901.8 335.0L901.5 336.5L901.3 338.1L900.9 339.7L900.6 341.1L900.2 342.5L899.8 344.0L899.4 345.6L898.9 347.1L898.5 348.7L898.0 350.3L897.5 351.9L897.0 353.5L896.5 355.1L896.0 356.6L895.5 358.1L895.1 359.5L894.6 361.2L894.1 362.8L893.6 364.3L893.2 365.8L892.7 367.3L892.2 368.8L891.8 370.3L891.3 371.7L890.9 373.2L890.5 374.7L890.1 376.3L889.7 377.8L889.3 379.3L889.0 380.9L888.7 382.4L888.4 383.9L888.1 385.5L887.8 387.0L887.5 388.5L887.2 390.0L887.0 391.5L886.7 393.1L886.5 394.6L886.3 396.2L886.1 397.8L885.9 399.5L885.7 401.1L885.6 402.7L885.4 404.2L885.3 405.7L885.1 407.1L884.9 408.4L884.8 409.7L884.4 411.7L884.1 413.4L883.8 415.0L883.4 416.4L883.0 417.9L882.5 419.5L882.2 421.0L881.8 422.5L881.4 423.9L881.0 425.4L880.5 426.8L879.9 428.2L879.2 429.4L878.3 430.7L877.3 431.8L876.2 432.9L875.0 434.1L873.7 435.2L872.4 436.4L871.1 437.7L870.0 438.7L869.0 439.8L867.9 440.8L866.8 441.9L865.6 443.0L864.5 444.1L863.3 445.3L862.2 446.5L861.0 447.8L860.1 448.9L859.1 450.1L858.2 451.3L857.2 452.6L856.3 453.9L855.4 455.2L854.4 456.5L853.5 457.7L852.6 458.9L851.8 460.1L851.0 461.1L849.7 462.7L848.5 464.2L847.3 465.7L846.2 467.0L845.1 468.3L844.2 469.4L843.4 470.4L842.4 472.5L842.4 473.6L843.6 473.7L843.8 473.1L844.9 471.3L845.6 470.4L846.4 469.3L847.5 468.1L848.6 466.8L849.8 465.3L851.1 463.8L852.3 462.2L853.2 461.1L854.0 460.0L854.9 458.7L855.8 457.5L856.7 456.2L857.7 454.9L858.6 453.6L859.5 452.4L860.5 451.1L861.4 450.0L862.3 448.9L863.4 447.6L864.5 446.4L865.7 445.3L866.8 444.2L867.9 443.1L869.0 442.0L870.1 441.0L871.2 440.0L872.3 438.9L873.6 437.7L874.9 436.5L876.2 435.4L877.5 434.3L878.7 433.1L879.8 431.9L880.8 430.6L881.7 429.1L882.5 427.7L883.1 426.2L883.6 424.6L884.1 423.1L884.6 421.7L885.0 420.3L885.6 418.7L886.0 417.2L886.5 415.6L886.9 414.0L887.3 412.2L887.7 410.2L887.9 408.9L888.1 407.5L888.3 406.1L888.5 404.6L888.7 403.0L888.9 401.4L889.1 399.8L889.3 398.2L889.5 396.7L889.7 395.1L890.0 393.6L890.2 392.1L890.5 390.6L890.7 389.1L891.0 387.6L891.3 386.1L891.6 384.6L891.9 383.1L892.2 381.6L892.5 380.1L892.9 378.6L893.3 377.1L893.6 375.6L894.0 374.1L894.5 372.7L894.9 371.2L895.3 369.8L895.8 368.3L896.3 366.8L896.8 365.3L897.2 363.7L897.7 362.1L898.2 360.5L898.7 359.0L899.1 357.6L899.6 356.0L900.1 354.5L900.6 352.9L901.1 351.3L901.6 349.7L902.0 348.1L902.5 346.5L902.9 344.9L903.4 343.3L903.7 341.8L904.1 340.3L904.4 338.7L904.7 337.0L905.0 335.4L905.2 333.9L905.4 332.4L905.5 330.9L905.7 329.4L905.8 327.9L905.9 326.5L906.1 325.0L906.3 323.5L906.4 321.9L906.6 320.3L906.8 318.6L906.9 316.9L907.1 315.2L907.2 313.5L907.4 311.9L907.5 310.4L907.6 309.0L907.7 307.8L907.8 306.8L907.9 305.4L908.1 303.6L908.3 302.6L908.5 301.4L908.7 300.1L908.9 298.6L909.1 297.1L909.4 295.4L909.7 293.7L909.9 292.0L910.2 290.3L910.5 288.5L910.8 286.8L911.0 285.1L911.3 283.5L911.5 282.0L911.8 280.4L912.0 278.9L912.3 277.3L912.5 275.8L912.8 274.2L913.0 272.7L913.3 271.1L913.5 269.6L913.8 268.1L914.1 266.5L914.3 265.1L914.6 263.6L914.9 262.0L915.3 260.4L915.6 258.8L916.0 257.2L916.4 255.6L916.7 254.1L917.1 252.5L917.5 251.0L917.8 249.5L918.2 248.0L918.5 246.6L918.8 245.3L919.1 243.5L919.4 241.9L919.7 240.3L919.9 238.8L920.1 237.3L920.4 235.9L920.6 234.6L920.9 233.3L921.3 232.0L921.7 230.4L922.2 228.9L922.7 227.5L923.3 226.1L923.8 224.8L924.5 223.6L925.2 222.4L926.1 221.3L926.9 220.2L927.9 219.2L928.9 218.2L930.0 217.3L931.2 216.3L932.5 215.3L933.6 214.4L934.8 213.6L936.0 212.7L937.3 211.8L938.6 211.0L939.9 210.2L941.3 209.4L942.6 208.7L944.0 208.0L945.3 207.4L946.8 206.8L948.2 206.3L949.7 205.8L951.2 205.3L952.7 204.9L954.2 204.5L955.6 204.2L956.9 203.9L958.6 203.7L960.4 203.5L962.1 203.4L963.7 203.4L965.3 203.4L966.5 203.4L967.5 203.4ZM966.1 202.0a1.40 1.40 0 1 0 2.80 0a1.40 1.40 0 1 0 -2.80 0ZM842.4 473.7a0.60 0.60 0 1 0 1.20 0a0.60 0.60 0 1 0 -1.20 0ZM842.9 474.3L843.9 474.5L845.4 475.0L847.3 475.2L849.4 474.9L850.7 474.4L852.0 473.6L853.4 472.7L854.8 471.7L856.2 470.7L857.5 469.8L858.8 469.0L860.4 467.8L862.1 466.6L863.6 465.5L864.8 464.6L865.7 463.9L864.9 462.8L864.0 463.4L862.7 464.4L861.2 465.4L859.6 466.6L857.9 467.7L856.7 468.6L855.3 469.5L854.0 470.5L852.6 471.4L851.2 472.3L850.0 472.9L849.0 473.4L847.2 473.7L845.6 473.6L844.2 473.3L843.1 473.1ZM842.4 473.7a0.60 0.60 0 1 0 1.20 0a0.60 0.60 0 1 0 -1.20 0ZM864.6 463.3a0.70 0.70 0 1 0 1.40 0a0.70 0.70 0 1 0 -1.40 0ZM1056.5 203.4L1057.5 203.4L1058.7 203.4L1060.3 203.4L1061.9 203.4L1063.6 203.5L1065.4 203.7L1067.1 203.9L1068.4 204.2L1069.8 204.5L1071.3 204.9L1072.8 205.3L1074.3 205.8L1075.8 206.3L1077.2 206.8L1078.7 207.4L1080.0 208.0L1081.4 208.7L1082.7 209.4L1084.1 210.2L1085.4 211.0L1086.7 211.8L1088.0 212.7L1089.2 213.6L1090.4 214.4L1091.5 215.3L1092.8 216.3L1094.0 217.3L1095.1 218.2L1096.1 219.2L1097.1 220.2L1097.9 221.3L1098.8 222.4L1099.5 223.6L1100.2 224.8L1100.7 226.1L1101.3 227.5L1101.8 228.9L1102.3 230.4L1102.7 232.0L1103.1 233.3L1103.4 234.6L1103.6 235.9L1103.9 237.3L1104.1 238.8L1104.3 240.3L1104.6 241.9L1104.9 243.5L1105.2 245.3L1105.5 246.6L1105.8 248.0L1106.2 249.5L1106.5 251.0L1106.9 252.5L1107.3 254.1L1107.6 255.6L1108.0 257.2L1108.4 258.8L1108.7 260.4L1109.1 262.0L1109.4 263.6L1109.7 265.1L1109.9 266.5L1110.2 268.1L1110.5 269.6L1110.7 271.1L1111.0 272.7L1111.2 274.2L1111.5 275.8L1111.7 277.3L1112.0 278.9L1112.2 280.4L1112.5 282.0L1112.7 283.5L1113.0 285.1L1113.2 286.8L1113.5 288.5L1113.8 290.3L1114.1 292.0L1114.3 293.7L1114.6 295.4L1114.9 297.1L1115.1 298.6L1115.3 300.1L1115.5 301.4L1115.7 302.6L1115.9 303.6L1116.1 305.4L1116.2 306.8L1116.3 307.8L1116.4 309.0L1116.5 310.4L1116.6 311.9L1116.8 313.5L1116.9 315.2L1117.1 316.9L1117.2 318.6L1117.4 320.3L1117.6 321.9L1117.7 323.5L1117.9 325.0L1118.1 326.5L1118.2 327.9L1118.3 329.4L1118.5 330.9L1118.6 332.4L1118.8 333.9L1119.0 335.4L1119.3 337.0L1119.6 338.7L1119.9 340.3L1120.3 341.8L1120.6 343.3L1121.1 344.9L1121.5 346.5L1122.0 348.1L1122.4 349.7L1122.9 351.3L1123.4 352.9L1123.9 354.5L1124.4 356.0L1124.9 357.6L1125.3 359.0L1125.8 360.5L1126.3 362.1L1126.8 363.7L1127.2 365.3L1127.7 366.8L1128.2 368.3L1128.7 369.8L1129.1 371.2L1129.5 372.7L1130.0 374.1L1130.4 375.6L1130.7 377.1L1131.1 378.6L1131.5 380.1L1131.8 381.6L1132.1 383.1L1132.4 384.6L1132.7 386.1L1133.0 387.6L1133.3 389.1L1133.5 390.6L1133.8 392.1L1134.0 393.6L1134.3 395.1L1134.5 396.7L1134.7 398.2L1134.9 399.8L1135.1 401.4L1135.3 403.0L1135.5 404.6L1135.7 406.1L1135.9 407.5L1136.1 408.9L1136.3 410.2L1136.7 412.2L1137.1 414.0L1137.5 415.6L1138.0 417.2L1138.4 418.7L1139.0 420.3L1139.4 421.7L1139.9 423.1L1140.4 424.6L1140.9 426.2L1141.5 427.7L1142.3 429.1L1143.2 430.6L1144.2 431.9L1145.3 433.1L1146.5 434.3L1147.8 435.4L1149.1 436.5L1150.4 437.7L1151.7 438.9L1152.8 440.0L1153.9 441.0L1155.0 442.0L1156.1 443.1L1157.2 444.2L1158.3 445.3L1159.5 446.4L1160.6 447.6L1161.7 448.9L1162.6 450.0L1163.5 451.1L1164.5 452.4L1165.4 453.6L1166.3 454.9L1167.3 456.2L1168.2 457.5L1169.1 458.7L1170.0 460.0L1170.8 461.1L1171.7 462.2L1172.9 463.8L1174.2 465.3L1175.4 466.8L1176.5 468.1L1177.6 469.3L1178.4 470.4L1179.1 471.3L1180.2 473.1L1180.4 473.7L1181.6 473.6L1181.6 472.5L1180.6 470.4L1179.8 469.4L1178.9 468.3L1177.8 467.0L1176.7 465.7L1175.5 464.2L1174.3 462.7L1173.0 461.1L1172.2 460.1L1171.4 458.9L1170.5 457.7L1169.6 456.5L1168.6 455.2L1167.7 453.9L1166.8 452.6L1165.8 451.3L1164.9 450.1L1163.9 448.9L1163.0 447.8L1161.8 446.5L1160.7 445.3L1159.5 444.1L1158.4 443.0L1157.2 441.9L1156.1 440.8L1155.0 439.8L1154.0 438.7L1152.9 437.7L1151.6 436.4L1150.3 435.2L1149.0 434.1L1147.8 432.9L1146.7 431.8L1145.7 430.7L1144.8 429.4L1144.1 428.2L1143.5 426.8L1143.0 425.4L1142.6 423.9L1142.2 422.5L1141.8 421.0L1141.5 419.5L1141.0 417.9L1140.6 416.4L1140.2 415.0L1139.9 413.4L1139.6 411.7L1139.2 409.7L1139.1 408.4L1138.9 407.1L1138.7 405.7L1138.6 404.2L1138.4 402.7L1138.3 401.1L1138.1 399.5L1137.9 397.8L1137.7 396.2L1137.5 394.6L1137.3 393.1L1137.0 391.5L1136.8 390.0L1136.5 388.5L1136.2 387.0L1135.9 385.5L1135.6 383.9L1135.3 382.4L1135.0 380.9L1134.7 379.3L1134.3 377.8L1133.9 376.3L1133.5 374.7L1133.1 373.2L1132.7 371.7L1132.2 370.3L1131.8 368.8L1131.3 367.3L1130.8 365.8L1130.4 364.3L1129.9 362.8L1129.4 361.2L1128.9 359.5L1128.5 358.1L1128.0 356.6L1127.5 355.1L1127.0 353.5L1126.5 351.9L1126.0 350.3L1125.5 348.7L1125.1 347.1L1124.6 345.6L1124.2 344.0L1123.8 342.5L1123.4 341.1L1123.1 339.7L1122.7 338.1L1122.5 336.5L1122.2 335.0L1122.0 333.5L1121.8 332.0L1121.7 330.6L1121.5 329.1L1121.4 327.6L1121.2 326.2L1121.1 324.7L1120.9 323.2L1120.7 321.6L1120.6 320.0L1120.4 318.3L1120.2 316.6L1120.0 314.9L1119.9 313.2L1119.7 311.6L1119.5 310.1L1119.4 308.7L1119.3 307.5L1119.2 306.5L1119.0 305.0L1118.6 303.1L1118.5 302.1L1118.3 301.0L1118.0 299.6L1117.8 298.2L1117.5 296.6L1117.3 295.0L1117.0 293.3L1116.7 291.6L1116.4 289.8L1116.1 288.1L1115.8 286.4L1115.6 284.7L1115.3 283.1L1115.0 281.6L1114.8 280.0L1114.5 278.5L1114.3 276.9L1114.0 275.4L1113.8 273.8L1113.5 272.2L1113.3 270.7L1113.0 269.1L1112.8 267.6L1112.5 266.1L1112.2 264.6L1111.9 263.1L1111.6 261.5L1111.3 259.8L1110.9 258.2L1110.5 256.6L1110.2 255.0L1109.8 253.4L1109.4 251.9L1109.1 250.4L1108.7 248.9L1108.4 247.5L1108.1 246.1L1107.8 244.7L1107.4 243.0L1107.1 241.4L1106.9 239.9L1106.7 238.3L1106.4 236.9L1106.2 235.4L1105.9 234.0L1105.6 232.7L1105.3 231.3L1104.8 229.7L1104.3 228.1L1103.7 226.6L1103.1 225.1L1102.5 223.7L1101.7 222.3L1100.9 220.9L1100.0 219.7L1099.1 218.5L1098.0 217.3L1096.9 216.3L1095.8 215.2L1094.5 214.1L1093.2 213.1L1092.1 212.2L1090.9 211.3L1089.6 210.4L1088.3 209.5L1087.0 208.5L1085.6 207.7L1084.2 206.8L1082.7 206.0L1081.3 205.3L1079.8 204.7L1078.3 204.1L1076.7 203.5L1075.2 203.0L1073.6 202.5L1072.0 202.1L1070.5 201.7L1069.0 201.4L1067.6 201.1L1065.7 200.8L1063.8 200.6L1062.0 200.6L1060.3 200.6L1058.7 200.6L1057.5 200.6L1056.5 200.6ZM1055.1 202.0a1.40 1.40 0 1 0 2.80 0a1.40 1.40 0 1 0 -2.80 0ZM1180.4 473.7a0.60 0.60 0 1 0 1.20 0a0.60 0.60 0 1 0 -1.20 0ZM1180.9 473.1L1179.8 473.3L1178.4 473.6L1176.8 473.7L1175.0 473.4L1174.0 472.9L1172.8 472.3L1171.4 471.4L1170.0 470.5L1168.7 469.5L1167.3 468.6L1166.1 467.7L1164.4 466.6L1162.8 465.4L1161.3 464.4L1160.0 463.4L1159.1 462.8L1158.3 463.9L1159.2 464.6L1160.4 465.5L1161.9 466.6L1163.6 467.8L1165.2 469.0L1166.5 469.8L1167.8 470.7L1169.2 471.7L1170.6 472.7L1172.0 473.6L1173.3 474.4L1174.6 474.9L1176.7 475.2L1178.6 475.0L1180.1 474.5L1181.1 474.3ZM1180.4 473.7a0.60 0.60 0 1 0 1.20 0a0.60 0.60 0 1 0 -1.20 0ZM1158.0 463.3a0.70 0.70 0 1 0 1.40 0a0.70 0.70 0 1 0 -1.40 0Z" fill="#000"/>
<path d="M865.8 465.0C865.8 467.5 865.3 474.7 865.8 480.0C866.4 485.3 867.8 491.7 869.2 496.7C870.6 501.7 872.8 507.1 874.2 510.0C875.6 512.9 876.6 514.2 877.5 514.2C878.4 514.2 879.5 512.9 879.7 510.0C879.8 507.1 878.8 501.4 878.3 496.7C877.8 491.9 876.9 484.2 876.7 481.7" stroke="#000" stroke-width="1.5" fill="none" stroke-linecap="round" stroke-linejoin="round"/>
<path d="M1158.2 465.0C1158.2 467.5 1158.7 474.7 1158.2 480.0C1157.6 485.3 1156.2 491.7 1154.8 496.7C1153.4 501.7 1151.2 507.1 1149.8 510.0C1148.4 512.9 1147.4 514.2 1146.5 514.2C1145.6 514.2 1144.5 512.9 1144.3 510.0C1144.2 507.1 1145.2 501.4 1145.7 496.7C1146.2 491.9 1147.1 484.2 1147.3 481.7" stroke="#000" stroke-width="1.5" fill="none" stroke-linecap="round" stroke-linejoin="round"/>
<path d="M877.5 481.7C878.1 484.2 879.3 491.9 880.8 496.7C882.4 501.4 885.0 506.8 886.7 510.0C888.3 513.2 889.7 515.6 890.8 515.8C891.9 516.1 893.3 514.9 893.3 511.7C893.3 508.5 891.9 501.9 890.8 496.7C889.7 491.4 887.4 482.8 886.7 480.0" stroke="#000" stroke-width="1.5" fill="none" stroke-linecap="round" stroke-linejoin="round"/>
<path d="M1146.5 481.7C1145.9 484.2 1144.7 491.9 1143.2 496.7C1141.6 501.4 1139.0 506.8 1137.3 510.0C1135.7 513.2 1134.3 515.6 1133.2 515.8C1132.1 516.1 1130.7 514.9 1130.7 511.7C1130.7 508.5 1132.1 501.9 1133.2 496.7C1134.3 491.4 1136.6 482.8 1137.3 480.0" stroke="#000" stroke-width="1.5" fill="none" stroke-linecap="round" stroke-linejoin="round"/>
<path d="M886.7 480.0C887.5 482.2 889.9 489.4 891.7 493.3C893.5 497.2 896.0 501.1 897.5 503.3C899.0 505.6 900.0 506.7 900.8 506.7C901.7 506.7 902.8 505.8 902.5 503.3C902.2 500.8 900.6 495.3 899.2 491.7C897.8 488.1 895.0 483.3 894.2 481.7" stroke="#000" stroke-width="1.5" fill="none" stroke-linecap="round" stroke-linejoin="round"/>
<path d="M1137.3 480.0C1136.5 482.2 1134.1 489.4 1132.3 493.3C1130.5 497.2 1128.0 501.1 1126.5 503.3C1125.0 505.6 1124.0 506.7 1123.2 506.7C1122.3 506.7 1121.2 505.8 1121.5 503.3C1121.8 500.8 1123.4 495.3 1124.8 491.7C1126.2 488.1 1129.0 483.3 1129.8 481.7" stroke="#000" stroke-width="1.5" fill="none" stroke-linecap="round" stroke-linejoin="round"/>
<path d="M894.2 481.7C894.9 482.8 896.7 486.1 898.3 488.3C900.0 490.6 902.6 493.3 904.2 495.0C905.8 496.7 907.1 498.3 908.0 498.3C908.9 498.3 910.0 497.2 909.7 495.0C909.3 492.8 907.3 488.6 905.8 485.0C904.4 481.4 901.8 477.5 900.8 473.3C899.9 469.2 899.9 464.4 900.0 460.0C900.1 455.6 901.4 449.7 901.7 446.7C901.9 443.6 901.7 442.5 901.7 441.7" stroke="#000" stroke-width="1.5" fill="none" stroke-linecap="round" stroke-linejoin="round"/>
<path d="M1129.8 481.7C1129.1 482.8 1127.3 486.1 1125.7 488.3C1124.0 490.6 1121.4 493.3 1119.8 495.0C1118.2 496.7 1116.9 498.3 1116.0 498.3C1115.1 498.3 1114.0 497.2 1114.3 495.0C1114.7 492.8 1116.7 488.6 1118.2 485.0C1119.6 481.4 1122.2 477.5 1123.2 473.3C1124.1 469.2 1124.1 464.4 1124.0 460.0C1123.9 455.6 1122.6 449.7 1122.3 446.7C1122.1 443.6 1122.3 442.5 1122.3 441.7" stroke="#000" stroke-width="1.5" fill="none" stroke-linecap="round" stroke-linejoin="round"/>
<path d="M945.7 293.2L945.5 294.2L945.3 295.5L945.1 297.1L944.8 298.8L944.5 300.7L944.2 302.6L943.9 304.5L943.5 306.4L943.2 307.8L943.0 309.2L942.7 310.7L942.4 312.2L942.0 313.7L941.7 315.2L941.4 316.8L941.0 318.3L940.6 319.8L940.2 321.3L939.7 322.8L939.3 324.2L938.8 325.7L938.3 327.2L937.7 328.7L937.1 330.2L936.5 331.7L935.8 333.2L935.3 334.8L934.7 336.3L934.2 337.9L933.8 339.5L933.5 341.2L933.3 342.8L933.1 344.4L932.9 345.9L932.8 347.5L932.8 349.0L932.7 350.5L932.6 352.0L932.5 353.4L932.3 354.9L932.1 356.3L931.8 357.8L931.5 359.3L931.2 360.8L930.9 362.3L930.5 363.7L930.2 365.2L929.8 366.7L929.4 368.2L928.9 369.7L928.4 371.1L927.9 372.6L927.4 373.9L926.9 375.3L926.3 376.6L925.7 378.0L925.1 379.3L924.4 380.7L923.8 382.1L923.1 383.5L922.4 384.9L921.7 386.3L921.1 387.7L920.4 389.1L919.8 390.5L919.2 391.9L918.6 393.3L918.0 394.8L917.4 396.2L916.8 397.6L916.3 399.0L915.7 400.4L915.1 401.8L914.5 403.2L914.0 404.6L913.4 406.0L912.8 407.5L912.2 409.0L911.6 410.5L911.1 412.1L910.5 413.6L910.0 415.0L909.4 416.5L908.9 417.9L908.4 419.3L907.9 420.6L907.4 421.8L906.8 423.7L906.3 425.4L905.8 427.0L905.3 428.5L904.8 430.0L904.4 431.5L904.0 433.0L903.5 434.6L902.9 436.2L902.4 437.9L902.0 439.5L901.5 441.0L901.2 442.2L901.0 443.1L902.4 443.6L902.7 442.7L903.2 441.5L903.7 440.1L904.2 438.5L904.8 436.9L905.4 435.2L906.0 433.7L906.7 432.3L907.3 430.9L907.9 429.5L908.6 428.1L909.3 426.5L910.0 424.9L910.8 423.1L911.3 421.9L911.8 420.6L912.4 419.2L912.9 417.9L913.5 416.4L914.1 415.0L914.7 413.5L915.3 412.0L915.9 410.5L916.5 409.0L917.2 407.6L917.7 406.2L918.3 404.8L918.9 403.5L919.5 402.1L920.1 400.7L920.8 399.3L921.4 397.9L922.0 396.5L922.7 395.1L923.3 393.7L923.9 392.3L924.6 390.9L925.2 389.5L925.8 388.2L926.4 386.8L927.1 385.4L927.8 384.0L928.4 382.6L929.1 381.2L929.7 379.8L930.4 378.4L931.0 376.9L931.5 375.5L932.1 374.1L932.6 372.5L933.1 370.9L933.5 369.4L934.0 367.8L934.4 366.3L934.7 364.7L935.1 363.2L935.4 361.6L935.7 360.1L936.0 358.6L936.3 357.0L936.5 355.4L936.7 353.8L936.8 352.3L936.9 350.7L937.0 349.2L937.0 347.7L937.1 346.2L937.2 344.7L937.4 343.3L937.6 341.9L937.8 340.5L938.2 339.0L938.6 337.6L939.1 336.1L939.7 334.7L940.2 333.2L940.8 331.7L941.4 330.1L942.0 328.6L942.6 327.0L943.1 325.5L943.6 323.9L944.0 322.3L944.3 320.7L944.6 319.1L944.9 317.5L945.2 315.9L945.4 314.3L945.7 312.8L945.9 311.2L946.1 309.8L946.3 308.3L946.5 306.9L946.7 305.0L946.9 303.0L947.1 301.0L947.3 299.1L947.4 297.3L947.5 295.8L947.6 294.5L947.7 293.4ZM945.7 293.3a1.00 1.00 0 1 0 2.00 0a1.00 1.00 0 1 0 -2.00 0ZM900.9 443.3a0.75 0.75 0 1 0 1.50 0a0.75 0.75 0 1 0 -1.50 0ZM1076.3 293.4L1076.4 294.5L1076.5 295.8L1076.6 297.3L1076.7 299.1L1076.9 301.0L1077.1 303.0L1077.3 305.0L1077.5 306.9L1077.7 308.3L1077.9 309.8L1078.1 311.2L1078.3 312.8L1078.6 314.3L1078.8 315.9L1079.1 317.5L1079.4 319.1L1079.7 320.7L1080.0 322.3L1080.4 323.9L1080.9 325.5L1081.4 327.0L1082.0 328.6L1082.6 330.1L1083.2 331.7L1083.8 333.2L1084.3 334.7L1084.9 336.1L1085.4 337.6L1085.8 339.0L1086.2 340.5L1086.4 341.9L1086.6 343.3L1086.8 344.7L1086.9 346.2L1087.0 347.7L1087.0 349.2L1087.1 350.7L1087.2 352.3L1087.3 353.8L1087.5 355.4L1087.7 357.0L1088.0 358.6L1088.3 360.1L1088.6 361.6L1088.9 363.2L1089.3 364.7L1089.6 366.3L1090.0 367.8L1090.5 369.4L1090.9 370.9L1091.4 372.5L1091.9 374.1L1092.5 375.5L1093.0 376.9L1093.6 378.4L1094.3 379.8L1094.9 381.2L1095.6 382.6L1096.2 384.0L1096.9 385.4L1097.6 386.8L1098.2 388.2L1098.8 389.5L1099.4 390.9L1100.1 392.3L1100.7 393.7L1101.3 395.1L1102.0 396.5L1102.6 397.9L1103.2 399.3L1103.9 400.7L1104.5 402.1L1105.1 403.5L1105.7 404.8L1106.3 406.2L1106.8 407.6L1107.5 409.0L1108.1 410.5L1108.7 412.0L1109.3 413.5L1109.9 415.0L1110.5 416.4L1111.1 417.9L1111.6 419.2L1112.2 420.6L1112.7 421.9L1113.2 423.1L1114.0 424.9L1114.7 426.5L1115.4 428.1L1116.1 429.5L1116.7 430.9L1117.3 432.3L1118.0 433.7L1118.6 435.2L1119.2 436.9L1119.8 438.5L1120.3 440.1L1120.8 441.5L1121.3 442.7L1121.6 443.6L1123.0 443.1L1122.8 442.2L1122.5 441.0L1122.0 439.5L1121.6 437.9L1121.1 436.2L1120.5 434.6L1120.0 433.0L1119.6 431.5L1119.2 430.0L1118.7 428.5L1118.2 427.0L1117.7 425.4L1117.2 423.7L1116.6 421.8L1116.1 420.6L1115.6 419.3L1115.1 417.9L1114.6 416.5L1114.0 415.0L1113.5 413.6L1112.9 412.1L1112.4 410.5L1111.8 409.0L1111.2 407.5L1110.6 406.0L1110.0 404.6L1109.5 403.2L1108.9 401.8L1108.3 400.4L1107.7 399.0L1107.2 397.6L1106.6 396.2L1106.0 394.8L1105.4 393.3L1104.8 391.9L1104.2 390.5L1103.6 389.1L1102.9 387.7L1102.3 386.3L1101.6 384.9L1100.9 383.5L1100.2 382.1L1099.6 380.7L1098.9 379.3L1098.3 378.0L1097.7 376.6L1097.1 375.3L1096.6 373.9L1096.1 372.6L1095.6 371.1L1095.1 369.7L1094.6 368.2L1094.2 366.7L1093.8 365.2L1093.5 363.7L1093.1 362.3L1092.8 360.8L1092.5 359.3L1092.2 357.8L1091.9 356.3L1091.7 354.9L1091.5 353.4L1091.4 352.0L1091.3 350.5L1091.2 349.0L1091.2 347.5L1091.1 345.9L1090.9 344.4L1090.7 342.8L1090.5 341.2L1090.2 339.5L1089.8 337.9L1089.3 336.3L1088.7 334.8L1088.2 333.2L1087.5 331.7L1086.9 330.2L1086.3 328.7L1085.7 327.2L1085.2 325.7L1084.7 324.2L1084.3 322.8L1083.8 321.3L1083.4 319.8L1083.0 318.3L1082.6 316.8L1082.3 315.2L1082.0 313.7L1081.6 312.2L1081.3 310.7L1081.0 309.2L1080.8 307.8L1080.5 306.4L1080.1 304.5L1079.8 302.6L1079.5 300.7L1079.2 298.8L1078.9 297.1L1078.7 295.5L1078.5 294.2L1078.3 293.2ZM1076.3 293.3a1.00 1.00 0 1 0 2.00 0a1.00 1.00 0 1 0 -2.00 0ZM1121.6 443.3a0.75 0.75 0 1 0 1.50 0a0.75 0.75 0 1 0 -1.50 0Z" fill="#000"/>
<path d="M940.1 251.8L940.3 252.9L940.5 254.2L940.8 255.9L941.2 257.7L941.5 259.6L941.9 261.6L942.3 263.6L942.5 264.9L942.8 266.3L943.1 267.8L943.4 269.3L943.7 270.8L944.0 272.3L944.3 273.9L944.6 275.5L945.0 277.1L945.3 278.7L945.6 280.1L946.0 281.7L946.4 283.2L946.8 284.8L947.1 286.4L947.5 288.0L947.9 289.6L948.3 291.1L948.6 292.6L949.0 294.0L949.3 295.4L949.8 297.2L950.2 298.9L950.6 300.4L950.9 301.9L951.3 303.4L951.8 305.1L952.4 307.0L952.8 308.3L953.2 309.7L953.7 311.2L954.2 312.7L954.8 314.3L955.3 315.9L955.8 317.5L956.4 319.1L956.8 320.7L957.3 322.2L957.7 323.7L958.1 325.2L958.5 326.8L958.9 328.3L959.2 329.9L959.6 331.5L959.9 333.0L960.2 334.6L960.4 336.1L960.7 337.5L960.9 338.9L961.1 340.2L961.4 342.1L961.5 343.9L961.7 345.5L961.7 347.1L961.7 348.6L961.7 350.1L961.7 351.6L961.7 353.4L961.6 355.0L961.5 356.5L961.4 358.1L961.0 359.6L960.5 361.3L960.0 362.5L959.3 363.8L958.5 365.2L957.6 366.6L956.6 368.1L955.7 369.6L954.7 371.1L953.8 372.7L953.0 374.1L952.3 375.5L951.5 376.9L950.7 378.4L950.0 379.9L949.2 381.4L948.4 382.9L947.7 384.5L947.0 386.1L946.3 387.5L945.7 389.0L945.1 390.6L944.5 392.1L943.9 393.7L943.3 395.3L942.7 396.8L942.2 398.3L941.6 399.7L941.1 401.1L940.4 402.9L939.8 404.7L939.1 406.4L938.5 408.1L937.9 409.7L937.4 411.2L936.9 412.4L936.5 413.4L936.1 414.4L935.7 415.7L935.4 416.6L935.0 417.8L934.6 419.2L934.1 420.7L933.6 422.3L933.1 424.1L932.6 425.9L932.2 427.8L931.9 429.7L931.6 431.1L931.5 432.5L931.3 433.9L931.1 435.4L931.0 436.9L930.8 438.4L930.7 440.0L930.6 441.6L930.5 443.2L930.4 444.8L930.3 446.5L930.2 448.2L930.2 450.0L930.1 451.4L930.1 452.9L930.1 454.4L930.1 455.9L930.1 457.4L930.1 459.0L930.1 460.6L930.1 462.2L930.1 463.8L930.2 465.4L930.2 467.1L930.2 468.7L930.3 470.3L930.4 471.9L930.4 473.5L930.5 475.1L930.6 476.6L930.7 478.2L930.8 479.8L930.9 481.4L931.0 482.9L931.1 484.5L931.3 486.1L931.4 487.6L931.5 489.2L931.7 490.8L931.8 492.3L932.0 493.9L932.2 495.5L932.3 497.0L932.5 498.6L932.7 500.2L932.9 501.7L933.1 503.3L933.3 504.9L933.5 506.5L933.7 508.1L933.9 509.7L934.2 511.3L934.4 512.9L934.6 514.5L934.9 516.1L935.1 517.6L935.3 519.2L935.6 520.7L935.8 522.2L936.0 523.7L936.3 525.2L936.5 526.8L936.8 528.5L937.0 530.0L937.3 531.6L937.5 533.2L937.7 534.7L938.0 536.2L938.2 537.7L938.5 539.2L938.8 540.7L939.0 542.3L939.3 543.8L939.5 545.3L939.8 546.8L940.1 548.4L940.4 550.0L940.7 551.5L941.0 553.1L941.3 554.7L941.6 556.2L942.0 557.8L942.3 559.4L942.6 560.9L942.9 562.5L943.2 564.0L943.6 565.5L943.9 567.0L944.2 568.5L944.6 570.1L944.9 571.8L945.3 573.5L945.7 575.2L946.1 576.9L946.4 578.6L946.8 580.2L947.2 581.8L947.5 583.3L947.8 584.6L948.1 585.8L948.3 586.8L948.5 587.6L949.8 587.4L949.6 586.5L949.4 585.5L949.2 584.3L948.9 582.9L948.5 581.5L948.2 579.9L947.9 578.3L947.5 576.6L947.1 574.9L946.8 573.2L946.4 571.5L946.1 569.8L945.8 568.2L945.5 566.7L945.3 565.2L945.0 563.7L944.7 562.1L944.5 560.6L944.2 559.0L944.0 557.5L943.7 555.9L943.5 554.3L943.2 552.7L943.0 551.1L942.7 549.5L942.5 548.0L942.3 546.4L942.0 544.9L941.8 543.4L941.5 541.8L941.3 540.3L941.1 538.8L940.8 537.3L940.6 535.8L940.4 534.3L940.1 532.8L939.9 531.2L939.7 529.6L939.4 528.0L939.2 526.4L939.0 524.8L938.8 523.3L938.6 521.8L938.3 520.3L938.1 518.8L937.9 517.2L937.7 515.7L937.5 514.1L937.2 512.5L937.0 510.9L936.8 509.3L936.6 507.7L936.4 506.1L936.2 504.5L936.0 503.0L935.8 501.4L935.7 499.8L935.5 498.3L935.3 496.7L935.1 495.2L935.0 493.6L934.8 492.0L934.7 490.5L934.5 488.9L934.4 487.4L934.2 485.8L934.1 484.3L934.0 482.7L933.9 481.1L933.8 479.6L933.7 478.0L933.6 476.5L933.5 474.9L933.4 473.4L933.4 471.8L933.3 470.2L933.2 468.6L933.2 467.0L933.2 465.4L933.1 463.8L933.1 462.2L933.1 460.6L933.1 459.0L933.1 457.4L933.1 455.9L933.1 454.4L933.1 452.9L933.1 451.5L933.2 450.0L933.2 448.3L933.3 446.7L933.4 445.0L933.5 443.4L933.6 441.8L933.7 440.2L933.8 438.7L933.9 437.2L934.1 435.7L934.2 434.3L934.4 432.9L934.6 431.5L934.8 430.3L935.2 428.4L935.6 426.6L936.0 424.9L936.5 423.2L937.0 421.6L937.5 420.1L937.9 418.7L938.3 417.5L938.6 416.5L938.9 415.5L939.3 414.6L939.7 413.5L940.2 412.2L940.7 410.7L941.3 409.2L941.9 407.5L942.6 405.7L943.2 403.9L943.9 402.2L944.4 400.8L945.0 399.3L945.5 397.8L946.1 396.3L946.7 394.8L947.3 393.2L947.9 391.7L948.5 390.2L949.1 388.7L949.7 387.3L950.4 385.7L951.1 384.2L951.8 382.7L952.5 381.2L953.3 379.7L954.0 378.2L954.7 376.8L955.5 375.4L956.2 374.0L957.0 372.5L957.9 370.9L958.8 369.5L959.7 368.0L960.6 366.5L961.5 365.0L962.2 363.6L962.8 362.1L963.4 360.2L963.8 358.5L964.0 356.8L964.2 355.1L964.2 353.5L964.3 351.7L964.4 350.2L964.4 348.6L964.4 347.0L964.4 345.4L964.3 343.6L964.1 341.8L963.9 339.8L963.7 338.5L963.5 337.1L963.3 335.6L963.0 334.1L962.7 332.5L962.4 330.9L962.1 329.3L961.7 327.7L961.4 326.1L961.0 324.5L960.6 323.0L960.2 321.4L959.7 319.8L959.2 318.2L958.7 316.5L958.1 314.9L957.6 313.3L957.0 311.8L956.5 310.3L956.0 308.8L955.6 307.4L955.2 306.1L954.6 304.3L954.2 302.6L953.8 301.1L953.4 299.7L953.0 298.2L952.6 296.6L952.1 294.7L951.8 293.4L951.4 291.9L951.0 290.5L950.7 288.9L950.3 287.4L949.9 285.8L949.5 284.2L949.1 282.6L948.7 281.0L948.4 279.5L948.0 278.0L947.6 276.4L947.2 274.9L946.9 273.3L946.5 271.8L946.1 270.3L945.7 268.8L945.4 267.3L945.0 265.9L944.7 264.5L944.4 263.1L943.9 261.2L943.4 259.2L943.0 257.3L942.6 255.5L942.2 253.9L941.8 252.5L941.6 251.5ZM940.1 251.7a0.75 0.75 0 1 0 1.50 0a0.75 0.75 0 1 0 -1.50 0ZM948.5 587.5a0.65 0.65 0 1 0 1.30 0a0.65 0.65 0 1 0 -1.30 0ZM948.5 587.4L948.3 588.3L948.1 589.4L947.8 590.8L947.5 592.3L947.1 593.9L946.8 595.7L946.4 597.6L946.1 599.6L945.8 601.5L945.6 602.9L945.4 604.3L945.2 605.7L945.0 607.2L944.8 608.8L944.6 610.4L944.4 612.0L944.2 613.7L944.0 615.3L943.8 616.9L943.6 618.5L943.4 620.1L943.2 621.7L943.0 623.2L942.8 624.8L942.6 626.4L942.3 628.0L942.1 629.5L941.9 631.1L941.6 632.7L941.4 634.2L941.1 635.8L940.9 637.3L940.7 638.8L940.5 640.3L940.4 641.8L940.3 643.2L940.2 644.9L940.1 646.5L940.1 648.1L940.1 649.6L940.1 651.1L940.1 652.6L940.1 654.1L940.2 655.6L940.3 657.1L940.3 658.5L940.4 660.0L940.5 661.6L940.5 663.0L940.6 664.5L940.7 666.0L940.8 667.5L940.9 669.0L941.1 670.5L941.2 672.0L941.4 673.6L941.5 675.2L941.7 676.8L941.9 678.2L942.0 679.7L942.2 681.2L942.4 682.7L942.6 684.2L942.8 685.8L943.0 687.3L943.2 688.9L943.4 690.5L943.7 692.1L943.9 693.7L944.1 695.3L944.3 696.9L944.6 698.4L944.8 699.9L945.0 701.5L945.3 703.0L945.5 704.6L945.8 706.2L946.0 707.7L946.3 709.3L946.5 710.9L946.7 712.4L947.0 714.0L947.2 715.5L947.5 717.1L947.7 718.6L947.9 720.2L948.2 721.8L948.4 723.4L948.6 725.0L948.9 726.6L949.1 728.2L949.3 729.7L949.6 731.3L949.8 732.8L950.0 734.3L950.2 735.7L950.3 737.1L950.5 738.5L950.7 740.3L950.9 742.1L951.0 743.9L951.2 745.6L951.3 747.3L951.4 748.9L951.5 750.4L951.6 751.8L951.7 753.0L951.7 754.0L951.9 755.1L951.9 756.0L951.8 757.1L951.8 758.4L951.7 759.8L951.7 761.5L951.6 763.2L951.5 764.9L951.4 766.6L951.3 768.3L951.2 769.9L951.1 771.6L950.9 773.4L950.8 775.1L950.6 776.9L950.4 778.6L950.2 780.2L950.0 781.7L949.8 783.1L949.3 785.2L948.8 787.1L948.3 788.9L947.8 790.3L947.5 791.4L949.2 792.0L949.6 790.9L950.1 789.5L950.7 787.7L951.4 785.7L951.9 783.6L952.2 782.1L952.5 780.5L952.7 778.9L953.0 777.2L953.2 775.4L953.4 773.6L953.6 771.8L953.8 770.1L953.9 768.5L954.1 766.8L954.2 765.1L954.3 763.3L954.4 761.6L954.5 760.0L954.5 758.5L954.6 757.2L954.7 756.2L954.8 755.1L954.7 753.7L954.7 752.8L954.6 751.6L954.5 750.2L954.4 748.7L954.3 747.1L954.2 745.4L954.0 743.6L953.9 741.8L953.7 740.0L953.5 738.2L953.3 736.8L953.1 735.3L953.0 733.9L952.7 732.4L952.5 730.8L952.3 729.3L952.1 727.7L951.8 726.1L951.6 724.5L951.4 722.9L951.1 721.3L950.9 719.7L950.7 718.1L950.4 716.6L950.2 715.1L950.0 713.5L949.7 712.0L949.5 710.4L949.2 708.8L949.0 707.3L948.7 705.7L948.5 704.1L948.2 702.6L948.0 701.0L947.8 699.5L947.5 697.9L947.3 696.5L947.1 694.9L946.9 693.3L946.6 691.7L946.4 690.1L946.2 688.5L946.0 686.9L945.8 685.4L945.6 683.8L945.4 682.3L945.2 680.8L945.0 679.3L944.8 677.9L944.7 676.5L944.5 674.8L944.3 673.3L944.2 671.7L944.0 670.2L943.9 668.7L943.8 667.2L943.6 665.8L943.5 664.3L943.4 662.9L943.4 661.4L943.3 659.9L943.2 658.4L943.1 656.9L943.1 655.5L943.0 654.0L943.0 652.6L942.9 651.1L942.9 649.6L942.9 648.1L942.9 646.6L943.0 645.0L943.1 643.4L943.1 642.0L943.3 640.6L943.4 639.1L943.6 637.6L943.7 636.1L943.9 634.6L944.1 633.0L944.3 631.5L944.5 629.9L944.7 628.3L944.9 626.7L945.1 625.1L945.3 623.5L945.5 621.9L945.6 620.4L945.8 618.8L946.0 617.2L946.1 615.5L946.3 613.9L946.4 612.2L946.6 610.6L946.8 609.0L946.9 607.5L947.1 606.0L947.2 604.5L947.4 603.1L947.6 601.8L947.8 599.8L948.1 597.9L948.4 596.0L948.7 594.2L949.0 592.6L949.2 591.0L949.5 589.7L949.7 588.5L949.8 587.6ZM948.5 587.5a0.65 0.65 0 1 0 1.30 0a0.65 0.65 0 1 0 -1.30 0ZM947.4 791.7a0.90 0.90 0 1 0 1.80 0a0.90 0.90 0 1 0 -1.80 0ZM1082.4 251.5L1082.2 252.5L1081.8 253.9L1081.4 255.5L1081.0 257.3L1080.6 259.2L1080.1 261.2L1079.6 263.1L1079.3 264.5L1079.0 265.9L1078.6 267.3L1078.3 268.8L1077.9 270.3L1077.5 271.8L1077.1 273.3L1076.8 274.9L1076.4 276.4L1076.0 278.0L1075.6 279.5L1075.3 281.0L1074.9 282.6L1074.5 284.2L1074.1 285.8L1073.7 287.4L1073.3 288.9L1073.0 290.5L1072.6 291.9L1072.2 293.4L1071.9 294.7L1071.4 296.6L1071.0 298.2L1070.6 299.7L1070.2 301.1L1069.8 302.6L1069.4 304.3L1068.8 306.1L1068.4 307.4L1068.0 308.8L1067.5 310.3L1067.0 311.8L1066.4 313.3L1065.9 314.9L1065.3 316.5L1064.8 318.2L1064.3 319.8L1063.8 321.4L1063.4 323.0L1063.0 324.5L1062.6 326.1L1062.3 327.7L1061.9 329.3L1061.6 330.9L1061.3 332.5L1061.0 334.1L1060.7 335.6L1060.5 337.1L1060.3 338.5L1060.1 339.8L1059.9 341.8L1059.7 343.6L1059.6 345.4L1059.6 347.0L1059.6 348.6L1059.6 350.2L1059.7 351.7L1059.8 353.5L1059.8 355.1L1060.0 356.8L1060.2 358.5L1060.6 360.2L1061.2 362.1L1061.8 363.6L1062.5 365.0L1063.4 366.5L1064.3 368.0L1065.2 369.5L1066.1 370.9L1067.0 372.5L1067.8 374.0L1068.5 375.4L1069.3 376.8L1070.0 378.2L1070.7 379.7L1071.5 381.2L1072.2 382.7L1072.9 384.2L1073.6 385.7L1074.3 387.3L1074.9 388.7L1075.5 390.2L1076.1 391.7L1076.7 393.2L1077.3 394.8L1077.9 396.3L1078.5 397.8L1079.0 399.3L1079.6 400.8L1080.1 402.2L1080.8 403.9L1081.4 405.7L1082.1 407.5L1082.7 409.2L1083.3 410.7L1083.8 412.2L1084.3 413.5L1084.7 414.6L1085.1 415.5L1085.4 416.5L1085.7 417.5L1086.1 418.7L1086.5 420.1L1087.0 421.6L1087.5 423.2L1088.0 424.9L1088.4 426.6L1088.8 428.4L1089.2 430.3L1089.4 431.5L1089.6 432.9L1089.8 434.3L1089.9 435.7L1090.1 437.2L1090.2 438.7L1090.3 440.2L1090.4 441.8L1090.5 443.4L1090.6 445.0L1090.7 446.7L1090.8 448.3L1090.8 450.0L1090.9 451.5L1090.9 452.9L1090.9 454.4L1090.9 455.9L1090.9 457.4L1090.9 459.0L1090.9 460.6L1090.9 462.2L1090.9 463.8L1090.8 465.4L1090.8 467.0L1090.8 468.6L1090.7 470.2L1090.6 471.8L1090.6 473.4L1090.5 474.9L1090.4 476.5L1090.3 478.0L1090.2 479.6L1090.1 481.1L1090.0 482.7L1089.9 484.3L1089.8 485.8L1089.6 487.4L1089.5 488.9L1089.3 490.5L1089.2 492.0L1089.0 493.6L1088.9 495.2L1088.7 496.7L1088.5 498.3L1088.3 499.8L1088.2 501.4L1088.0 503.0L1087.8 504.5L1087.6 506.1L1087.4 507.7L1087.2 509.3L1087.0 510.9L1086.8 512.5L1086.5 514.1L1086.3 515.7L1086.1 517.2L1085.9 518.8L1085.7 520.3L1085.4 521.8L1085.2 523.3L1085.0 524.8L1084.8 526.4L1084.6 528.0L1084.3 529.6L1084.1 531.2L1083.9 532.8L1083.6 534.3L1083.4 535.8L1083.2 537.3L1082.9 538.8L1082.7 540.3L1082.5 541.8L1082.2 543.4L1082.0 544.9L1081.7 546.4L1081.5 548.0L1081.3 549.5L1081.0 551.1L1080.8 552.7L1080.5 554.3L1080.3 555.9L1080.0 557.5L1079.8 559.0L1079.5 560.6L1079.3 562.1L1079.0 563.7L1078.7 565.2L1078.5 566.7L1078.2 568.2L1077.9 569.8L1077.6 571.5L1077.2 573.2L1076.9 574.9L1076.5 576.6L1076.1 578.3L1075.8 579.9L1075.5 581.5L1075.1 582.9L1074.8 584.3L1074.6 585.5L1074.4 586.5L1074.2 587.4L1075.5 587.6L1075.7 586.8L1075.9 585.8L1076.2 584.6L1076.5 583.3L1076.8 581.8L1077.2 580.2L1077.6 578.6L1077.9 576.9L1078.3 575.2L1078.7 573.5L1079.1 571.8L1079.4 570.1L1079.8 568.5L1080.1 567.0L1080.4 565.5L1080.8 564.0L1081.1 562.5L1081.4 560.9L1081.7 559.4L1082.0 557.8L1082.4 556.2L1082.7 554.7L1083.0 553.1L1083.3 551.5L1083.6 550.0L1083.9 548.4L1084.2 546.8L1084.5 545.3L1084.7 543.8L1085.0 542.3L1085.2 540.7L1085.5 539.2L1085.8 537.7L1086.0 536.2L1086.3 534.7L1086.5 533.2L1086.7 531.6L1087.0 530.0L1087.2 528.5L1087.5 526.8L1087.7 525.2L1088.0 523.7L1088.2 522.2L1088.4 520.7L1088.7 519.2L1088.9 517.6L1089.1 516.1L1089.4 514.5L1089.6 512.9L1089.8 511.3L1090.1 509.7L1090.3 508.1L1090.5 506.5L1090.7 504.9L1090.9 503.3L1091.1 501.7L1091.3 500.2L1091.5 498.6L1091.7 497.0L1091.8 495.5L1092.0 493.9L1092.2 492.3L1092.3 490.8L1092.5 489.2L1092.6 487.6L1092.7 486.1L1092.9 484.5L1093.0 482.9L1093.1 481.4L1093.2 479.8L1093.3 478.2L1093.4 476.6L1093.5 475.1L1093.6 473.5L1093.6 471.9L1093.7 470.3L1093.8 468.7L1093.8 467.1L1093.8 465.4L1093.9 463.8L1093.9 462.2L1093.9 460.6L1093.9 459.0L1093.9 457.4L1093.9 455.9L1093.9 454.4L1093.9 452.9L1093.9 451.4L1093.8 450.0L1093.8 448.2L1093.7 446.5L1093.6 444.8L1093.5 443.2L1093.4 441.6L1093.3 440.0L1093.2 438.4L1093.0 436.9L1092.9 435.4L1092.7 433.9L1092.5 432.5L1092.4 431.1L1092.1 429.7L1091.8 427.8L1091.4 425.9L1090.9 424.1L1090.4 422.3L1089.9 420.7L1089.4 419.2L1089.0 417.8L1088.6 416.6L1088.3 415.7L1087.9 414.4L1087.5 413.4L1087.1 412.4L1086.6 411.2L1086.1 409.7L1085.5 408.1L1084.9 406.4L1084.2 404.7L1083.6 402.9L1082.9 401.1L1082.4 399.7L1081.8 398.3L1081.3 396.8L1080.7 395.3L1080.1 393.7L1079.5 392.1L1078.9 390.6L1078.3 389.0L1077.7 387.5L1077.0 386.1L1076.3 384.5L1075.6 382.9L1074.8 381.4L1074.0 379.9L1073.3 378.4L1072.5 376.9L1071.7 375.5L1071.0 374.1L1070.2 372.7L1069.3 371.1L1068.3 369.6L1067.4 368.1L1066.4 366.6L1065.5 365.2L1064.7 363.8L1064.0 362.5L1063.5 361.3L1063.0 359.6L1062.6 358.1L1062.5 356.5L1062.4 355.0L1062.3 353.4L1062.3 351.6L1062.3 350.1L1062.3 348.6L1062.3 347.1L1062.3 345.5L1062.5 343.9L1062.6 342.1L1062.9 340.2L1063.1 338.9L1063.3 337.5L1063.6 336.1L1063.8 334.6L1064.1 333.0L1064.4 331.5L1064.8 329.9L1065.1 328.3L1065.5 326.8L1065.9 325.2L1066.3 323.7L1066.7 322.2L1067.2 320.7L1067.6 319.1L1068.2 317.5L1068.7 315.9L1069.2 314.3L1069.8 312.7L1070.3 311.2L1070.8 309.7L1071.2 308.3L1071.6 307.0L1072.2 305.1L1072.7 303.4L1073.1 301.9L1073.4 300.4L1073.8 298.9L1074.2 297.2L1074.7 295.4L1075.0 294.0L1075.4 292.6L1075.7 291.1L1076.1 289.6L1076.5 288.0L1076.9 286.4L1077.2 284.8L1077.6 283.2L1078.0 281.7L1078.4 280.1L1078.7 278.7L1079.0 277.1L1079.4 275.5L1079.7 273.9L1080.0 272.3L1080.3 270.8L1080.6 269.3L1080.9 267.8L1081.2 266.3L1081.5 264.9L1081.7 263.6L1082.1 261.6L1082.5 259.6L1082.8 257.7L1083.2 255.9L1083.5 254.2L1083.7 252.9L1083.9 251.8ZM1082.4 251.7a0.75 0.75 0 1 0 1.50 0a0.75 0.75 0 1 0 -1.50 0ZM1074.2 587.5a0.65 0.65 0 1 0 1.30 0a0.65 0.65 0 1 0 -1.30 0ZM1074.2 587.6L1074.3 588.5L1074.5 589.7L1074.8 591.0L1075.0 592.6L1075.3 594.2L1075.6 596.0L1075.9 597.9L1076.2 599.8L1076.4 601.8L1076.6 603.1L1076.8 604.5L1076.9 606.0L1077.1 607.5L1077.2 609.0L1077.4 610.6L1077.6 612.2L1077.7 613.9L1077.9 615.5L1078.0 617.2L1078.2 618.8L1078.4 620.4L1078.5 621.9L1078.7 623.5L1078.9 625.1L1079.1 626.7L1079.3 628.3L1079.5 629.9L1079.7 631.5L1079.9 633.0L1080.1 634.6L1080.3 636.1L1080.4 637.6L1080.6 639.1L1080.7 640.6L1080.9 642.0L1080.9 643.4L1081.0 645.0L1081.1 646.6L1081.1 648.1L1081.1 649.6L1081.1 651.1L1081.0 652.6L1081.0 654.0L1080.9 655.5L1080.9 656.9L1080.8 658.4L1080.7 659.9L1080.6 661.4L1080.6 662.9L1080.5 664.3L1080.4 665.8L1080.2 667.2L1080.1 668.7L1080.0 670.2L1079.8 671.7L1079.7 673.3L1079.5 674.8L1079.3 676.5L1079.2 677.9L1079.0 679.3L1078.8 680.8L1078.6 682.3L1078.4 683.8L1078.2 685.4L1078.0 686.9L1077.8 688.5L1077.6 690.1L1077.4 691.7L1077.1 693.3L1076.9 694.9L1076.7 696.5L1076.5 697.9L1076.2 699.5L1076.0 701.0L1075.8 702.6L1075.5 704.1L1075.3 705.7L1075.0 707.3L1074.8 708.8L1074.5 710.4L1074.3 712.0L1074.0 713.5L1073.8 715.1L1073.6 716.6L1073.3 718.1L1073.1 719.7L1072.9 721.3L1072.6 722.9L1072.4 724.5L1072.2 726.1L1071.9 727.7L1071.7 729.3L1071.5 730.8L1071.3 732.4L1071.0 733.9L1070.9 735.3L1070.7 736.8L1070.5 738.2L1070.3 740.0L1070.1 741.8L1070.0 743.6L1069.8 745.4L1069.7 747.1L1069.6 748.7L1069.5 750.2L1069.4 751.6L1069.3 752.8L1069.3 753.7L1069.2 755.1L1069.3 756.2L1069.4 757.2L1069.5 758.5L1069.5 760.0L1069.6 761.6L1069.7 763.3L1069.8 765.1L1069.9 766.8L1070.1 768.5L1070.2 770.1L1070.4 771.8L1070.6 773.6L1070.8 775.4L1071.0 777.2L1071.3 778.9L1071.5 780.5L1071.8 782.1L1072.1 783.6L1072.6 785.7L1073.3 787.7L1073.9 789.5L1074.4 790.9L1074.8 792.0L1076.5 791.4L1076.2 790.3L1075.7 788.9L1075.2 787.1L1074.7 785.2L1074.2 783.1L1074.0 781.7L1073.8 780.2L1073.6 778.6L1073.4 776.9L1073.2 775.1L1073.1 773.4L1072.9 771.6L1072.8 769.9L1072.7 768.3L1072.6 766.6L1072.5 764.9L1072.4 763.2L1072.3 761.5L1072.3 759.8L1072.2 758.4L1072.2 757.1L1072.1 756.0L1072.1 755.1L1072.3 754.0L1072.3 753.0L1072.4 751.8L1072.5 750.4L1072.6 748.9L1072.7 747.3L1072.8 745.6L1073.0 743.9L1073.1 742.1L1073.3 740.3L1073.5 738.5L1073.7 737.1L1073.8 735.7L1074.0 734.3L1074.2 732.8L1074.4 731.3L1074.7 729.7L1074.9 728.2L1075.1 726.6L1075.4 725.0L1075.6 723.4L1075.8 721.8L1076.1 720.2L1076.3 718.6L1076.5 717.1L1076.8 715.5L1077.0 714.0L1077.3 712.4L1077.5 710.9L1077.7 709.3L1078.0 707.7L1078.2 706.2L1078.5 704.6L1078.7 703.0L1079.0 701.5L1079.2 699.9L1079.4 698.4L1079.7 696.9L1079.9 695.3L1080.1 693.7L1080.3 692.1L1080.6 690.5L1080.8 688.9L1081.0 687.3L1081.2 685.8L1081.4 684.2L1081.6 682.7L1081.8 681.2L1082.0 679.7L1082.1 678.2L1082.3 676.8L1082.5 675.2L1082.6 673.6L1082.8 672.0L1082.9 670.5L1083.1 669.0L1083.2 667.5L1083.3 666.0L1083.4 664.5L1083.5 663.0L1083.5 661.6L1083.6 660.0L1083.7 658.5L1083.7 657.1L1083.8 655.6L1083.9 654.1L1083.9 652.6L1083.9 651.1L1083.9 649.6L1083.9 648.1L1083.9 646.5L1083.8 644.9L1083.7 643.2L1083.6 641.8L1083.5 640.3L1083.3 638.8L1083.1 637.3L1082.9 635.8L1082.6 634.2L1082.4 632.7L1082.1 631.1L1081.9 629.5L1081.7 628.0L1081.4 626.4L1081.2 624.8L1081.0 623.2L1080.8 621.7L1080.6 620.1L1080.4 618.5L1080.2 616.9L1080.0 615.3L1079.8 613.7L1079.6 612.0L1079.4 610.4L1079.2 608.8L1079.0 607.2L1078.8 605.7L1078.6 604.3L1078.4 602.9L1078.2 601.5L1077.9 599.6L1077.6 597.6L1077.2 595.7L1076.9 593.9L1076.5 592.3L1076.2 590.8L1075.9 589.4L1075.7 588.3L1075.5 587.4ZM1074.2 587.5a0.65 0.65 0 1 0 1.30 0a0.65 0.65 0 1 0 -1.30 0ZM1074.8 791.7a0.90 0.90 0 1 0 1.80 0a0.90 0.90 0 1 0 -1.80 0Z" fill="#000"/>
<path d="M937.0 440.0L937.0 441.0L937.0 442.4L936.9 444.0L936.9 445.8L936.9 447.8L937.0 449.7L937.1 451.6L937.4 453.4L937.7 455.0L938.0 456.5L938.4 458.1L938.8 459.6L939.3 461.2L939.9 462.7L940.5 464.2L941.1 465.7L941.9 467.0L942.7 468.4L943.6 469.6L944.5 470.9L945.5 472.1L946.6 473.2L947.7 474.4L948.8 475.4L950.0 476.4L951.2 477.3L952.5 478.3L953.9 479.3L955.4 480.1L956.8 480.9L958.4 481.6L959.9 482.3L961.5 482.9L963.1 483.4L964.7 483.8L966.4 484.2L968.1 484.5L969.8 484.8L971.5 485.0L973.2 485.1L975.0 485.2L976.7 485.1L978.2 485.1L979.8 485.0L981.3 484.8L982.9 484.6L984.4 484.3L985.9 484.0L987.4 483.6L988.9 483.1L990.4 482.7L992.0 482.0L993.6 481.3L995.2 480.4L996.7 479.6L998.2 478.7L999.6 477.7L1001.0 476.7L1002.3 475.8L1003.6 474.7L1004.9 473.5L1006.1 472.3L1007.2 471.1L1008.3 469.8L1009.2 468.5L1010.0 467.1L1010.7 465.6L1011.3 464.3L1011.8 462.8L1012.1 461.2L1012.3 459.2L1012.5 456.7L1012.6 455.5L1012.6 454.2L1012.6 452.8L1012.6 451.2L1012.6 449.6L1012.5 448.0L1012.5 446.3L1012.5 444.5L1012.4 442.8L1012.3 441.1L1012.3 439.4L1012.2 437.8L1012.2 436.2L1012.1 434.7L1012.1 433.3L1012.0 431.5L1012.0 429.8L1012.0 428.1L1012.0 426.4L1012.0 424.8L1012.0 423.3L1012.0 421.8L1011.9 420.4L1011.8 419.0L1011.6 417.8L1011.4 416.5L1010.9 414.5L1010.1 412.7L1009.2 411.2L1008.3 409.9L1007.6 408.9L1007.1 408.1L1006.2 408.6L1006.7 409.4L1007.4 410.5L1008.2 411.7L1009.0 413.2L1009.7 414.9L1010.2 416.8L1010.4 417.9L1010.5 419.2L1010.6 420.5L1010.6 421.9L1010.6 423.3L1010.6 424.8L1010.6 426.4L1010.6 428.1L1010.6 429.8L1010.6 431.5L1010.6 433.3L1010.6 434.7L1010.7 436.2L1010.7 437.8L1010.7 439.4L1010.8 441.1L1010.8 442.8L1010.9 444.6L1010.9 446.3L1010.9 448.0L1011.0 449.6L1011.0 451.2L1011.0 452.7L1010.9 454.2L1010.9 455.5L1010.8 456.6L1010.6 459.0L1010.4 460.9L1010.1 462.4L1009.6 463.6L1009.1 464.9L1008.4 466.2L1007.6 467.5L1006.8 468.7L1005.8 469.8L1004.7 471.0L1003.6 472.1L1002.4 473.2L1001.1 474.2L999.8 475.1L998.5 476.1L997.1 477.0L995.7 477.8L994.2 478.6L992.7 479.4L991.2 480.1L989.6 480.7L988.3 481.2L986.9 481.6L985.4 482.0L984.0 482.3L982.5 482.6L981.0 482.8L979.6 483.0L978.1 483.1L976.6 483.2L975.0 483.2L973.3 483.2L971.7 483.1L970.0 482.9L968.4 482.7L966.7 482.4L965.1 482.0L963.6 481.6L962.1 481.1L960.6 480.6L959.1 480.0L957.6 479.3L956.2 478.6L954.8 477.8L953.5 476.9L952.2 476.0L951.0 475.1L949.9 474.2L948.8 473.2L947.7 472.1L946.7 471.0L945.7 469.9L944.8 468.7L943.9 467.5L943.1 466.3L942.4 465.0L941.8 463.6L941.2 462.2L940.6 460.7L940.1 459.2L939.7 457.7L939.3 456.2L938.9 454.7L938.6 453.2L938.3 451.5L938.2 449.6L938.1 447.7L938.0 445.8L938.0 444.0L938.0 442.4L938.0 441.0L938.0 440.0ZM937.0 440.0a0.50 0.50 0 1 0 1.00 0a0.50 0.50 0 1 0 -1.00 0ZM1006.2 408.3a0.50 0.50 0 1 0 1.00 0a0.50 0.50 0 1 0 -1.00 0ZM1086.0 440.0L1086.0 441.0L1086.0 442.4L1086.0 444.0L1086.0 445.8L1085.9 447.7L1085.8 449.6L1085.7 451.5L1085.4 453.2L1085.1 454.7L1084.7 456.2L1084.3 457.7L1083.9 459.2L1083.4 460.7L1082.8 462.2L1082.2 463.6L1081.6 465.0L1080.9 466.3L1080.1 467.5L1079.2 468.7L1078.3 469.9L1077.3 471.0L1076.3 472.1L1075.2 473.2L1074.1 474.2L1073.0 475.1L1071.8 476.0L1070.5 476.9L1069.2 477.8L1067.8 478.6L1066.4 479.3L1064.9 480.0L1063.4 480.6L1061.9 481.1L1060.4 481.6L1058.9 482.0L1057.3 482.4L1055.6 482.7L1054.0 482.9L1052.3 483.1L1050.7 483.2L1049.0 483.2L1047.4 483.2L1045.9 483.1L1044.4 483.0L1043.0 482.8L1041.5 482.6L1040.0 482.3L1038.6 482.0L1037.1 481.6L1035.7 481.2L1034.4 480.7L1032.8 480.1L1031.3 479.4L1029.8 478.6L1028.3 477.8L1026.9 477.0L1025.5 476.1L1024.2 475.1L1022.9 474.2L1021.6 473.2L1020.4 472.1L1019.3 471.0L1018.2 469.8L1017.2 468.7L1016.4 467.5L1015.6 466.2L1014.9 464.9L1014.4 463.6L1013.9 462.4L1013.6 460.9L1013.4 459.0L1013.2 456.6L1013.1 455.5L1013.1 454.2L1013.0 452.7L1013.0 451.2L1013.0 449.6L1013.1 448.0L1013.1 446.3L1013.1 444.6L1013.2 442.8L1013.2 441.1L1013.3 439.4L1013.3 437.8L1013.3 436.2L1013.4 434.7L1013.4 433.3L1013.4 431.5L1013.4 429.8L1013.4 428.1L1013.4 426.4L1013.4 424.8L1013.4 423.3L1013.4 421.9L1013.4 420.5L1013.5 419.2L1013.6 417.9L1013.8 416.8L1014.3 414.9L1015.0 413.2L1015.8 411.7L1016.6 410.5L1017.3 409.4L1017.8 408.6L1016.9 408.1L1016.4 408.9L1015.7 409.9L1014.8 411.2L1013.9 412.7L1013.1 414.5L1012.6 416.5L1012.4 417.8L1012.2 419.0L1012.1 420.4L1012.0 421.8L1012.0 423.3L1012.0 424.8L1012.0 426.4L1012.0 428.1L1012.0 429.8L1012.0 431.5L1011.9 433.3L1011.9 434.7L1011.8 436.2L1011.8 437.8L1011.7 439.4L1011.7 441.1L1011.6 442.8L1011.5 444.5L1011.5 446.3L1011.5 448.0L1011.4 449.6L1011.4 451.2L1011.4 452.8L1011.4 454.2L1011.4 455.5L1011.5 456.7L1011.7 459.2L1011.9 461.2L1012.2 462.8L1012.7 464.3L1013.3 465.6L1014.0 467.1L1014.8 468.5L1015.7 469.8L1016.8 471.1L1017.9 472.3L1019.1 473.5L1020.4 474.7L1021.7 475.8L1023.0 476.7L1024.4 477.7L1025.8 478.7L1027.3 479.6L1028.8 480.4L1030.4 481.3L1032.0 482.0L1033.6 482.7L1035.1 483.1L1036.6 483.6L1038.1 484.0L1039.6 484.3L1041.1 484.6L1042.7 484.8L1044.2 485.0L1045.8 485.1L1047.3 485.1L1049.0 485.2L1050.8 485.1L1052.5 485.0L1054.2 484.8L1055.9 484.5L1057.6 484.2L1059.3 483.8L1060.9 483.4L1062.5 482.9L1064.1 482.3L1065.6 481.6L1067.2 480.9L1068.6 480.1L1070.1 479.3L1071.5 478.3L1072.8 477.3L1074.0 476.4L1075.2 475.4L1076.3 474.4L1077.4 473.2L1078.5 472.1L1079.5 470.9L1080.4 469.6L1081.3 468.4L1082.1 467.0L1082.9 465.7L1083.5 464.2L1084.1 462.7L1084.7 461.2L1085.2 459.6L1085.6 458.1L1086.0 456.5L1086.3 455.0L1086.6 453.4L1086.9 451.6L1087.0 449.7L1087.1 447.8L1087.1 445.8L1087.1 444.0L1087.0 442.4L1087.0 441.0L1087.0 440.0ZM1086.0 440.0a0.50 0.50 0 1 0 1.00 0a0.50 0.50 0 1 0 -1.00 0ZM1016.8 408.3a0.50 0.50 0 1 0 1.00 0a0.50 0.50 0 1 0 -1.00 0Z" fill="#000"/>
<path d="M1011.1 470.0L1011.0 470.8L1011.0 471.9L1010.9 473.1L1010.8 474.5L1010.7 476.0L1010.6 477.5L1010.5 479.2L1010.4 481.0L1010.2 482.7L1010.1 484.5L1010.0 486.3L1009.8 488.1L1009.7 489.9L1009.5 491.6L1009.4 493.0L1009.3 494.6L1009.1 496.2L1008.9 497.8L1008.8 499.5L1008.6 501.2L1008.4 502.9L1008.2 504.5L1008.0 506.2L1007.8 507.8L1007.6 509.4L1007.4 511.0L1007.3 512.5L1007.1 513.9L1006.9 515.2L1006.8 516.5L1006.5 518.6L1006.3 520.4L1006.2 521.8L1006.0 523.1L1005.8 524.5L1005.6 525.9L1005.4 527.7L1005.1 529.8L1005.0 531.1L1004.8 532.4L1004.6 533.8L1004.4 535.3L1004.2 536.9L1004.0 538.5L1003.8 540.1L1003.5 541.8L1003.3 543.5L1003.1 545.1L1002.9 546.8L1002.6 548.5L1002.4 550.1L1002.2 551.7L1002.0 553.3L1001.7 554.8L1001.5 556.4L1001.3 558.0L1001.0 559.6L1000.8 561.2L1000.6 562.7L1000.3 564.2L1000.1 565.7L999.9 567.2L999.6 568.7L999.4 570.2L999.1 571.7L998.9 573.2L998.6 574.8L998.3 576.3L998.0 577.8L997.7 579.4L997.3 580.9L997.0 582.5L996.6 584.1L996.3 585.6L995.9 587.2L995.5 588.8L995.2 590.4L994.8 592.0L994.4 593.6L994.1 595.1L993.8 596.7L993.4 598.2L993.1 599.6L992.8 601.3L992.5 602.9L992.2 604.6L991.9 606.2L991.6 607.7L991.3 609.3L991.0 610.9L990.8 612.4L990.5 613.9L990.3 615.4L990.1 616.9L989.9 618.4L989.8 619.8L989.6 621.5L989.5 623.1L989.4 624.6L989.4 626.1L989.4 627.6L989.4 629.1L989.4 630.5L989.4 632.0L989.4 633.5L989.4 635.1L989.4 636.7L989.5 638.1L989.5 639.6L989.6 641.1L989.6 642.6L989.7 644.2L989.8 645.7L989.8 647.3L989.9 648.9L990.0 650.4L990.0 652.0L990.0 653.6L990.1 655.1L990.0 656.6L990.0 658.1L990.0 659.7L989.9 661.2L989.8 662.8L989.7 664.4L989.6 665.9L989.5 667.5L989.4 669.0L989.3 670.5L989.2 672.1L989.0 673.5L988.9 675.0L988.7 676.4L988.5 678.0L988.3 679.6L988.1 681.2L987.9 682.7L987.7 684.2L987.4 685.6L987.2 687.1L986.9 688.6L986.6 690.0L986.3 691.5L986.0 693.0L985.7 694.5L985.4 696.0L985.1 697.4L984.7 698.9L984.3 700.4L984.0 701.8L983.6 703.3L983.2 704.9L982.8 706.4L982.4 708.0L982.0 709.7L981.6 711.1L981.2 712.6L980.8 714.1L980.4 715.6L979.9 717.2L979.5 718.8L979.1 720.4L978.7 722.0L978.3 723.6L977.9 725.2L977.5 726.7L977.1 728.2L976.8 729.7L976.5 731.3L976.2 733.0L975.9 734.6L975.6 736.1L975.3 737.7L975.1 739.2L974.9 740.7L974.7 742.1L974.5 743.6L974.3 745.0L974.1 746.5L974.0 748.1L973.8 749.6L973.6 751.2L973.5 752.7L973.4 754.3L973.3 755.8L973.2 757.3L973.2 758.8L973.2 760.3L973.3 761.8L973.5 763.7L973.9 765.5L974.3 767.2L974.8 768.9L975.3 770.6L975.8 772.2L976.3 773.8L976.8 775.2L977.4 776.9L978.0 778.5L978.6 780.0L979.2 781.5L979.9 782.9L980.5 784.2L981.1 785.5L981.9 787.1L982.8 788.7L983.7 790.2L984.4 791.3L985.0 792.2L986.7 791.2L986.3 790.3L985.7 789.1L984.9 787.6L984.2 786.0L983.4 784.4L982.9 783.1L982.3 781.8L981.8 780.4L981.2 779.0L980.7 777.5L980.1 775.9L979.6 774.3L979.2 772.8L978.7 771.3L978.3 769.7L977.8 768.1L977.5 766.5L977.1 764.8L976.9 763.2L976.7 761.5L976.6 760.2L976.6 758.8L976.6 757.4L976.7 756.0L976.8 754.5L976.9 753.0L977.0 751.5L977.2 750.0L977.4 748.4L977.5 746.8L977.7 745.4L977.8 744.0L978.0 742.5L978.1 741.1L978.3 739.6L978.5 738.1L978.8 736.6L979.0 735.1L979.3 733.5L979.5 731.9L979.9 730.3L980.1 728.9L980.5 727.4L980.8 725.9L981.2 724.3L981.6 722.8L982.0 721.2L982.4 719.6L982.8 718.0L983.2 716.4L983.6 714.8L984.0 713.3L984.3 711.8L984.7 710.3L985.1 708.7L985.5 707.1L985.9 705.6L986.4 704.1L986.8 702.6L987.2 701.1L987.5 699.6L987.9 698.1L988.3 696.7L988.6 695.2L989.0 693.6L989.3 692.1L989.6 690.6L989.9 689.1L990.2 687.7L990.5 686.2L990.7 684.7L991.0 683.2L991.2 681.6L991.5 680.0L991.7 678.4L991.9 676.8L992.1 675.3L992.2 673.9L992.4 672.4L992.6 670.8L992.7 669.3L992.9 667.7L993.0 666.2L993.1 664.6L993.2 663.0L993.3 661.4L993.4 659.8L993.5 658.3L993.5 656.7L993.6 655.1L993.6 653.5L993.6 652.0L993.6 650.4L993.5 648.8L993.5 647.2L993.4 645.6L993.4 644.0L993.3 642.5L993.3 641.0L993.3 639.5L993.2 638.1L993.2 636.7L993.2 635.0L993.2 633.5L993.2 631.9L993.2 630.5L993.2 629.1L993.2 627.6L993.2 626.2L993.2 624.8L993.3 623.3L993.4 621.8L993.6 620.2L993.7 618.8L993.9 617.4L994.1 615.9L994.3 614.5L994.5 613.0L994.8 611.5L995.0 610.0L995.3 608.4L995.6 606.9L995.9 605.3L996.2 603.7L996.5 602.0L996.9 600.4L997.1 598.9L997.4 597.4L997.7 595.9L998.1 594.4L998.4 592.8L998.8 591.2L999.1 589.6L999.5 588.0L999.8 586.4L1000.2 584.8L1000.5 583.2L1000.8 581.6L1001.1 580.1L1001.4 578.5L1001.7 577.0L1002.0 575.4L1002.3 573.8L1002.5 572.3L1002.8 570.7L1003.0 569.2L1003.2 567.7L1003.4 566.2L1003.6 564.7L1003.9 563.2L1004.1 561.6L1004.3 560.1L1004.5 558.5L1004.7 556.9L1004.9 555.2L1005.1 553.7L1005.3 552.2L1005.5 550.6L1005.8 548.9L1006.0 547.2L1006.2 545.6L1006.4 543.9L1006.6 542.2L1006.9 540.5L1007.1 538.9L1007.3 537.3L1007.5 535.7L1007.6 534.2L1007.8 532.8L1008.0 531.4L1008.1 530.2L1008.4 528.0L1008.6 526.3L1008.8 524.8L1008.9 523.5L1009.1 522.2L1009.3 520.7L1009.4 519.0L1009.7 516.8L1009.8 515.6L1009.9 514.2L1010.1 512.8L1010.2 511.3L1010.4 509.8L1010.6 508.1L1010.8 506.5L1010.9 504.8L1011.1 503.1L1011.3 501.4L1011.4 499.8L1011.6 498.1L1011.7 496.4L1011.9 494.8L1012.0 493.3L1012.1 491.8L1012.2 490.1L1012.3 488.3L1012.4 486.5L1012.5 484.7L1012.6 482.9L1012.6 481.1L1012.7 479.3L1012.7 477.6L1012.8 476.0L1012.8 474.6L1012.8 473.2L1012.9 472.0L1012.9 470.9L1012.9 470.0ZM1011.1 470.0a0.90 0.90 0 1 0 1.80 0a0.90 0.90 0 1 0 -1.80 0ZM984.8 791.7a1.00 1.00 0 1 0 2.00 0a1.00 1.00 0 1 0 -2.00 0ZM1011.1 470.0L1011.1 470.9L1011.1 472.0L1011.2 473.2L1011.2 474.6L1011.2 476.0L1011.3 477.6L1011.3 479.3L1011.4 481.1L1011.4 482.9L1011.5 484.7L1011.6 486.5L1011.7 488.3L1011.8 490.1L1011.9 491.8L1012.0 493.3L1012.1 494.8L1012.3 496.4L1012.4 498.1L1012.6 499.8L1012.7 501.4L1012.9 503.1L1013.1 504.8L1013.2 506.5L1013.4 508.1L1013.6 509.8L1013.8 511.3L1013.9 512.8L1014.1 514.2L1014.2 515.6L1014.3 516.8L1014.6 519.0L1014.7 520.7L1014.9 522.2L1015.1 523.5L1015.2 524.8L1015.4 526.3L1015.6 528.0L1015.9 530.2L1016.0 531.4L1016.2 532.8L1016.4 534.2L1016.5 535.7L1016.7 537.3L1016.9 538.9L1017.1 540.5L1017.4 542.2L1017.6 543.9L1017.8 545.6L1018.0 547.2L1018.2 548.9L1018.5 550.6L1018.7 552.2L1018.9 553.7L1019.1 555.2L1019.3 556.9L1019.5 558.5L1019.7 560.1L1019.9 561.6L1020.1 563.2L1020.4 564.7L1020.6 566.2L1020.8 567.7L1021.0 569.2L1021.2 570.7L1021.5 572.3L1021.7 573.8L1022.0 575.4L1022.3 577.0L1022.6 578.5L1022.9 580.1L1023.2 581.6L1023.5 583.2L1023.8 584.8L1024.2 586.4L1024.5 588.0L1024.9 589.6L1025.2 591.2L1025.6 592.8L1025.9 594.4L1026.3 595.9L1026.6 597.4L1026.9 598.9L1027.1 600.4L1027.5 602.0L1027.8 603.7L1028.1 605.3L1028.4 606.9L1028.7 608.4L1029.0 610.0L1029.2 611.5L1029.5 613.0L1029.7 614.5L1029.9 615.9L1030.1 617.4L1030.3 618.8L1030.4 620.2L1030.6 621.8L1030.7 623.3L1030.8 624.8L1030.8 626.2L1030.8 627.6L1030.8 629.1L1030.8 630.5L1030.8 631.9L1030.8 633.5L1030.8 635.0L1030.8 636.7L1030.8 638.1L1030.7 639.5L1030.7 641.0L1030.7 642.5L1030.6 644.0L1030.6 645.6L1030.5 647.2L1030.5 648.8L1030.4 650.4L1030.4 652.0L1030.4 653.5L1030.4 655.1L1030.5 656.7L1030.5 658.3L1030.6 659.8L1030.7 661.4L1030.8 663.0L1030.9 664.6L1031.0 666.2L1031.1 667.7L1031.3 669.3L1031.4 670.8L1031.6 672.4L1031.8 673.9L1031.9 675.3L1032.1 676.8L1032.3 678.4L1032.5 680.0L1032.8 681.6L1033.0 683.2L1033.3 684.7L1033.5 686.2L1033.8 687.7L1034.1 689.1L1034.4 690.6L1034.7 692.1L1035.0 693.6L1035.4 695.2L1035.7 696.7L1036.1 698.1L1036.5 699.6L1036.8 701.1L1037.2 702.6L1037.6 704.1L1038.1 705.6L1038.5 707.1L1038.9 708.7L1039.3 710.3L1039.7 711.8L1040.0 713.3L1040.4 714.8L1040.8 716.4L1041.2 718.0L1041.6 719.6L1042.0 721.2L1042.4 722.8L1042.8 724.3L1043.2 725.9L1043.5 727.4L1043.9 728.9L1044.1 730.3L1044.5 731.9L1044.7 733.5L1045.0 735.1L1045.2 736.6L1045.5 738.1L1045.7 739.6L1045.9 741.1L1046.0 742.5L1046.2 744.0L1046.3 745.4L1046.5 746.8L1046.6 748.4L1046.8 750.0L1047.0 751.5L1047.1 753.0L1047.2 754.5L1047.3 756.0L1047.4 757.4L1047.4 758.8L1047.4 760.2L1047.3 761.5L1047.1 763.2L1046.9 764.8L1046.5 766.5L1046.2 768.1L1045.7 769.7L1045.3 771.3L1044.8 772.8L1044.4 774.3L1043.9 775.9L1043.3 777.5L1042.8 779.0L1042.2 780.4L1041.7 781.8L1041.1 783.1L1040.6 784.4L1039.8 786.0L1039.1 787.6L1038.3 789.1L1037.7 790.3L1037.3 791.2L1039.0 792.2L1039.6 791.3L1040.3 790.2L1041.2 788.7L1042.1 787.1L1042.9 785.5L1043.5 784.2L1044.1 782.9L1044.8 781.5L1045.4 780.0L1046.0 778.5L1046.6 776.9L1047.2 775.2L1047.7 773.8L1048.2 772.2L1048.7 770.6L1049.2 768.9L1049.7 767.2L1050.1 765.5L1050.5 763.7L1050.7 761.8L1050.8 760.3L1050.8 758.8L1050.8 757.3L1050.7 755.8L1050.6 754.3L1050.5 752.7L1050.4 751.2L1050.2 749.6L1050.0 748.1L1049.9 746.5L1049.7 745.0L1049.5 743.6L1049.3 742.1L1049.1 740.7L1048.9 739.2L1048.7 737.7L1048.4 736.1L1048.1 734.6L1047.8 733.0L1047.5 731.3L1047.2 729.7L1046.9 728.2L1046.5 726.7L1046.1 725.2L1045.7 723.6L1045.3 722.0L1044.9 720.4L1044.5 718.8L1044.1 717.2L1043.6 715.6L1043.2 714.1L1042.8 712.6L1042.4 711.1L1042.0 709.7L1041.6 708.0L1041.2 706.4L1040.8 704.9L1040.4 703.3L1040.0 701.8L1039.7 700.4L1039.3 698.9L1038.9 697.4L1038.6 696.0L1038.3 694.5L1038.0 693.0L1037.7 691.5L1037.4 690.0L1037.1 688.6L1036.8 687.1L1036.6 685.6L1036.3 684.2L1036.1 682.7L1035.9 681.2L1035.7 679.6L1035.5 678.0L1035.3 676.4L1035.1 675.0L1035.0 673.5L1034.8 672.1L1034.7 670.5L1034.6 669.0L1034.5 667.5L1034.4 665.9L1034.3 664.4L1034.2 662.8L1034.1 661.2L1034.0 659.7L1034.0 658.1L1034.0 656.6L1033.9 655.1L1034.0 653.6L1034.0 652.0L1034.0 650.4L1034.1 648.9L1034.2 647.3L1034.2 645.7L1034.3 644.2L1034.4 642.6L1034.4 641.1L1034.5 639.6L1034.5 638.1L1034.6 636.7L1034.6 635.1L1034.6 633.5L1034.6 632.0L1034.6 630.5L1034.6 629.1L1034.6 627.6L1034.6 626.1L1034.6 624.6L1034.5 623.1L1034.4 621.5L1034.2 619.8L1034.1 618.4L1033.9 616.9L1033.7 615.4L1033.5 613.9L1033.2 612.4L1033.0 610.9L1032.7 609.3L1032.4 607.7L1032.1 606.2L1031.8 604.6L1031.5 602.9L1031.2 601.3L1030.9 599.6L1030.6 598.2L1030.2 596.7L1029.9 595.1L1029.6 593.6L1029.2 592.0L1028.8 590.4L1028.5 588.8L1028.1 587.2L1027.7 585.6L1027.4 584.1L1027.0 582.5L1026.7 580.9L1026.3 579.4L1026.0 577.8L1025.7 576.3L1025.4 574.8L1025.1 573.2L1024.9 571.7L1024.6 570.2L1024.4 568.7L1024.1 567.2L1023.9 565.7L1023.7 564.2L1023.4 562.7L1023.2 561.2L1023.0 559.6L1022.7 558.0L1022.5 556.4L1022.3 554.8L1022.0 553.3L1021.8 551.7L1021.6 550.1L1021.4 548.5L1021.1 546.8L1020.9 545.1L1020.7 543.5L1020.5 541.8L1020.2 540.1L1020.0 538.5L1019.8 536.9L1019.6 535.3L1019.4 533.8L1019.2 532.4L1019.0 531.1L1018.9 529.8L1018.6 527.7L1018.4 525.9L1018.2 524.5L1018.0 523.1L1017.8 521.8L1017.7 520.4L1017.5 518.6L1017.2 516.5L1017.1 515.2L1016.9 513.9L1016.7 512.5L1016.6 511.0L1016.4 509.4L1016.2 507.8L1016.0 506.2L1015.8 504.5L1015.6 502.9L1015.4 501.2L1015.2 499.5L1015.1 497.8L1014.9 496.2L1014.7 494.6L1014.6 493.0L1014.5 491.6L1014.3 489.9L1014.2 488.1L1014.0 486.3L1013.9 484.5L1013.8 482.7L1013.6 481.0L1013.5 479.2L1013.4 477.5L1013.3 476.0L1013.2 474.5L1013.1 473.1L1013.0 471.9L1013.0 470.8L1012.9 470.0ZM1011.1 470.0a0.90 0.90 0 1 0 1.80 0a0.90 0.90 0 1 0 -1.80 0ZM1037.2 791.7a1.00 1.00 0 1 0 2.00 0a1.00 1.00 0 1 0 -2.00 0Z" fill="#000"/>
<path d="M949.2 784.2C947.9 783.9 944.0 782.5 941.7 782.5C939.3 782.5 936.6 783.2 935.0 784.2C933.4 785.1 932.3 786.5 932.0 788.3C931.7 790.1 932.2 792.2 933.0 795.0C933.8 797.8 935.2 802.2 936.7 805.0C938.1 807.8 938.9 809.9 941.7 811.7C944.4 813.4 948.6 814.7 953.3 815.3C958.1 815.9 965.3 815.8 970.0 815.3C974.7 814.9 979.0 813.9 981.7 812.5C984.3 811.1 985.0 809.3 985.8 806.7C986.7 804.0 986.8 799.4 986.7 796.7C986.5 793.9 985.3 791.1 985.0 790.0" stroke="#000" stroke-width="1.8" fill="none" stroke-linecap="round" stroke-linejoin="round"/>
<path d="M1074.8 784.2C1076.1 783.9 1080.0 782.5 1082.3 782.5C1084.7 782.5 1087.4 783.2 1089.0 784.2C1090.6 785.1 1091.7 786.5 1092.0 788.3C1092.3 790.1 1091.8 792.2 1091.0 795.0C1090.2 797.8 1088.8 802.2 1087.3 805.0C1085.9 807.8 1085.1 809.9 1082.3 811.7C1079.6 813.4 1075.4 814.7 1070.7 815.3C1065.9 815.9 1058.7 815.8 1054.0 815.3C1049.3 814.9 1045.0 813.9 1042.3 812.5C1039.7 811.1 1039.0 809.3 1038.2 806.7C1037.3 804.0 1037.2 799.4 1037.3 796.7C1037.5 793.9 1038.7 791.1 1039.0 790.0" stroke="#000" stroke-width="1.8" fill="none" stroke-linecap="round" stroke-linejoin="round"/>
<path d="M1012.0 73.3C1012.0 95.1 1012.0 167.9 1012.1 204.0C1012.1 240.1 1012.1 264.6 1012.2 290.0C1012.2 315.4 1012.4 337.2 1012.3 356.7C1012.3 376.1 1012.1 396.6 1012.0 406.6C1011.9 416.6 1011.8 412.2 1011.6 416.7C1011.4 421.1 1010.9 427.8 1010.8 433.3C1010.8 438.9 1011.1 444.7 1011.3 450.0C1011.5 455.3 1011.9 462.5 1012.0 465.0" stroke="#7b2d8b" stroke-width="2.5" fill="none" stroke-linecap="round" stroke-linejoin="round"/>
<path d="M999.2 75.8C999.7 78.2 1001.5 84.3 1002.5 90.0C1003.5 95.7 1004.4 102.5 1005.0 110.0C1005.6 117.5 1006.2 127.2 1006.3 135.0C1006.5 142.8 1006.2 150.3 1005.8 156.7C1005.5 163.1 1004.4 168.2 1004.2 173.3C1004.0 178.4 1004.5 184.5 1004.6 187.2C1004.6 189.9 1004.5 185.6 1004.6 189.6C1004.6 193.7 1004.7 203.8 1004.7 211.7C1004.6 219.5 1004.2 224.2 1004.2 236.7C1004.1 249.2 1004.2 277.8 1004.2 286.7C1004.2 295.6 1004.2 283.9 1004.1 290.0C1004.1 296.1 1003.9 312.2 1003.7 323.3C1003.4 334.4 1003.0 346.9 1002.5 356.7C1002.0 366.4 1001.7 373.3 1000.8 381.7C1000.0 390.0 998.3 400.6 997.5 406.7C996.7 412.8 996.1 416.4 995.8 418.3L1004.7 397.5C1004.9 399.6 1005.7 404.1 1006.2 410.0C1006.6 416.0 1007.4 425.8 1007.5 433.3C1007.6 440.8 1007.6 449.2 1006.7 455.0C1005.7 460.8 1003.9 465.0 1001.7 468.3C999.4 471.7 996.4 473.6 993.3 475.0C990.3 476.4 986.1 475.8 983.3 476.7C980.6 477.5 978.1 478.9 976.7 480.0C975.2 481.1 975.0 482.8 974.7 483.3" stroke="#4bb9ea" stroke-width="2.5" fill="none" stroke-linecap="round" stroke-linejoin="round"/>
<path d="M1024.8 75.8C1024.3 78.2 1022.5 84.3 1021.5 90.0C1020.5 95.7 1019.6 102.5 1019.0 110.0C1018.4 117.5 1017.8 127.2 1017.7 135.0C1017.5 142.8 1017.8 150.3 1018.2 156.7C1018.5 163.1 1019.6 168.2 1019.8 173.3C1020.0 178.4 1019.5 184.5 1019.4 187.2C1019.4 189.9 1019.5 185.6 1019.4 189.6C1019.4 193.7 1019.3 203.8 1019.3 211.7C1019.4 219.5 1019.8 224.2 1019.8 236.7C1019.9 249.2 1019.8 277.8 1019.8 286.7C1019.8 295.6 1019.8 283.9 1019.9 290.0C1019.9 296.1 1020.1 312.2 1020.3 323.3C1020.6 334.4 1021.0 346.9 1021.5 356.7C1022.0 366.4 1022.3 373.3 1023.2 381.7C1024.0 390.0 1025.7 400.6 1026.5 406.7C1027.3 412.8 1027.9 416.4 1028.2 418.3L1019.3 397.5C1019.1 399.6 1018.3 404.1 1017.8 410.0C1017.4 416.0 1016.6 425.8 1016.5 433.3C1016.4 440.8 1016.4 449.2 1017.3 455.0C1018.3 460.8 1020.1 465.0 1022.3 468.3C1024.6 471.7 1027.6 473.6 1030.7 475.0C1033.7 476.4 1037.9 475.8 1040.7 476.7C1043.4 477.5 1045.9 478.9 1047.3 480.0C1048.8 481.1 1049.0 482.8 1049.3 483.3" stroke="#4bb9ea" stroke-width="2.5" fill="none" stroke-linecap="round" stroke-linejoin="round"/>
<path d="M1003.7 217.5C1002.8 218.8 1000.5 222.9 998.3 225.0C996.2 227.1 992.3 228.1 990.8 230.0C989.4 231.9 990.0 230.0 989.7 236.7C989.3 243.3 989.1 261.1 988.7 270.0C988.4 278.9 988.1 282.5 987.8 290.0C987.4 297.5 987.0 306.7 986.7 315.0C986.3 323.3 986.2 331.7 985.8 340.0C985.4 348.3 984.6 356.7 984.2 365.0C983.8 373.3 984.0 383.1 983.3 390.0C982.6 396.9 981.3 402.1 980.0 406.7C978.7 411.2 976.5 415.0 975.5 417.1C974.5 419.3 974.7 417.4 973.8 419.6C972.9 421.7 971.1 424.9 970.0 430.0C968.9 435.1 967.5 443.9 967.5 450.0C967.5 456.1 968.9 461.9 970.0 466.7C971.1 471.4 973.3 475.6 974.2 478.3C975.0 481.1 975.3 480.8 975.0 483.3C974.7 485.8 973.1 489.2 972.5 493.3C971.9 497.5 971.6 503.1 971.7 508.3C971.7 513.6 972.3 518.6 972.7 525.0C973.2 531.4 973.9 540.3 974.3 546.7C974.7 553.1 975.4 557.8 975.0 563.3C974.6 568.9 973.5 575.3 971.7 580.0C969.9 584.7 966.7 588.3 964.2 591.7C961.7 595.0 958.1 596.9 956.7 600.0C955.3 603.1 955.1 607.4 955.8 610.0C956.5 612.6 958.9 613.9 960.8 615.8C962.8 617.8 966.1 618.8 967.5 621.7C968.9 624.6 968.9 627.8 969.2 633.3C969.4 638.9 969.3 647.8 969.0 655.0C968.7 662.2 968.2 670.1 967.4 676.5C966.6 682.9 965.4 688.3 964.2 693.3C962.9 698.4 960.7 702.2 960.0 706.7C959.3 711.1 959.6 715.0 960.0 720.0C960.4 725.0 961.9 731.1 962.5 736.7C963.1 742.2 963.7 747.8 963.7 753.3C963.7 758.9 963.1 765.0 962.6 770.0C962.0 774.9 961.1 779.2 960.2 783.1C959.2 787.0 958.4 790.5 956.7 793.3C955.0 796.1 951.9 799.0 950.0 800.0C948.1 801.0 946.1 799.9 945.0 799.2C943.9 798.5 944.7 796.7 943.3 795.8C941.9 795.0 938.2 795.1 936.7 794.2C935.1 793.2 934.6 790.7 934.2 790.0" stroke="#4bb9ea" stroke-width="2.5" fill="none" stroke-linecap="round" stroke-linejoin="round"/>
<path d="M1020.3 217.5C1021.2 218.8 1023.5 222.9 1025.7 225.0C1027.8 227.1 1031.7 228.1 1033.2 230.0C1034.6 231.9 1034.0 230.0 1034.3 236.7C1034.7 243.3 1034.9 261.1 1035.3 270.0C1035.6 278.9 1035.9 282.5 1036.2 290.0C1036.6 297.5 1037.0 306.7 1037.3 315.0C1037.7 323.3 1037.7 331.7 1038.2 340.0C1038.6 348.3 1039.4 356.7 1039.8 365.0C1040.3 373.3 1040.0 383.1 1040.7 390.0C1041.4 396.9 1042.7 402.1 1044.0 406.7C1045.3 411.2 1047.5 415.0 1048.5 417.1C1049.5 419.3 1049.3 417.4 1050.2 419.6C1051.1 421.7 1052.9 424.9 1054.0 430.0C1055.1 435.1 1056.5 443.9 1056.5 450.0C1056.5 456.1 1055.1 461.9 1054.0 466.7C1052.9 471.4 1050.7 475.6 1049.8 478.3C1049.0 481.1 1048.7 480.8 1049.0 483.3C1049.3 485.8 1050.9 489.2 1051.5 493.3C1052.1 497.5 1052.4 503.1 1052.3 508.3C1052.3 513.6 1051.7 518.6 1051.3 525.0C1050.8 531.4 1050.1 540.3 1049.7 546.7C1049.3 553.1 1048.6 557.8 1049.0 563.3C1049.4 568.9 1050.5 575.3 1052.3 580.0C1054.1 584.7 1057.3 588.3 1059.8 591.7C1062.3 595.0 1065.9 596.9 1067.3 600.0C1068.7 603.1 1068.9 607.4 1068.2 610.0C1067.5 612.6 1065.1 613.9 1063.2 615.8C1061.2 617.8 1057.9 618.8 1056.5 621.7C1055.1 624.6 1055.1 627.8 1054.8 633.3C1054.6 638.9 1054.7 647.8 1055.0 655.0C1055.3 662.2 1055.8 670.1 1056.6 676.5C1057.4 682.9 1058.6 688.3 1059.8 693.3C1061.1 698.4 1063.3 702.2 1064.0 706.7C1064.7 711.1 1064.4 715.0 1064.0 720.0C1063.6 725.0 1062.1 731.1 1061.5 736.7C1060.9 742.2 1060.3 747.8 1060.3 753.3C1060.3 758.9 1060.9 765.0 1061.4 770.0C1062.0 774.9 1062.9 779.2 1063.8 783.1C1064.8 787.0 1065.6 790.5 1067.3 793.3C1069.0 796.1 1072.1 799.0 1074.0 800.0C1075.9 801.0 1077.9 799.9 1079.0 799.2C1080.1 798.5 1079.3 796.7 1080.7 795.8C1082.1 795.0 1085.8 795.1 1087.3 794.2C1088.9 793.2 1089.4 790.7 1089.8 790.0" stroke="#4bb9ea" stroke-width="2.5" fill="none" stroke-linecap="round" stroke-linejoin="round"/>
<path d="M990.0 79.2C990.8 81.5 993.8 87.6 995.0 93.3C996.2 99.0 996.9 106.4 997.5 113.3C998.1 120.3 998.3 128.3 998.3 135.0C998.3 141.7 998.1 146.9 997.5 153.3C996.9 159.7 995.8 168.2 995.0 173.3C994.2 178.4 993.3 181.9 992.7 184.0C992.2 186.1 992.9 184.0 991.9 185.8C990.9 187.7 989.2 192.1 986.7 195.0C984.1 197.9 980.6 201.0 976.7 203.3C972.8 205.7 967.2 207.4 963.3 209.2C959.4 211.0 956.0 211.8 953.3 214.2C950.7 216.5 949.0 219.6 947.5 223.3C946.0 227.1 944.8 231.7 944.2 236.7C943.5 241.7 943.4 247.2 943.7 253.3C943.9 259.4 945.0 266.7 945.8 273.3C946.7 280.0 948.1 289.3 948.8 293.2C949.5 297.1 949.8 296.1 950.0 296.7" stroke="#1b9a48" stroke-width="2.5" fill="none" stroke-linecap="round" stroke-linejoin="round"/>
<path d="M1034.0 79.2C1033.2 81.5 1030.2 87.6 1029.0 93.3C1027.8 99.0 1027.1 106.4 1026.5 113.3C1025.9 120.3 1025.7 128.3 1025.7 135.0C1025.7 141.7 1025.9 146.9 1026.5 153.3C1027.1 159.7 1028.2 168.2 1029.0 173.3C1029.8 178.4 1030.7 181.9 1031.3 184.0C1031.8 186.1 1031.1 184.0 1032.1 185.8C1033.1 187.7 1034.8 192.1 1037.3 195.0C1039.9 197.9 1043.4 201.0 1047.3 203.3C1051.2 205.7 1056.8 207.4 1060.7 209.2C1064.6 211.0 1068.0 211.8 1070.7 214.2C1073.3 216.5 1075.0 219.6 1076.5 223.3C1078.0 227.1 1079.2 231.7 1079.8 236.7C1080.5 241.7 1080.6 247.2 1080.3 253.3C1080.1 259.4 1079.0 266.7 1078.2 273.3C1077.3 280.0 1075.9 289.3 1075.2 293.2C1074.5 297.1 1074.2 296.1 1074.0 296.7" stroke="#1b9a48" stroke-width="2.5" fill="none" stroke-linecap="round" stroke-linejoin="round"/>
<path d="M980.8 85.0C981.5 87.2 983.9 93.3 985.0 98.3C986.1 103.3 986.9 108.9 987.5 115.0C988.1 121.1 988.4 128.8 988.7 135.0C988.9 141.2 989.1 149.6 989.2 152.5C988.5 149.6 986.4 141.4 985.0 135.0C983.6 128.6 981.5 117.6 980.8 114.2L974.2 113.7" stroke="#1b9a48" stroke-width="2.5" fill="none" stroke-linecap="round" stroke-linejoin="round"/>
<path d="M1043.2 85.0C1042.5 87.2 1040.1 93.3 1039.0 98.3C1037.9 103.3 1037.1 108.9 1036.5 115.0C1035.9 121.1 1035.6 128.8 1035.3 135.0C1035.1 141.2 1034.9 149.6 1034.8 152.5C1035.5 149.6 1037.6 141.4 1039.0 135.0C1040.4 128.6 1042.5 117.6 1043.2 114.2L1049.8 113.7" stroke="#1b9a48" stroke-width="2.5" fill="none" stroke-linecap="round" stroke-linejoin="round"/>
<path d="M959.2 361.7C959.0 362.5 957.6 365.3 958.3 366.7C959.0 368.1 961.5 368.5 963.3 370.0C965.1 371.5 968.2 374.9 969.2 375.8C967.6 376.4 963.2 377.9 960.0 379.2C956.8 380.4 952.4 382.1 950.0 383.3C947.6 384.6 946.7 385.6 945.8 386.7C945.0 387.8 945.1 389.4 945.0 390.0" stroke="#1b9a48" stroke-width="2.5" fill="none" stroke-linecap="round" stroke-linejoin="round"/>
<path d="M1064.8 361.7C1065.0 362.5 1066.4 365.3 1065.7 366.7C1065.0 368.1 1062.5 368.5 1060.7 370.0C1058.9 371.5 1055.8 374.9 1054.8 375.8C1056.4 376.4 1060.8 377.9 1064.0 379.2C1067.2 380.4 1071.6 382.1 1074.0 383.3C1076.4 384.6 1077.3 385.6 1078.2 386.7C1079.0 387.8 1078.9 389.4 1079.0 390.0" stroke="#1b9a48" stroke-width="2.5" fill="none" stroke-linecap="round" stroke-linejoin="round"/>
<path d="M930.8 428.3C931.2 429.0 931.5 431.4 933.3 432.5C935.1 433.6 938.9 434.4 941.7 435.0C944.4 435.6 948.6 436.1 950.0 436.3C949.2 438.1 946.5 443.0 945.0 446.7C943.5 450.3 941.8 453.9 940.8 458.3C939.9 462.8 939.3 467.5 939.2 473.3C939.0 479.2 939.4 485.8 940.0 493.3C940.6 500.8 941.7 508.8 942.9 518.3C944.1 527.7 946.2 541.1 947.5 550.0C948.8 558.9 950.0 565.3 950.8 571.7C951.7 578.1 952.4 582.8 952.5 588.3C952.6 593.9 951.8 599.2 951.3 605.0C950.9 610.8 950.2 616.9 949.7 623.3C949.2 629.7 948.4 637.2 948.3 643.3C948.3 649.4 949.1 655.2 949.5 660.0C949.9 664.7 950.6 669.7 950.8 671.7L947.5 673.3C947.6 674.7 947.8 677.5 948.3 681.7C948.9 685.8 949.9 692.2 950.8 698.3C951.8 704.4 953.2 711.9 954.2 718.3C955.1 724.7 956.1 730.8 956.7 736.7C957.2 742.5 957.5 747.8 957.5 753.3C957.5 758.9 957.1 765.4 956.6 770.0C956.1 774.6 955.3 778.3 954.4 780.9C953.4 783.6 952.5 784.3 950.8 785.8C949.1 787.3 945.9 789.4 944.2 790.0C942.5 790.6 941.8 790.2 940.6 789.5C939.5 788.7 937.7 786.1 937.1 785.4" stroke="#1b9a48" stroke-width="2.5" fill="none" stroke-linecap="round" stroke-linejoin="round"/>
<path d="M1093.2 428.3C1092.7 429.0 1092.5 431.4 1090.7 432.5C1088.9 433.6 1085.1 434.4 1082.3 435.0C1079.6 435.6 1075.4 436.1 1074.0 436.3C1074.8 438.1 1077.5 443.0 1079.0 446.7C1080.5 450.3 1082.2 453.9 1083.2 458.3C1084.1 462.8 1084.7 467.5 1084.8 473.3C1085.0 479.2 1084.6 485.8 1084.0 493.3C1083.4 500.8 1082.3 508.8 1081.1 518.3C1079.9 527.7 1077.8 541.1 1076.5 550.0C1075.2 558.9 1074.0 565.3 1073.2 571.7C1072.3 578.1 1071.6 582.8 1071.5 588.3C1071.4 593.9 1072.2 599.2 1072.7 605.0C1073.1 610.8 1073.8 616.9 1074.3 623.3C1074.8 629.7 1075.6 637.2 1075.7 643.3C1075.7 649.4 1074.9 655.2 1074.5 660.0C1074.1 664.7 1073.4 669.7 1073.2 671.7L1076.5 673.3C1076.4 674.7 1076.2 677.5 1075.7 681.7C1075.1 685.8 1074.1 692.2 1073.2 698.3C1072.2 704.4 1070.8 711.9 1069.8 718.3C1068.9 724.7 1067.9 730.8 1067.3 736.7C1066.8 742.5 1066.5 747.8 1066.5 753.3C1066.5 758.9 1066.9 765.4 1067.4 770.0C1067.9 774.6 1068.7 778.3 1069.6 780.9C1070.6 783.6 1071.5 784.3 1073.2 785.8C1074.9 787.3 1078.1 789.4 1079.8 790.0C1081.5 790.6 1082.2 790.2 1083.4 789.5C1084.5 788.7 1086.3 786.1 1086.9 785.4" stroke="#1b9a48" stroke-width="2.5" fill="none" stroke-linecap="round" stroke-linejoin="round"/>
<path d="M977.5 123.3C977.2 123.9 975.8 124.2 975.8 126.7C975.8 129.2 976.4 133.9 977.5 138.3C978.6 142.8 980.8 148.9 982.5 153.3C984.2 157.8 986.4 161.1 987.5 165.0C988.6 168.9 988.8 173.5 989.2 176.7C989.6 179.9 989.8 182.6 989.9 184.2C990.0 185.7 990.1 184.1 989.8 185.9C989.6 187.7 989.4 191.8 988.3 195.0C987.3 198.2 985.8 202.1 983.3 205.0C980.8 207.9 977.2 210.7 973.3 212.5C969.4 214.3 964.4 214.9 960.0 215.8C955.6 216.8 950.4 217.1 946.7 218.3C942.9 219.6 939.9 220.8 937.5 223.3C935.1 225.8 933.9 229.2 932.5 233.3C931.1 237.5 930.0 242.8 929.2 248.3C928.3 253.9 928.1 260.3 927.5 266.7C926.9 273.1 926.1 280.0 925.5 286.7C924.8 293.3 924.1 300.5 923.5 306.6C922.9 312.8 922.3 317.8 921.7 323.3C921.0 328.9 920.4 335.0 919.7 340.0C919.0 345.0 918.7 348.6 917.5 353.3C916.3 358.1 914.3 363.3 912.5 368.3C910.7 373.3 908.6 378.1 906.7 383.3C904.7 388.6 902.7 394.7 900.8 400.0C899.0 405.3 896.7 411.8 895.6 414.9C894.6 418.0 894.9 416.8 894.7 418.5C894.5 420.1 895.0 423.4 894.2 425.0C893.4 426.6 891.1 426.7 890.0 428.3C888.9 430.0 888.1 432.5 887.5 435.0C886.9 437.5 886.5 440.6 886.7 443.3C886.8 446.1 887.9 448.3 888.3 451.7C888.8 455.0 888.9 459.2 889.2 463.3C889.4 467.5 889.3 472.5 890.0 476.7C890.7 480.8 891.9 484.4 893.3 488.3C894.7 492.2 897.1 497.2 898.3 500.0C899.6 502.8 900.4 504.2 900.8 505.0" stroke="#e9478f" stroke-width="2.5" fill="none" stroke-linecap="round" stroke-linejoin="round"/>
<path d="M1046.5 123.3C1046.8 123.9 1048.2 124.2 1048.2 126.7C1048.2 129.2 1047.6 133.9 1046.5 138.3C1045.4 142.8 1043.2 148.9 1041.5 153.3C1039.8 157.8 1037.6 161.1 1036.5 165.0C1035.4 168.9 1035.2 173.5 1034.8 176.7C1034.4 179.9 1034.2 182.6 1034.1 184.2C1034.0 185.7 1033.9 184.1 1034.2 185.9C1034.4 187.7 1034.6 191.8 1035.7 195.0C1036.7 198.2 1038.2 202.1 1040.7 205.0C1043.2 207.9 1046.8 210.7 1050.7 212.5C1054.6 214.3 1059.6 214.9 1064.0 215.8C1068.4 216.8 1073.6 217.1 1077.3 218.3C1081.1 219.6 1084.1 220.8 1086.5 223.3C1088.9 225.8 1090.1 229.2 1091.5 233.3C1092.9 237.5 1094.0 242.8 1094.8 248.3C1095.7 253.9 1095.9 260.3 1096.5 266.7C1097.1 273.1 1097.9 280.0 1098.5 286.7C1099.2 293.3 1099.9 300.5 1100.5 306.6C1101.1 312.8 1101.7 317.8 1102.3 323.3C1103.0 328.9 1103.6 335.0 1104.3 340.0C1105.0 345.0 1105.3 348.6 1106.5 353.3C1107.7 358.1 1109.7 363.3 1111.5 368.3C1113.3 373.3 1115.4 378.1 1117.3 383.3C1119.3 388.6 1121.3 394.7 1123.2 400.0C1125.0 405.3 1127.3 411.8 1128.4 414.9C1129.4 418.0 1129.1 416.8 1129.3 418.5C1129.5 420.1 1129.0 423.4 1129.8 425.0C1130.6 426.6 1132.9 426.7 1134.0 428.3C1135.1 430.0 1135.9 432.5 1136.5 435.0C1137.1 437.5 1137.5 440.6 1137.3 443.3C1137.2 446.1 1136.1 448.3 1135.7 451.7C1135.2 455.0 1135.1 459.2 1134.8 463.3C1134.6 467.5 1134.7 472.5 1134.0 476.7C1133.3 480.8 1132.1 484.4 1130.7 488.3C1129.3 492.2 1126.9 497.2 1125.7 500.0C1124.4 502.8 1123.6 504.2 1123.2 505.0" stroke="#e9478f" stroke-width="2.5" fill="none" stroke-linecap="round" stroke-linejoin="round"/>
<path d="M986.7 177.5C986.4 178.2 984.9 180.3 985.0 181.7C985.1 183.1 986.0 184.7 987.5 185.8C989.0 186.9 992.5 186.8 994.2 188.3C995.8 189.9 997.4 191.9 997.5 195.0C997.6 198.1 996.8 202.8 995.0 206.7C993.2 210.6 989.7 215.3 986.7 218.3C983.6 221.4 979.7 223.6 976.7 225.0C973.6 226.4 971.1 226.8 968.3 226.7C965.6 226.5 961.4 224.6 960.0 224.2C959.6 226.2 957.5 231.2 957.5 236.7C957.5 242.1 959.6 253.3 960.0 256.7C958.9 254.7 955.6 248.3 953.3 245.0C951.1 241.7 948.9 238.5 946.7 236.7C944.4 234.9 941.8 233.9 940.0 234.2C938.2 234.4 936.7 235.7 935.8 238.3C934.9 241.0 934.5 245.3 934.7 250.0C934.8 254.7 936.0 260.6 936.7 266.7C937.3 272.8 938.2 281.1 938.4 286.7C938.6 292.2 938.4 295.2 938.0 300.0C937.5 304.7 937.2 310.0 935.8 315.0C934.5 320.0 931.4 325.0 930.0 330.0C928.6 335.0 928.3 340.0 927.5 345.0C926.7 350.0 926.2 355.0 925.0 360.0C923.8 365.0 921.9 370.0 920.0 375.0C918.1 380.0 915.6 384.7 913.3 390.0C911.1 395.3 908.6 401.6 906.7 406.7C904.7 411.8 902.6 417.9 901.7 420.6C900.7 423.2 901.6 420.7 900.8 422.6C900.0 424.4 897.8 428.5 896.7 431.7C895.6 434.9 894.0 438.6 894.2 441.7C894.3 444.7 897.1 446.9 897.5 450.0C897.9 453.1 896.5 456.1 896.7 460.0C896.8 463.9 897.5 469.2 898.3 473.3C899.2 477.5 900.4 481.4 901.7 485.0C902.9 488.6 904.8 492.9 905.8 495.0C906.9 497.1 907.6 497.1 908.0 497.5" stroke="#aa161e" stroke-width="2.5" fill="none" stroke-linecap="round" stroke-linejoin="round"/>
<path d="M1037.3 177.5C1037.6 178.2 1039.1 180.3 1039.0 181.7C1038.9 183.1 1038.0 184.7 1036.5 185.8C1035.0 186.9 1031.5 186.8 1029.8 188.3C1028.2 189.9 1026.6 191.9 1026.5 195.0C1026.4 198.1 1027.2 202.8 1029.0 206.7C1030.8 210.6 1034.3 215.3 1037.3 218.3C1040.4 221.4 1044.3 223.6 1047.3 225.0C1050.4 226.4 1052.9 226.8 1055.7 226.7C1058.4 226.5 1062.6 224.6 1064.0 224.2C1064.4 226.2 1066.5 231.2 1066.5 236.7C1066.5 242.1 1064.4 253.3 1064.0 256.7C1065.1 254.7 1068.4 248.3 1070.7 245.0C1072.9 241.7 1075.1 238.5 1077.3 236.7C1079.6 234.9 1082.2 233.9 1084.0 234.2C1085.8 234.4 1087.3 235.7 1088.2 238.3C1089.1 241.0 1089.5 245.3 1089.3 250.0C1089.2 254.7 1088.0 260.6 1087.3 266.7C1086.7 272.8 1085.8 281.1 1085.6 286.7C1085.4 292.2 1085.6 295.2 1086.0 300.0C1086.5 304.7 1086.8 310.0 1088.2 315.0C1089.5 320.0 1092.6 325.0 1094.0 330.0C1095.4 335.0 1095.7 340.0 1096.5 345.0C1097.3 350.0 1097.8 355.0 1099.0 360.0C1100.2 365.0 1102.1 370.0 1104.0 375.0C1105.9 380.0 1108.4 384.7 1110.7 390.0C1112.9 395.3 1115.4 401.6 1117.3 406.7C1119.3 411.8 1121.4 417.9 1122.3 420.6C1123.3 423.2 1122.4 420.7 1123.2 422.6C1124.0 424.4 1126.2 428.5 1127.3 431.7C1128.4 434.9 1130.0 438.6 1129.8 441.7C1129.7 444.7 1126.9 446.9 1126.5 450.0C1126.1 453.1 1127.5 456.1 1127.3 460.0C1127.2 463.9 1126.5 469.2 1125.7 473.3C1124.8 477.5 1123.6 481.4 1122.3 485.0C1121.1 488.6 1119.2 492.9 1118.2 495.0C1117.1 497.1 1116.4 497.1 1116.0 497.5" stroke="#aa161e" stroke-width="2.5" fill="none" stroke-linecap="round" stroke-linejoin="round"/>
<path d="M960.8 348.3C960.7 349.2 959.3 351.9 960.0 353.3C960.7 354.7 963.8 355.3 965.0 356.7C966.2 358.1 967.5 360.0 967.5 361.7C967.5 363.3 966.5 365.4 965.0 366.7C963.5 367.9 960.1 368.1 958.3 369.2C956.5 370.3 955.1 372.1 954.2 373.3C953.2 374.6 952.8 376.1 952.5 376.7" stroke="#7ab82f" stroke-width="2.5" fill="none" stroke-linecap="round" stroke-linejoin="round"/>
<path d="M1063.2 348.3C1063.3 349.2 1064.7 351.9 1064.0 353.3C1063.3 354.7 1060.2 355.3 1059.0 356.7C1057.8 358.1 1056.5 360.0 1056.5 361.7C1056.5 363.3 1057.5 365.4 1059.0 366.7C1060.5 367.9 1063.9 368.1 1065.7 369.2C1067.5 370.3 1068.9 372.1 1069.8 373.3C1070.8 374.6 1071.2 376.1 1071.5 376.7" stroke="#7ab82f" stroke-width="2.5" fill="none" stroke-linecap="round" stroke-linejoin="round"/>
<path d="M1002.5 577.5C1002.2 579.0 1002.4 583.2 1000.8 586.7C999.3 590.1 995.7 594.7 993.3 598.3C991.0 601.9 988.1 605.0 986.7 608.3C985.2 611.7 984.8 614.7 984.7 618.3C984.5 621.9 984.9 626.1 985.8 630.0C986.7 633.9 988.7 638.1 990.0 641.7C991.3 645.3 993.0 648.6 993.7 651.7C994.4 654.7 994.1 658.6 994.2 660.0" stroke="#7ab82f" stroke-width="2.5" fill="none" stroke-linecap="round" stroke-linejoin="round"/>
<path d="M1021.5 577.5C1021.8 579.0 1021.6 583.2 1023.2 586.7C1024.7 590.1 1028.3 594.7 1030.7 598.3C1033.0 601.9 1035.9 605.0 1037.3 608.3C1038.8 611.7 1039.2 614.7 1039.3 618.3C1039.5 621.9 1039.1 626.1 1038.2 630.0C1037.3 633.9 1035.3 638.1 1034.0 641.7C1032.7 645.3 1031.0 648.6 1030.3 651.7C1029.6 654.7 1029.9 658.6 1029.8 660.0" stroke="#7ab82f" stroke-width="2.5" fill="none" stroke-linecap="round" stroke-linejoin="round"/>
<path d="M1012.0 466.7C1011.4 468.1 1009.6 470.8 1008.3 475.0C1007.0 479.2 1005.4 486.1 1004.2 491.7C1002.9 497.2 1001.8 502.8 1000.8 508.3C999.9 513.9 999.4 518.1 998.4 525.0C997.4 531.9 996.0 541.9 994.7 550.0C993.5 558.0 992.5 565.5 990.8 573.3C989.2 581.1 986.9 589.4 985.0 596.7C983.1 603.9 980.0 610.6 979.2 616.7C978.3 622.8 979.5 627.2 980.0 633.3C980.5 639.4 981.5 646.1 982.3 653.3C983.2 660.5 984.5 670.1 985.0 676.7C985.6 683.4 986.3 688.9 985.8 693.3C985.4 697.8 983.9 700.3 982.5 703.3C981.1 706.4 978.8 708.3 977.5 711.7C976.2 715.0 975.4 718.6 974.7 723.3C973.9 728.1 973.5 734.4 973.0 740.0C972.5 745.6 971.7 751.1 971.7 756.7C971.6 762.2 972.0 768.9 972.6 773.3C973.2 777.6 974.1 780.1 975.3 782.7C976.5 785.4 978.2 787.7 980.0 789.2C981.8 790.7 984.9 791.2 985.8 791.7" stroke="#1c6cb9" stroke-width="2.5" fill="none" stroke-linecap="round" stroke-linejoin="round"/>
<path d="M1012.0 466.7C1012.6 468.1 1014.4 470.8 1015.7 475.0C1017.0 479.2 1018.6 486.1 1019.8 491.7C1021.1 497.2 1022.2 502.8 1023.2 508.3C1024.1 513.9 1024.6 518.1 1025.6 525.0C1026.6 531.9 1028.0 541.9 1029.3 550.0C1030.5 558.0 1031.5 565.5 1033.2 573.3C1034.8 581.1 1037.1 589.4 1039.0 596.7C1040.9 603.9 1044.0 610.6 1044.8 616.7C1045.7 622.8 1044.5 627.2 1044.0 633.3C1043.5 639.4 1042.5 646.1 1041.7 653.3C1040.8 660.5 1039.5 670.1 1039.0 676.7C1038.4 683.4 1037.7 688.9 1038.2 693.3C1038.6 697.8 1040.1 700.3 1041.5 703.3C1042.9 706.4 1045.2 708.3 1046.5 711.7C1047.8 715.0 1048.6 718.6 1049.3 723.3C1050.1 728.1 1050.5 734.4 1051.0 740.0C1051.5 745.6 1052.3 751.1 1052.3 756.7C1052.4 762.2 1052.0 768.9 1051.4 773.3C1050.8 777.6 1049.9 780.1 1048.7 782.7C1047.5 785.4 1045.8 787.7 1044.0 789.2C1042.2 790.7 1039.1 791.2 1038.2 791.7" stroke="#1c6cb9" stroke-width="2.5" fill="none" stroke-linecap="round" stroke-linejoin="round"/>
<line x1="180.0" y1="57.0" x2="210.0" y2="75.0" stroke="#e7e7e7" stroke-width="1.5"/>
<line x1="116.0" y1="152.5" x2="210.0" y2="202.5" stroke="#e7e7e7" stroke-width="1.5"/>
<line x1="81.7" y1="210.8" x2="142.5" y2="243.3" stroke="#e7e7e7" stroke-width="1.5"/>
<line x1="77.5" y1="255.8" x2="136.7" y2="288.3" stroke="#e7e7e7" stroke-width="1.5"/>
<line x1="67.5" y1="299.2" x2="118.3" y2="328.3" stroke="#e7e7e7" stroke-width="1.5"/>
<line x1="65.0" y1="344.2" x2="100.0" y2="364.2" stroke="#e7e7e7" stroke-width="1.5"/>
<line x1="110.8" y1="595.8" x2="180.0" y2="634.2" stroke="#e7e7e7" stroke-width="1.5"/>
<line x1="233.3" y1="742.5" x2="248.3" y2="750.8" stroke="#e7e7e7" stroke-width="1.5"/>
<line x1="190.0" y1="781.7" x2="180.0" y2="786.7" stroke="#e7e7e7" stroke-width="1.5"/>
<line x1="253.3" y1="58.3" x2="219.8" y2="77.0" stroke="#e7e7e7" stroke-width="1.5"/>
<line x1="265.8" y1="76.7" x2="240.6" y2="88.6" stroke="#e7e7e7" stroke-width="1.5"/>
<line x1="284.2" y1="102.5" x2="250.0" y2="121.0" stroke="#e7e7e7" stroke-width="1.5"/>
<line x1="278.3" y1="121.7" x2="249.9" y2="132.4" stroke="#e7e7e7" stroke-width="1.5"/>
<line x1="280.8" y1="144.0" x2="240.6" y2="162.7" stroke="#e7e7e7" stroke-width="1.5"/>
<line x1="305.8" y1="184.2" x2="262.0" y2="207.0" stroke="#e7e7e7" stroke-width="1.5"/>
<line x1="345.8" y1="217.5" x2="240.0" y2="277.0" stroke="#e7e7e7" stroke-width="1.5"/>
<line x1="347.5" y1="286.7" x2="267.0" y2="331.7" stroke="#e7e7e7" stroke-width="1.5"/>
<line x1="371.3" y1="341.0" x2="281.7" y2="388.0" stroke="#e7e7e7" stroke-width="1.5"/>
<line x1="381.7" y1="491.7" x2="354.2" y2="505.8" stroke="#e7e7e7" stroke-width="1.5"/>
<line x1="306.7" y1="624.2" x2="271.7" y2="642.5" stroke="#e7e7e7" stroke-width="1.5"/>
<line x1="304.2" y1="754.2" x2="278.3" y2="768.3" stroke="#e7e7e7" stroke-width="1.5"/>
<line x1="321.7" y1="784.2" x2="294.2" y2="797.5" stroke="#e7e7e7" stroke-width="1.5"/>
<line x1="961.7" y1="55.0" x2="998.3" y2="75.0" stroke="#e7e7e7" stroke-width="1.5"/>
<line x1="955.8" y1="84.2" x2="983.3" y2="100.0" stroke="#e7e7e7" stroke-width="1.5"/>
<line x1="945.0" y1="115.8" x2="970.0" y2="130.8" stroke="#e7e7e7" stroke-width="1.5"/>
<line x1="936.7" y1="152.5" x2="985.0" y2="180.0" stroke="#e7e7e7" stroke-width="1.5"/>
<line x1="888.3" y1="204.2" x2="920.0" y2="220.0" stroke="#e7e7e7" stroke-width="1.5"/>
<line x1="877.5" y1="303.3" x2="965.0" y2="352.0" stroke="#e7e7e7" stroke-width="1.5"/>
<line x1="855.0" y1="383.3" x2="931.7" y2="425.0" stroke="#e7e7e7" stroke-width="1.5"/>
<line x1="846.7" y1="411.7" x2="895.0" y2="436.0" stroke="#e7e7e7" stroke-width="1.5"/>
<line x1="840.0" y1="436.7" x2="888.3" y2="461.7" stroke="#e7e7e7" stroke-width="1.5"/>
<line x1="830.8" y1="458.3" x2="856.7" y2="471.7" stroke="#e7e7e7" stroke-width="1.5"/>
<line x1="926.7" y1="560.8" x2="990.0" y2="595.8" stroke="#e7e7e7" stroke-width="1.5"/>
<line x1="913.3" y1="768.3" x2="938.3" y2="781.7" stroke="#e7e7e7" stroke-width="1.5"/>
<line x1="908.3" y1="780.8" x2="931.7" y2="793.3" stroke="#e7e7e7" stroke-width="1.5"/>
<line x1="1046.7" y1="55.0" x2="1014.2" y2="73.3" stroke="#e7e7e7" stroke-width="1.5"/>
<line x1="1100.8" y1="548.3" x2="1036.7" y2="582.5" stroke="#e7e7e7" stroke-width="1.5"/>
<line x1="1000.0" y1="772.0" x2="983.3" y2="780.8" stroke="#e7e7e7" stroke-width="1.5"/>
<line x1="998.0" y1="786.0" x2="987.0" y2="791.0" stroke="#e7e7e7" stroke-width="1.5"/>
<text x="147.5" y="60.0" font-size="17.4" fill="#7b2d8b" text-anchor="start" font-weight="bold" font-style="italic" stroke="#7b2d8b" stroke-width="0.5" textLength="29.5" lengthAdjust="spacingAndGlyphs">Gov</text>
<text x="82.0" y="153.0" font-size="17.4" fill="#a66bb5" text-anchor="start" font-weight="bold" font-style="italic" stroke="#a66bb5" stroke-width="0.5" textLength="28.5" lengthAdjust="spacingAndGlyphs">Con</text>
<text x="56.3" y="214.7" font-size="17.4" fill="#e39d1b" text-anchor="start" font-weight="bold" font-style="italic" stroke="#e39d1b" stroke-width="0.5" textLength="22.9" lengthAdjust="spacingAndGlyphs">Spl</text>
<text x="45.0" y="258.7" font-size="17.4" fill="#e31e24" text-anchor="start" font-weight="bold" font-style="italic" stroke="#e31e24" stroke-width="0.5" textLength="29.7" lengthAdjust="spacingAndGlyphs">Hea</text>
<text x="41.7" y="302.0" font-size="17.4" fill="#f49ac1" text-anchor="start" font-weight="bold" font-style="italic" stroke="#f49ac1" stroke-width="0.5" textLength="23.6" lengthAdjust="spacingAndGlyphs">Per</text>
<text x="35.8" y="346.3" font-size="17.4" fill="#cfcfcf" text-anchor="start" font-weight="bold" font-style="italic" stroke="#cfcfcf" stroke-width="0.5" textLength="27.2" lengthAdjust="spacingAndGlyphs">Lun</text>
<text x="84.7" y="597.5" font-size="17.4" fill="#e39d1b" text-anchor="start" font-weight="bold" font-style="italic" stroke="#e39d1b" stroke-width="0.5" textLength="23.6" lengthAdjust="spacingAndGlyphs">Spl</text>
<text x="212.5" y="743.3" font-size="17.4" fill="#7ab82f" text-anchor="start" font-weight="bold" font-style="italic" stroke="#7ab82f" stroke-width="0.5" textLength="21.5" lengthAdjust="spacingAndGlyphs">Liv</text>
<text x="191.8" y="784.2" font-size="17.4" fill="#e39d1b" text-anchor="start" font-weight="bold" font-style="italic" stroke="#e39d1b" stroke-width="0.5" textLength="22.5" lengthAdjust="spacingAndGlyphs">Spl</text>
<text x="255.3" y="57.5" font-size="17.4" fill="#4bb9ea" text-anchor="start" font-weight="bold" font-style="italic" stroke="#4bb9ea" stroke-width="0.5" textLength="23.4" lengthAdjust="spacingAndGlyphs">Bla</text>
<text x="267.0" y="76.3" font-size="17.4" fill="#a5781f" text-anchor="start" font-weight="bold" font-style="italic" stroke="#a5781f" stroke-width="0.5" textLength="23.8" lengthAdjust="spacingAndGlyphs">Sto</text>
<text x="273.0" y="99.7" font-size="17.4" fill="#e9478f" text-anchor="start" font-weight="bold" font-style="italic" stroke="#e9478f" stroke-width="0.5" textLength="32.8" lengthAdjust="spacingAndGlyphs">Tr W</text>
<text x="279.2" y="122.5" font-size="17.4" fill="#1b9a48" text-anchor="start" font-weight="bold" font-style="italic" stroke="#1b9a48" stroke-width="0.5" textLength="33.3" lengthAdjust="spacingAndGlyphs">Ga B</text>
<text x="282.0" y="147.2" font-size="17.4" fill="#aa161e" text-anchor="start" font-weight="bold" font-style="italic" stroke="#aa161e" stroke-width="0.5" textLength="30.5" lengthAdjust="spacingAndGlyphs">Sm I</text>
<text x="308.7" y="186.3" font-size="17.4" fill="#9a9a9a" text-anchor="start" font-weight="bold" font-style="italic" stroke="#9a9a9a" stroke-width="0.5" textLength="26.0" lengthAdjust="spacingAndGlyphs">La I</text>
<text x="348.8" y="219.7" font-size="17.4" fill="#1c6cb9" text-anchor="start" font-weight="bold" font-style="italic" stroke="#1c6cb9" stroke-width="0.5" textLength="23.7" lengthAdjust="spacingAndGlyphs">Kid</text>
<text x="350.0" y="289.7" font-size="17.4" fill="#7ab82f" text-anchor="start" font-weight="bold" font-style="italic" stroke="#7ab82f" stroke-width="0.5" textLength="21.7" lengthAdjust="spacingAndGlyphs">Liv</text>
<text x="374.4" y="340.6" font-size="17.4" fill="#1b9a48" text-anchor="start" font-weight="bold" font-style="italic" stroke="#1b9a48" stroke-width="0.5" textLength="33.3" lengthAdjust="spacingAndGlyphs">Ga B</text>
<text x="384.2" y="493.7" font-size="17.4" fill="#9a9a9a" text-anchor="start" font-weight="bold" font-style="italic" stroke="#9a9a9a" stroke-width="0.5" textLength="25.5" lengthAdjust="spacingAndGlyphs">La I</text>
<text x="308.7" y="625.0" font-size="17.4" fill="#a5781f" text-anchor="start" font-weight="bold" font-style="italic" stroke="#a5781f" stroke-width="0.5" textLength="24.3" lengthAdjust="spacingAndGlyphs">Sto</text>
<text x="306.3" y="754.2" font-size="17.4" fill="#1b9a48" text-anchor="start" font-weight="bold" font-style="italic" stroke="#1b9a48" stroke-width="0.5" textLength="34.0" lengthAdjust="spacingAndGlyphs">Ga B</text>
<text x="323.7" y="788.3" font-size="17.4" fill="#4bb9ea" text-anchor="start" font-weight="bold" font-style="italic" stroke="#4bb9ea" stroke-width="0.5" textLength="23.3" lengthAdjust="spacingAndGlyphs">Bla</text>
<text x="936.3" y="56.7" font-size="17.4" fill="#4bb9ea" text-anchor="start" font-weight="bold" font-style="italic" stroke="#4bb9ea" stroke-width="0.5" textLength="22.9" lengthAdjust="spacingAndGlyphs">Bla</text>
<text x="920.3" y="85.8" font-size="17.4" fill="#1b9a48" text-anchor="start" font-weight="bold" font-style="italic" stroke="#1b9a48" stroke-width="0.5" textLength="33.4" lengthAdjust="spacingAndGlyphs">Ga B</text>
<text x="912.5" y="118.7" font-size="17.4" fill="#e9478f" text-anchor="start" font-weight="bold" font-style="italic" stroke="#e9478f" stroke-width="0.5" textLength="31.7" lengthAdjust="spacingAndGlyphs">Tr W</text>
<text x="904.2" y="152.5" font-size="17.4" fill="#aa161e" text-anchor="start" font-weight="bold" font-style="italic" stroke="#aa161e" stroke-width="0.5" textLength="30.8" lengthAdjust="spacingAndGlyphs">Sm I</text>
<text x="861.3" y="205.5" font-size="17.4" fill="#9a9a9a" text-anchor="start" font-weight="bold" font-style="italic" stroke="#9a9a9a" stroke-width="0.5" textLength="25.0" lengthAdjust="spacingAndGlyphs">La I</text>
<text x="855.3" y="304.2" font-size="17.4" fill="#7ab82f" text-anchor="start" font-weight="bold" font-style="italic" stroke="#7ab82f" stroke-width="0.5" textLength="21.7" lengthAdjust="spacingAndGlyphs">Liv</text>
<text x="819.2" y="385.0" font-size="17.4" fill="#1b9a48" text-anchor="start" font-weight="bold" font-style="italic" stroke="#1b9a48" stroke-width="0.5" textLength="33.8" lengthAdjust="spacingAndGlyphs">Ga B</text>
<text x="813.0" y="412.2" font-size="17.4" fill="#aa161e" text-anchor="start" font-weight="bold" font-style="italic" stroke="#aa161e" stroke-width="0.5" textLength="31.2" lengthAdjust="spacingAndGlyphs">Sm I</text>
<text x="807.5" y="438.5" font-size="17.4" fill="#e9478f" text-anchor="start" font-weight="bold" font-style="italic" stroke="#e9478f" stroke-width="0.5" textLength="31.7" lengthAdjust="spacingAndGlyphs">Tr W</text>
<text x="803.0" y="461.4" font-size="17.4" fill="#9a9a9a" text-anchor="start" font-weight="bold" font-style="italic" stroke="#9a9a9a" stroke-width="0.5" textLength="25.3" lengthAdjust="spacingAndGlyphs">La I</text>
<text x="903.3" y="561.7" font-size="17.4" fill="#7ab82f" text-anchor="start" font-weight="bold" font-style="italic" stroke="#7ab82f" stroke-width="0.5" textLength="21.7" lengthAdjust="spacingAndGlyphs">Liv</text>
<text x="898.7" y="765.3" font-size="17.4" fill="#1b9a48" text-anchor="start" font-weight="bold" font-style="italic" stroke="#1b9a48" stroke-width="0.5" textLength="33.8" lengthAdjust="spacingAndGlyphs">Ga B</text>
<text x="881.7" y="784.7" font-size="17.4" fill="#4bb9ea" text-anchor="start" font-weight="bold" font-style="italic" stroke="#4bb9ea" stroke-width="0.5" textLength="23.6" lengthAdjust="spacingAndGlyphs">Bla</text>
<text x="1049.2" y="57.0" font-size="17.4" fill="#7b2d8b" text-anchor="start" font-weight="bold" font-style="italic" stroke="#7b2d8b" stroke-width="0.5" textLength="29.1" lengthAdjust="spacingAndGlyphs">Gov</text>
<text x="1102.5" y="550.8" font-size="17.4" fill="#1c6cb9" text-anchor="start" font-weight="bold" font-style="italic" stroke="#1c6cb9" stroke-width="0.5" textLength="23.3" lengthAdjust="spacingAndGlyphs">Kid</text>
<text x="1000.0" y="767.5" font-size="17.4" fill="#e39d1b" text-anchor="start" font-weight="bold" font-style="italic" stroke="#e39d1b" stroke-width="0.5" textLength="21.3" lengthAdjust="spacingAndGlyphs">Spl</text>
<text x="999.7" y="790.8" font-size="17.4" fill="#1c6cb9" text-anchor="start" font-weight="bold" font-style="italic" stroke="#1c6cb9" stroke-width="0.5" textLength="22.0" lengthAdjust="spacingAndGlyphs">Kid</text>
<text x="165.8" y="845.8" font-size="17.8" fill="#111" text-anchor="start" font-style="italic" textLength="88.9" lengthAdjust="spacingAndGlyphs">anterior view</text>
<text x="964.2" y="845.8" font-size="17.8" fill="#111" text-anchor="start" font-style="italic" textLength="95.5" lengthAdjust="spacingAndGlyphs">posterior view</text>
<text y="75.4" font-size="43.6" font-weight="bold" font-style="italic" fill="#000" stroke="#000" stroke-width="0.7"><tspan x="413.9" textLength="64" lengthAdjust="spacingAndGlyphs">The</tspan> <tspan x="494.2" textLength="91" lengthAdjust="spacingAndGlyphs">Body</tspan> <tspan x="602.6" textLength="198.4" lengthAdjust="spacingAndGlyphs">Meridians</tspan></text>
<line x1="414.0" y1="82.3" x2="566.0" y2="82.3" stroke="#000" stroke-width="1.8"/>
<line x1="583.5" y1="82.3" x2="800.5" y2="82.3" stroke="#000" stroke-width="1.8"/>
<text x="504.2" y="158.9" font-size="19.6" fill="#111" text-anchor="start" font-style="italic" textLength="204.7" lengthAdjust="spacingAndGlyphs">Two Centerline Meridians:</text>
<line x1="503.6" y1="163.7" x2="707.6" y2="163.7" stroke="#111" stroke-width="1.1"/>
<text x="499.3" y="325.8" font-size="19.6" fill="#111" text-anchor="start" font-style="italic" textLength="214.4" lengthAdjust="spacingAndGlyphs">Twelve Principal Meridians:</text>
<line x1="499.0" y1="330.7" x2="713.0" y2="330.7" stroke="#111" stroke-width="1.1"/>
<text x="530.4" y="208.3" font-size="18.6" fill="#a66bb5" text-anchor="start" textLength="151.7" lengthAdjust="spacingAndGlyphs">Conception Vessel</text>
<text x="534.7" y="238.7" font-size="18.6" fill="#7b2d8b" text-anchor="start" textLength="142.5" lengthAdjust="spacingAndGlyphs">Governing Vessel</text>
<text x="529.7" y="376.2" font-size="18.6" fill="#a5781f" text-anchor="start" textLength="152.9" lengthAdjust="spacingAndGlyphs">Stomach Meridian</text>
<text x="538.3" y="406.8" font-size="18.6" fill="#e39d1b" text-anchor="start" textLength="135.7" lengthAdjust="spacingAndGlyphs">Spleen Meridian</text>
<text x="505.5" y="454.3" font-size="18.6" fill="#aa161e" text-anchor="start" textLength="201.1" lengthAdjust="spacingAndGlyphs">Small Intestine Meridian</text>
<text x="543.7" y="484.1" font-size="18.6" fill="#e31e24" text-anchor="start" textLength="125.3" lengthAdjust="spacingAndGlyphs">Heart Meridian</text>
<text x="534.7" y="531.2" font-size="18.6" fill="#4bb9ea" text-anchor="start" textLength="142.7" lengthAdjust="spacingAndGlyphs">Bladder Meridian</text>
<text x="538.6" y="561.2" font-size="18.6" fill="#1c6cb9" text-anchor="start" textLength="136.2" lengthAdjust="spacingAndGlyphs">Kidney Meridian</text>
<text x="516.9" y="608.9" font-size="18.6" fill="#f49ac1" text-anchor="start" textLength="179.1" lengthAdjust="spacingAndGlyphs">Pericardium Meridian</text>
<text x="508.0" y="638.9" font-size="18.6" fill="#e9478f" text-anchor="start" textLength="195.6" lengthAdjust="spacingAndGlyphs">Triple Warmer Meridian</text>
<text x="516.7" y="685.9" font-size="18.6" fill="#1b9a48" text-anchor="start" textLength="179.3" lengthAdjust="spacingAndGlyphs">Gall Bladder Meridian</text>
<text x="547.4" y="715.6" font-size="18.6" fill="#7ab82f" text-anchor="start" textLength="117.9" lengthAdjust="spacingAndGlyphs">Liver Meridian</text>
<text x="546.4" y="763.2" font-size="18.6" fill="#cfcfcf" text-anchor="start" textLength="119.9" lengthAdjust="spacingAndGlyphs">Lung Meridian</text>
<text x="505.5" y="793.7" font-size="18.6" fill="#9a9a9a" text-anchor="start" textLength="201.9" lengthAdjust="spacingAndGlyphs">Large Intestine Meridian</text>
</svg>
</body></html>
